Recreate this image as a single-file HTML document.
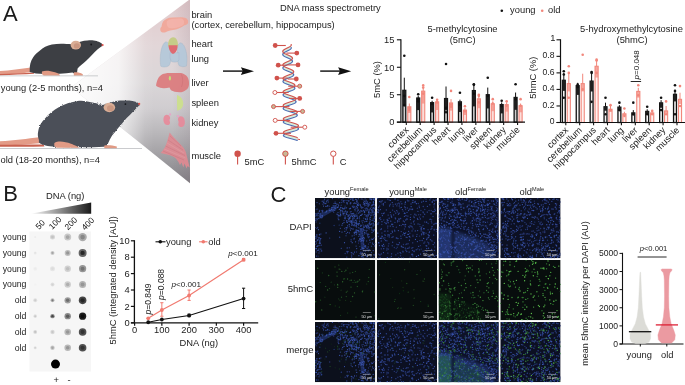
<!DOCTYPE html>
<html><head><meta charset="utf-8"><title>Figure</title>
<style>
html,body{margin:0;padding:0;background:#fff;}
body{width:685px;height:385px;overflow:hidden;}
svg.main{display:block;}
</style></head><body>
<svg class="main" width="685" height="385" viewBox="0 0 685 385" font-family="'Liberation Sans', Arial, sans-serif">
<rect width="685" height="385" fill="#fff"/>
<defs>
<linearGradient id="tri" x1="0" y1="0" x2="0" y2="183" gradientUnits="userSpaceOnUse">
<stop offset="0" stop-color="#e2cacc"/>
<stop offset="0.25" stop-color="#e2d6d8"/>
<stop offset="0.45" stop-color="#dad6d8"/>
<stop offset="0.59" stop-color="#d0cdd0"/>
<stop offset="0.72" stop-color="#bab8bb"/>
<stop offset="0.89" stop-color="#9a989c"/>
<stop offset="1" stop-color="#858287"/>
</linearGradient>
<linearGradient id="trih" x1="71" y1="0" x2="190" y2="0" gradientUnits="userSpaceOnUse">
<stop offset="0" stop-color="#fff" stop-opacity="0.95"/>
<stop offset="0.4" stop-color="#fff" stop-opacity="0.72"/>
<stop offset="0.62" stop-color="#fff" stop-opacity="0.08"/>
<stop offset="0.7" stop-color="#fff" stop-opacity="0"/>
<stop offset="0.85" stop-color="#604858" stop-opacity="0"/>
<stop offset="1" stop-color="#604858" stop-opacity="0.12"/>
</linearGradient>
<linearGradient id="wedge" x1="30" y1="0" x2="91" y2="0" gradientUnits="userSpaceOnUse">
<stop offset="0" stop-color="#fff"/>
<stop offset="1" stop-color="#1a1a1a"/>
</linearGradient>
<filter id="blur3" x="-20%" y="-20%" width="140%" height="140%"><feGaussianBlur stdDeviation="0.35"/></filter>
<filter id="blur6" x="-50%" y="-50%" width="200%" height="200%"><feGaussianBlur stdDeviation="0.6"/></filter>
<filter id="blur15" x="-50%" y="-50%" width="200%" height="200%"><feGaussianBlur stdDeviation="1.5"/></filter>
<filter id="fur" x="-5%" y="-8%" width="110%" height="116%"><feTurbulence type="fractalNoise" baseFrequency="0.9" numOctaves="2" seed="3" result="n"/><feDisplacementMap in="SourceGraphic" in2="n" scale="2.4" xChannelSelector="R" yChannelSelector="G"/><feGaussianBlur stdDeviation="0.3"/></filter>
<clipPath id="triclip"><polygon points="71.1,87.3 190,-0.8 190,183.3"/></clipPath>
</defs>
<text x="3.0" y="20.7" font-size="22" text-anchor="start" fill="#1a1a1a" >A</text>
<polygon points="71.1,87.3 190,-0.8 190,183.3" fill="url(#tri)"/>
<polygon points="71.1,87.3 190,-0.8 190,183.3" fill="url(#trih)"/>
<path d="M0,71.0 C10,70.4 21,68.8 31,67.4 L32,72 C22,73.4 10,74.2 0,74.8 Z" fill="#e39b87"/>
<path d="M0,73.9 C12,73.5 24,72.9 34,72.4 L34,73.8 C24,74.3 12,75 0,75.3 Z" fill="#c9614f"/>
<path d="M29.7,70 C29.5,66 30.5,61 33.2,57.2 C35,54.5 37.5,52.5 40,50.5 C43,47.8 47,45.6 51.9,44.6 C55,44 58,43.8 61,43.8 C65,43.8 68,44 71.7,44.3 L81.2,41.4 C83,40.8 85,40.5 87.4,40.4 C90,40.2 92,40.2 93.7,40.4 C96,40.7 97.5,41.2 98.7,41.7 C100.2,42.3 101.3,43 101.8,43.6 L103.1,45.1 C102.8,45.8 102.3,46.1 101.8,46.3 C100,47.5 98.5,48.5 97.4,49.5 C95.5,51.3 94,52.8 92.4,54.4 C90.3,56.5 88.2,58.6 86.2,60.7 C84.5,62.3 82.8,63.6 81.2,65 C79.8,66.2 78.5,67.2 77.6,68.5 L77,73.1 L73.5,73.3 L72.5,72.4 C65,73.6 55,73.9 45,73.9 C38,73.9 33,73.3 29.7,72 Z" fill="#3d3f44"/>
<ellipse cx="75.8" cy="45.1" rx="5.2" ry="4.4" fill="#d9ad95"/>
<ellipse cx="76.8" cy="45.9" rx="3.0" ry="2.6" fill="#c99680"/>
<circle cx="91.2" cy="44.5" r="0.9" fill="#15161a"/>
<circle cx="102.6" cy="45.1" r="1.1" fill="#e0564f"/>
<path d="M42,71.5 C45,70.2 50,70.6 55,72.3 C58,73.3 60,74.5 60,75.4 L44,75.6 C42,75 41.5,72.8 42,71.5 Z" fill="#e19a84"/>
<path d="M73.8,72.6 C76,72 80,72.6 82.8,74.2 L82.8,75.5 L73.8,75.5 Z" fill="#e19a84"/>
<rect x="0" y="75.4" width="98" height="0.9" fill="#8a8c92" opacity="0.45"/>
<path d="M0,141.3 C14,140.5 28,138.6 39,137.2 L40,143.2 C28,144.4 14,145 0,145.6 Z" fill="#e39b87"/>
<path d="M0,144.8 C14,144.6 30,144.4 44,144.4 L44,146.4 C30,146.6 14,146.8 0,146.8 Z" fill="#c9614f"/>
<path d="M38.9,140 C37.8,137 37.6,134 38.1,132 C38.6,129 39.3,126.5 40.4,124.6 C41.6,122.4 43,120.5 44.8,118.7 C46.6,116.6 48.6,114.6 50.7,112.8 C53.5,110.5 56.5,108.5 59.6,106.8 C62.5,105.3 65.5,104 68.5,103.1 C71.5,102.1 74.5,101.4 77.4,100.9 C80.5,100.5 83.5,100.6 86.2,101.2 C89.5,101.8 92.5,102.4 95.1,103.1 L102.8,105 L112.1,102.1 C114.8,101.2 117.3,100.8 119.9,100.6 C123,100.4 126.2,100.4 129.3,100.6 C131.5,100.9 133.6,101.2 135.5,101.7 C137.2,102.3 138.6,103 139.6,103.8 C139.4,104.8 139.1,105.5 138.6,106 C137.2,107.6 135.6,109.1 133.9,110.7 C131.4,113.3 128.8,115.9 126.2,118.5 C123.6,121.6 121,124.7 118.4,127.8 C116.3,130.4 114.2,133 112.1,135.6 C110.5,138.2 109,140.8 108,143.4 L107.6,146.6 L104,146.8 C90,147.6 70,147.4 55,146.8 C48,146.4 42,145 38.9,142.5 Z" fill="#4c5058" filter="url(#fur)"/>
<ellipse cx="109.4" cy="107.5" rx="5.8" ry="4.7" fill="#d9ad95"/>
<ellipse cx="110.4" cy="108.2" rx="3.4" ry="2.9" fill="#c99680"/>
<circle cx="125.4" cy="104.1" r="0.9" fill="#15161a"/>
<circle cx="139.2" cy="103.9" r="1.1" fill="#e0564f"/>
<path d="M54.4,143 C58,140.4 65,141.4 71,143.8 C75,145.5 78.8,146.8 78.8,147.8 L57,147.8 C54.5,147 53.8,144.5 54.4,143 Z" fill="#e19a84"/>
<path d="M104.3,145.6 C107,144.8 112,145 116.8,146.6 L116.8,148.2 L104.3,148.2 Z" fill="#e19a84"/>
<rect x="0" y="148" width="142" height="1" fill="#8a8c92" opacity="0.45"/>
<text x="0.8" y="90.8" font-size="9.35" text-anchor="start" fill="#222" >young (2-5 months), n=4</text>
<text x="0.5" y="163.3" font-size="9.35" text-anchor="start" fill="#222" >old (18-20 months), n=4</text>
<g clip-path="url(#triclip)" opacity="0.9">
<path d="M163.1,21.5 C165,19 168,17.6 172,17.4 L182,17.3 C184,17.4 185.5,17.8 186.5,18.6 C188,19.6 188.5,21.5 188,23 C187.5,24.5 186,25 184.5,25.3 C182,27 180,28.5 176,29.5 C172,30.3 168,30.8 165.5,32.2 C163.5,33 161.5,32.6 160.6,31 C159.8,29.3 160.4,27.5 161.5,26.8 C161.8,25 162.2,23 163.1,21.5 Z" fill="#f2a596"/>
<path d="M167,21 C170,18.5 176,18.2 181,18.6 C184,19.2 184.8,22 183.5,24.5 C181,27 176,28.2 171,28.3 C167.5,28.2 166,25 167,21 Z" fill="#f5b3aa" opacity="0.8"/>
<path d="M165.3,42 C162.5,44 160.8,50 160.4,56 C160.1,60 160.3,64 160.8,66.2 C162.5,67.3 166,67.2 168.5,66 C170.5,64 171,60 171,56 L171,47 C170,44 167.5,41.5 165.3,42 Z" fill="#b3c8da" stroke="#97b1c6" stroke-width="0.4"/>
<path d="M181,42.9 C184,44 186,49 186.7,55 C187.1,59 187,63 186.4,66 C184.5,67 181,66.8 179,65.5 C177.6,63 177.3,58 177.4,54 L177.5,47 C178,44.5 179.5,42.6 181,42.9 Z" fill="#b3c8da" stroke="#97b1c6" stroke-width="0.4"/>
<path d="M170,52.7 L179,52.7 L179,60 C177.5,62.5 174,62.5 171.5,61.5 L170,58 Z" fill="#b3c8da" stroke="#97b1c6" stroke-width="0.4"/>
<path d="M168.1,45.8 C167.8,41 170,37.4 173,37.3 C176,37.2 178.2,40.5 178,45.5 L178,46.6 L168.1,46.6 Z" fill="#c3cb80"/>
<path d="M168.6,45.3 L177.5,45.3 C177.8,48.5 176.8,51.5 174.5,53.2 C173.6,54 172.6,54.1 171.9,53.4 C169.7,51.5 168.4,48.5 168.6,45.3 Z" fill="#de5f66"/>
<path d="M156,85.5 C156.5,82 157.5,79 159,77 C160.2,75.5 161.5,74.5 162.8,74 L167.5,73 L181,73 C183.5,73.5 186,75 187.5,77 C188.8,79 189.2,82 189,84.5 C188.8,87 188,89 186,90 C184,91.5 182,92.3 179.7,92.3 C176,92.3 173,91.5 171,90.3 C170.2,89.2 169.8,88.2 169.5,87.6 C167.5,88 165.5,88.3 163.5,88.2 C161,88 159,87.5 158,87 C157,86.6 156.3,86.2 156,85.5 Z" fill="#dc787b"/>
<path d="M181.5,74.5 C183,78 183.2,83 181.5,87" stroke="#c96468" stroke-width="0.5" fill="none"/>
<ellipse cx="169.9" cy="78.3" rx="1.1" ry="2.3" fill="#bfe070"/>
<path d="M177,95 C180.5,96 183,99.5 183.2,103 C183.4,106.5 181.5,109.5 177.2,110.8 C177,105.5 176.9,100 177,95 Z" fill="#cde08a"/>
<path d="M166.5,114.7 C169,114.7 170.5,116.5 170.1,118.6 C169.4,119.6 169.3,120.8 170,122 C170.4,124 169,125.3 167,125.1 C164.8,124.9 163.5,122.5 163.4,120 C163.3,117 164.5,114.8 166.5,114.7 Z" fill="#e8899a"/>
<path d="M181,116.2 C178.6,116.2 177.6,118.3 178.1,120.5 C178.9,121.7 178.9,122.8 178.2,124 C178,126 179.8,127.3 181.9,127.1 C184,126.8 185,124.5 184.9,122 C184.8,118.8 183.5,116.3 181,116.2 Z" fill="#e8899a"/>
<circle cx="170.1" cy="114.4" r="1.1" fill="#eaa0c8"/><circle cx="178" cy="116.1" r="1.1" fill="#eaa0c8"/>
<path d="M169.7,132.6 C173,137 178,142 183.4,147.4 C185.5,150.5 186.5,153.5 186.9,156.6 C187.8,160 188.8,164 189.7,167.4 L187.5,166 L186.6,168.6 L184.5,163.5 L183.3,167.5 L181.5,162.5 L180,165 C178,160.5 176,158 173,156.5 C169,155 165,154 160.6,153.1 C162.5,151 164.5,148.5 166,145 C167.5,141 168.5,136.5 169.7,132.6 Z" fill="#e08a92"/>
<g stroke="#c66a75" stroke-width="0.45" fill="none" opacity="0.85"><path d="M168,140 L183,150"/><path d="M165.5,146 L185,155.5"/><path d="M163,151 L184,160"/><path d="M170,136 L181,146"/></g>
<g stroke="#f0b0b5" stroke-width="0.4" fill="none" opacity="0.8"><path d="M167,143 L184,153"/><path d="M164,149 L185.5,158"/></g>
</g>
<text x="191.4" y="17.7" font-size="9.35" text-anchor="start" fill="#222" >brain</text>
<text x="191.4" y="28.4" font-size="9.35" text-anchor="start" fill="#222" >(cortex, cerebellum, hippocampus)</text>
<text x="191.4" y="47.4" font-size="9.35" text-anchor="start" fill="#222" >heart</text>
<text x="191.4" y="61.9" font-size="9.35" text-anchor="start" fill="#222" >lung</text>
<text x="191.4" y="85.6" font-size="9.35" text-anchor="start" fill="#222" >liver</text>
<text x="191.4" y="105.8" font-size="9.35" text-anchor="start" fill="#222" >spleen</text>
<text x="191.4" y="125.6" font-size="9.35" text-anchor="start" fill="#222" >kidney</text>
<text x="191.4" y="158.8" font-size="9.35" text-anchor="start" fill="#222" >muscle</text>
<text x="280.0" y="11.4" font-size="9.35" text-anchor="start" fill="#222" >DNA mass spectrometry</text>
<line x1="223" y1="71.1" x2="244" y2="71.1" stroke="#1a1a1a" stroke-width="1.5"/>
<polygon points="240.9,67.19999999999999 254,71.3 240.9,75.0 242.7,71.1" fill="#111"/>
<line x1="320.2" y1="71.1" x2="341.2" y2="71.1" stroke="#1a1a1a" stroke-width="1.5"/>
<polygon points="338.09999999999997,67.19999999999999 351.2,71.3 338.09999999999997,75.0 339.9,71.1" fill="#111"/>
<polygon points="291.24,44.50 291.28,44.75 291.25,45.00 291.17,45.25 291.03,45.50 290.84,45.75 290.59,46.00 290.29,46.25 289.95,46.50 289.57,46.75 289.15,47.00 288.71,47.25 288.24,47.50 287.75,47.75 287.25,48.00 286.75,48.25 286.25,48.50 285.76,48.75 285.29,49.00 284.84,49.25 284.42,49.50 284.04,49.75 283.70,50.00 283.40,50.25 283.16,50.50 282.97,50.75 282.84,51.00 282.77,51.25 282.76,51.50 282.81,51.75 282.92,52.00 283.10,52.25 283.33,52.50 283.62,52.75 283.95,53.00 284.34,53.25 284.77,53.50 285.24,53.75 285.74,54.00 286.27,54.25 286.81,54.50 287.37,54.75 287.92,55.00 288.48,55.25 289.02,55.50 289.55,55.75 290.05,56.00 290.52,56.25 290.95,56.50 291.33,56.75 291.67,57.00 291.95,57.25 292.18,57.50 292.34,57.75 292.44,58.00 292.47,58.25 292.44,58.50 292.35,58.75 292.19,59.00 291.97,59.25 291.69,59.50 291.35,59.75 290.97,60.00 290.54,60.25 290.07,60.50 289.56,60.75 289.03,61.00 288.48,61.25 287.92,61.50 287.35,61.75 286.79,62.00 286.24,62.25 285.71,62.50 285.21,62.75 284.74,63.00 284.31,63.25 283.93,63.50 283.60,63.75 283.32,64.00 283.11,64.25 282.96,64.50 282.88,64.75 282.87,65.00 282.93,65.25 283.06,65.50 283.25,65.75 283.51,66.00 283.83,66.25 284.21,66.50 284.64,66.75 285.12,67.00 285.64,67.25 286.20,67.50 286.79,67.75 287.39,68.00 288.01,68.25 288.63,68.50 289.25,68.75 289.85,69.00 290.44,69.25 290.99,69.50 291.51,69.75 291.99,70.00 292.42,70.25 292.79,70.50 293.10,70.75 293.35,71.00 293.53,71.25 293.64,71.50 293.67,71.75 293.64,72.00 293.53,72.25 293.35,72.50 293.10,72.75 292.79,73.00 292.41,73.25 291.98,73.50 291.50,73.75 290.98,74.00 290.42,74.25 289.83,74.50 289.21,74.75 288.59,75.00 287.96,75.25 287.34,75.50 286.72,75.75 286.14,76.00 285.58,76.25 285.06,76.50 284.58,76.75 284.16,77.00 283.79,77.25 283.49,77.50 283.25,77.75 283.09,78.00 283.00,78.25 282.99,78.50 283.05,78.75 283.19,79.00 283.40,79.25 283.69,79.50 284.04,79.75 284.46,80.00 284.94,80.25 285.47,80.50 286.05,80.75 286.66,81.00 287.31,81.25 287.97,81.50 288.65,81.75 289.34,82.00 290.02,82.25 290.68,82.50 291.33,82.75 291.94,83.00 292.51,83.25 293.03,83.50 293.50,83.75 293.91,84.00 294.25,84.25 294.52,84.50 294.72,84.75 294.84,85.00 294.87,85.25 294.83,85.50 294.71,85.75 294.51,86.00 294.24,86.25 293.89,86.50 293.48,86.75 293.00,87.00 292.47,87.25 291.89,87.50 291.27,87.75 290.62,88.00 289.95,88.25 289.26,88.50 288.57,88.75 287.88,89.00 287.21,89.25 286.56,89.50 285.95,89.75 285.37,90.00 284.85,90.25 284.38,90.50 283.98,90.75 283.65,91.00 283.39,91.25 283.21,91.50 283.12,91.75 283.10,92.00 283.17,92.25 283.32,92.50 283.56,92.75 283.87,93.00 284.26,93.25 284.72,93.50 285.24,93.75 285.82,94.00 286.45,94.25 287.12,94.50 287.83,94.75 288.56,95.00 289.30,95.25 290.05,95.50 290.79,95.75 291.52,96.00 292.22,96.25 292.88,96.50 293.51,96.75 294.08,97.00 294.59,97.25 295.03,97.50 295.40,97.75 295.70,98.00 295.91,98.25 296.03,98.50 296.07,98.75 296.03,99.00 295.89,99.25 295.67,99.50 295.37,99.75 294.99,100.00 294.54,100.25 294.02,100.50 293.43,100.75 292.80,101.00 292.13,101.25 291.41,101.50 290.68,101.75 289.93,102.00 289.17,102.25 288.42,102.50 287.69,102.75 286.99,103.00 286.32,103.25 285.69,103.50 285.12,103.75 284.61,104.00 284.18,104.25 283.81,104.50 283.53,104.75 283.34,105.00 283.23,105.25 283.22,105.50 283.29,105.75 283.46,106.00 283.71,106.25 284.05,106.50 284.47,106.75 284.97,107.00 285.54,107.25 286.17,107.50 286.85,107.75 287.58,108.00 288.35,108.25 289.14,108.50 289.94,108.75 290.75,109.00 291.56,109.25 292.35,109.50 293.11,109.75 293.83,110.00 294.50,110.25 295.12,110.50 295.67,110.75 296.15,111.00 296.55,111.25 296.87,111.50 297.10,111.75 297.23,112.00 297.27,112.25 297.22,112.50 297.07,112.75 296.83,113.00 296.50,113.25 296.09,113.50 295.60,113.75 295.03,114.00 294.40,114.25 293.71,114.50 292.98,114.75 292.21,115.00 291.41,115.25 290.60,115.50 289.78,115.75 288.97,116.00 288.17,116.25 287.41,116.50 286.69,116.75 286.01,117.00 285.39,117.25 284.84,117.50 284.37,117.75 283.98,118.00 283.67,118.25 283.46,118.50 283.35,118.75 283.33,119.00 283.41,119.25 283.59,119.50 283.86,119.75 284.23,120.00 284.69,120.25 285.22,120.50 285.84,120.75 286.52,121.00 287.25,121.25 288.04,121.50 288.87,121.75 289.72,122.00 290.59,122.25 291.46,122.50 292.33,122.75 293.18,123.00 294.00,123.25 294.77,123.50 295.50,123.75 296.16,124.00 296.76,124.25 297.27,124.50 297.70,124.75 298.04,125.00 298.29,125.25 298.43,125.50 298.47,125.75 298.41,126.00 298.25,126.25 297.99,126.50 297.64,126.75 297.19,127.00 296.66,127.25 296.05,127.50 295.37,127.75 294.63,128.00 293.83,128.25 293.00,128.50 292.14,128.75 291.27,129.00 290.39,129.25 289.51,129.50 288.66,129.75 287.84,130.00 287.05,130.25 286.33,130.50 285.66,130.75 285.07,131.00 284.56,131.25 284.14,131.50 283.82,131.75 283.59,132.00 283.46,132.25 283.45,132.50 283.53,132.75 283.72,133.00 284.02,133.25 284.41,133.50 284.90,133.75 285.48,134.00 286.13,134.25 286.86,134.50 287.66,134.75 288.50,135.00 289.39,135.25 290.30,135.50 291.23,135.75 292.17,136.00 293.10,136.25 294.01,136.50 294.88,136.75 295.72,137.00 296.49,137.25 297.21,137.50 297.21,140.50 296.49,140.25 295.72,140.00 294.88,139.75 294.01,139.50 293.10,139.25 292.17,139.00 291.23,138.75 290.30,138.50 289.39,138.25 288.50,138.00 287.66,137.75 286.86,137.50 286.13,137.25 285.48,137.00 284.90,136.75 284.41,136.50 284.02,136.25 283.72,136.00 283.53,135.75 283.45,135.50 283.46,135.25 283.59,135.00 283.82,134.75 284.14,134.50 284.56,134.25 285.07,134.00 285.66,133.75 286.33,133.50 287.05,133.25 287.84,133.00 288.66,132.75 289.51,132.50 290.39,132.25 291.27,132.00 292.14,131.75 293.00,131.50 293.83,131.25 294.63,131.00 295.37,130.75 296.05,130.50 296.66,130.25 297.19,130.00 297.64,129.75 297.99,129.50 298.25,129.25 298.41,129.00 298.47,128.75 298.43,128.50 298.29,128.25 298.04,128.00 297.70,127.75 297.27,127.50 296.76,127.25 296.16,127.00 295.50,126.75 294.77,126.50 294.00,126.25 293.18,126.00 292.33,125.75 291.46,125.50 290.59,125.25 289.72,125.00 288.87,124.75 288.04,124.50 287.25,124.25 286.52,124.00 285.84,123.75 285.22,123.50 284.69,123.25 284.23,123.00 283.86,122.75 283.59,122.50 283.41,122.25 283.33,122.00 283.35,121.75 283.46,121.50 283.67,121.25 283.98,121.00 284.37,120.75 284.84,120.50 285.39,120.25 286.01,120.00 286.69,119.75 287.41,119.50 288.17,119.25 288.97,119.00 289.78,118.75 290.60,118.50 291.41,118.25 292.21,118.00 292.98,117.75 293.71,117.50 294.40,117.25 295.03,117.00 295.60,116.75 296.09,116.50 296.50,116.25 296.83,116.00 297.07,115.75 297.22,115.50 297.27,115.25 297.23,115.00 297.10,114.75 296.87,114.50 296.55,114.25 296.15,114.00 295.67,113.75 295.12,113.50 294.50,113.25 293.83,113.00 293.11,112.75 292.35,112.50 291.56,112.25 290.75,112.00 289.94,111.75 289.14,111.50 288.35,111.25 287.58,111.00 286.85,110.75 286.17,110.50 285.54,110.25 284.97,110.00 284.47,109.75 284.05,109.50 283.71,109.25 283.46,109.00 283.29,108.75 283.22,108.50 283.23,108.25 283.34,108.00 283.53,107.75 283.81,107.50 284.18,107.25 284.61,107.00 285.12,106.75 285.69,106.50 286.32,106.25 286.99,106.00 287.69,105.75 288.42,105.50 289.17,105.25 289.93,105.00 290.68,104.75 291.41,104.50 292.13,104.25 292.80,104.00 293.43,103.75 294.02,103.50 294.54,103.25 294.99,103.00 295.37,102.75 295.67,102.50 295.89,102.25 296.03,102.00 296.07,101.75 296.03,101.50 295.91,101.25 295.70,101.00 295.40,100.75 295.03,100.50 294.59,100.25 294.08,100.00 293.51,99.75 292.88,99.50 292.22,99.25 291.52,99.00 290.79,98.75 290.05,98.50 289.30,98.25 288.56,98.00 287.83,97.75 287.12,97.50 286.45,97.25 285.82,97.00 285.24,96.75 284.72,96.50 284.26,96.25 283.87,96.00 283.56,95.75 283.32,95.50 283.17,95.25 283.10,95.00 283.12,94.75 283.21,94.50 283.39,94.25 283.65,94.00 283.98,93.75 284.38,93.50 284.85,93.25 285.37,93.00 285.95,92.75 286.56,92.50 287.21,92.25 287.88,92.00 288.57,91.75 289.26,91.50 289.95,91.25 290.62,91.00 291.27,90.75 291.89,90.50 292.47,90.25 293.00,90.00 293.48,89.75 293.89,89.50 294.24,89.25 294.51,89.00 294.71,88.75 294.83,88.50 294.87,88.25 294.84,88.00 294.72,87.75 294.52,87.50 294.25,87.25 293.91,87.00 293.50,86.75 293.03,86.50 292.51,86.25 291.94,86.00 291.33,85.75 290.68,85.50 290.02,85.25 289.34,85.00 288.65,84.75 287.97,84.50 287.31,84.25 286.66,84.00 286.05,83.75 285.47,83.50 284.94,83.25 284.46,83.00 284.04,82.75 283.69,82.50 283.40,82.25 283.19,82.00 283.05,81.75 282.99,81.50 283.00,81.25 283.09,81.00 283.25,80.75 283.49,80.50 283.79,80.25 284.16,80.00 284.58,79.75 285.06,79.50 285.58,79.25 286.14,79.00 286.72,78.75 287.34,78.50 287.96,78.25 288.59,78.00 289.21,77.75 289.83,77.50 290.42,77.25 290.98,77.00 291.50,76.75 291.98,76.50 292.41,76.25 292.79,76.00 293.10,75.75 293.35,75.50 293.53,75.25 293.64,75.00 293.67,74.75 293.64,74.50 293.53,74.25 293.35,74.00 293.10,73.75 292.79,73.50 292.42,73.25 291.99,73.00 291.51,72.75 290.99,72.50 290.44,72.25 289.85,72.00 289.25,71.75 288.63,71.50 288.01,71.25 287.39,71.00 286.79,70.75 286.20,70.50 285.64,70.25 285.12,70.00 284.64,69.75 284.21,69.50 283.83,69.25 283.51,69.00 283.25,68.75 283.06,68.50 282.93,68.25 282.87,68.00 282.88,67.75 282.96,67.50 283.11,67.25 283.32,67.00 283.60,66.75 283.93,66.50 284.31,66.25 284.74,66.00 285.21,65.75 285.71,65.50 286.24,65.25 286.79,65.00 287.35,64.75 287.92,64.50 288.48,64.25 289.03,64.00 289.56,63.75 290.07,63.50 290.54,63.25 290.97,63.00 291.35,62.75 291.69,62.50 291.97,62.25 292.19,62.00 292.35,61.75 292.44,61.50 292.47,61.25 292.44,61.00 292.34,60.75 292.18,60.50 291.95,60.25 291.67,60.00 291.33,59.75 290.95,59.50 290.52,59.25 290.05,59.00 289.55,58.75 289.02,58.50 288.48,58.25 287.92,58.00 287.37,57.75 286.81,57.50 286.27,57.25 285.74,57.00 285.24,56.75 284.77,56.50 284.34,56.25 283.95,56.00 283.62,55.75 283.33,55.50 283.10,55.25 282.92,55.00 282.81,54.75 282.76,54.50 282.77,54.25 282.84,54.00 282.97,53.75 283.16,53.50 283.40,53.25 283.70,53.00 284.04,52.75 284.42,52.50 284.84,52.25 285.29,52.00 285.76,51.75 286.25,51.50 286.75,51.25 287.25,51.00 287.75,50.75 288.24,50.50 288.71,50.25 289.15,50.00 289.57,49.75 289.95,49.50 290.29,49.25 290.59,49.00 290.84,48.75 291.03,48.50 291.17,48.25 291.25,48.00 291.28,47.75 291.24,47.50" fill="#d4eadc"/>
<path d="M291.24,47.50 L291.28,47.75 L291.25,48.00 L291.17,48.25 L291.03,48.50 L290.84,48.75 L290.59,49.00 L290.29,49.25 L289.95,49.50 L289.57,49.75 L289.15,50.00 L288.71,50.25 L288.24,50.50 L287.75,50.75 L287.25,51.00 L286.75,51.25 L286.25,51.50 L285.76,51.75 L285.29,52.00 L284.84,52.25 L284.42,52.50 L284.04,52.75 L283.70,53.00 L283.40,53.25 L283.16,53.50 L282.97,53.75 L282.84,54.00 L282.77,54.25 L282.76,54.50 L282.81,54.75 L282.92,55.00 L283.10,55.25 L283.33,55.50 L283.62,55.75 L283.95,56.00 L284.34,56.25 L284.77,56.50 L285.24,56.75 L285.74,57.00 L286.27,57.25 L286.81,57.50 L287.37,57.75 L287.92,58.00 L288.48,58.25 L289.02,58.50 L289.55,58.75 L290.05,59.00 L290.52,59.25 L290.95,59.50 L291.33,59.75 L291.67,60.00 L291.95,60.25 L292.18,60.50 L292.34,60.75 L292.44,61.00 L292.47,61.25 L292.44,61.50 L292.35,61.75 L292.19,62.00 L291.97,62.25 L291.69,62.50 L291.35,62.75 L290.97,63.00 L290.54,63.25 L290.07,63.50 L289.56,63.75 L289.03,64.00 L288.48,64.25 L287.92,64.50 L287.35,64.75 L286.79,65.00 L286.24,65.25 L285.71,65.50 L285.21,65.75 L284.74,66.00 L284.31,66.25 L283.93,66.50 L283.60,66.75 L283.32,67.00 L283.11,67.25 L282.96,67.50 L282.88,67.75 L282.87,68.00 L282.93,68.25 L283.06,68.50 L283.25,68.75 L283.51,69.00 L283.83,69.25 L284.21,69.50 L284.64,69.75 L285.12,70.00 L285.64,70.25 L286.20,70.50 L286.79,70.75 L287.39,71.00 L288.01,71.25 L288.63,71.50 L289.25,71.75 L289.85,72.00 L290.44,72.25 L290.99,72.50 L291.51,72.75 L291.99,73.00 L292.42,73.25 L292.79,73.50 L293.10,73.75 L293.35,74.00 L293.53,74.25 L293.64,74.50 L293.67,74.75 L293.64,75.00 L293.53,75.25 L293.35,75.50 L293.10,75.75 L292.79,76.00 L292.41,76.25 L291.98,76.50 L291.50,76.75 L290.98,77.00 L290.42,77.25 L289.83,77.50 L289.21,77.75 L288.59,78.00 L287.96,78.25 L287.34,78.50 L286.72,78.75 L286.14,79.00 L285.58,79.25 L285.06,79.50 L284.58,79.75 L284.16,80.00 L283.79,80.25 L283.49,80.50 L283.25,80.75 L283.09,81.00 L283.00,81.25 L282.99,81.50 L283.05,81.75 L283.19,82.00 L283.40,82.25 L283.69,82.50 L284.04,82.75 L284.46,83.00 L284.94,83.25 L285.47,83.50 L286.05,83.75 L286.66,84.00 L287.31,84.25 L287.97,84.50 L288.65,84.75 L289.34,85.00 L290.02,85.25 L290.68,85.50 L291.33,85.75 L291.94,86.00 L292.51,86.25 L293.03,86.50 L293.50,86.75 L293.91,87.00 L294.25,87.25 L294.52,87.50 L294.72,87.75 L294.84,88.00 L294.87,88.25 L294.83,88.50 L294.71,88.75 L294.51,89.00 L294.24,89.25 L293.89,89.50 L293.48,89.75 L293.00,90.00 L292.47,90.25 L291.89,90.50 L291.27,90.75 L290.62,91.00 L289.95,91.25 L289.26,91.50 L288.57,91.75 L287.88,92.00 L287.21,92.25 L286.56,92.50 L285.95,92.75 L285.37,93.00 L284.85,93.25 L284.38,93.50 L283.98,93.75 L283.65,94.00 L283.39,94.25 L283.21,94.50 L283.12,94.75 L283.10,95.00 L283.17,95.25 L283.32,95.50 L283.56,95.75 L283.87,96.00 L284.26,96.25 L284.72,96.50 L285.24,96.75 L285.82,97.00 L286.45,97.25 L287.12,97.50 L287.83,97.75 L288.56,98.00 L289.30,98.25 L290.05,98.50 L290.79,98.75 L291.52,99.00 L292.22,99.25 L292.88,99.50 L293.51,99.75 L294.08,100.00 L294.59,100.25 L295.03,100.50 L295.40,100.75 L295.70,101.00 L295.91,101.25 L296.03,101.50 L296.07,101.75 L296.03,102.00 L295.89,102.25 L295.67,102.50 L295.37,102.75 L294.99,103.00 L294.54,103.25 L294.02,103.50 L293.43,103.75 L292.80,104.00 L292.13,104.25 L291.41,104.50 L290.68,104.75 L289.93,105.00 L289.17,105.25 L288.42,105.50 L287.69,105.75 L286.99,106.00 L286.32,106.25 L285.69,106.50 L285.12,106.75 L284.61,107.00 L284.18,107.25 L283.81,107.50 L283.53,107.75 L283.34,108.00 L283.23,108.25 L283.22,108.50 L283.29,108.75 L283.46,109.00 L283.71,109.25 L284.05,109.50 L284.47,109.75 L284.97,110.00 L285.54,110.25 L286.17,110.50 L286.85,110.75 L287.58,111.00 L288.35,111.25 L289.14,111.50 L289.94,111.75 L290.75,112.00 L291.56,112.25 L292.35,112.50 L293.11,112.75 L293.83,113.00 L294.50,113.25 L295.12,113.50 L295.67,113.75 L296.15,114.00 L296.55,114.25 L296.87,114.50 L297.10,114.75 L297.23,115.00 L297.27,115.25 L297.22,115.50 L297.07,115.75 L296.83,116.00 L296.50,116.25 L296.09,116.50 L295.60,116.75 L295.03,117.00 L294.40,117.25 L293.71,117.50 L292.98,117.75 L292.21,118.00 L291.41,118.25 L290.60,118.50 L289.78,118.75 L288.97,119.00 L288.17,119.25 L287.41,119.50 L286.69,119.75 L286.01,120.00 L285.39,120.25 L284.84,120.50 L284.37,120.75 L283.98,121.00 L283.67,121.25 L283.46,121.50 L283.35,121.75 L283.33,122.00 L283.41,122.25 L283.59,122.50 L283.86,122.75 L284.23,123.00 L284.69,123.25 L285.22,123.50 L285.84,123.75 L286.52,124.00 L287.25,124.25 L288.04,124.50 L288.87,124.75 L289.72,125.00 L290.59,125.25 L291.46,125.50 L292.33,125.75 L293.18,126.00 L294.00,126.25 L294.77,126.50 L295.50,126.75 L296.16,127.00 L296.76,127.25 L297.27,127.50 L297.70,127.75 L298.04,128.00 L298.29,128.25 L298.43,128.50 L298.47,128.75 L298.41,129.00 L298.25,129.25 L297.99,129.50 L297.64,129.75 L297.19,130.00 L296.66,130.25 L296.05,130.50 L295.37,130.75 L294.63,131.00 L293.83,131.25 L293.00,131.50 L292.14,131.75 L291.27,132.00 L290.39,132.25 L289.51,132.50 L288.66,132.75 L287.84,133.00 L287.05,133.25 L286.33,133.50 L285.66,133.75 L285.07,134.00 L284.56,134.25 L284.14,134.50 L283.82,134.75 L283.59,135.00 L283.46,135.25 L283.45,135.50 L283.53,135.75 L283.72,136.00 L284.02,136.25 L284.41,136.50 L284.90,136.75 L285.48,137.00 L286.13,137.25 L286.86,137.50 L287.66,137.75 L288.50,138.00 L289.39,138.25 L290.30,138.50 L291.23,138.75 L292.17,139.00 L293.10,139.25 L294.01,139.50 L294.88,139.75 L295.72,140.00 L296.49,140.25 L297.21,140.50" fill="none" stroke="#4a6cb4" stroke-width="1.2" stroke-linecap="round"/>
<path d="M291.24,44.50 L291.28,44.75 L291.25,45.00 L291.17,45.25 L291.03,45.50 L290.84,45.75 L290.59,46.00 L290.29,46.25 L289.95,46.50 L289.57,46.75 L289.15,47.00 L288.71,47.25 L288.24,47.50 L287.75,47.75 L287.25,48.00 L286.75,48.25 L286.25,48.50 L285.76,48.75 L285.29,49.00 L284.84,49.25 L284.42,49.50 L284.04,49.75 L283.70,50.00 L283.40,50.25 L283.16,50.50 L282.97,50.75 L282.84,51.00 L282.77,51.25 L282.76,51.50 L282.81,51.75 L282.92,52.00 L283.10,52.25 L283.33,52.50 L283.62,52.75 L283.95,53.00 L284.34,53.25 L284.77,53.50 L285.24,53.75 L285.74,54.00 L286.27,54.25 L286.81,54.50 L287.37,54.75 L287.92,55.00 L288.48,55.25 L289.02,55.50 L289.55,55.75 L290.05,56.00 L290.52,56.25 L290.95,56.50 L291.33,56.75 L291.67,57.00 L291.95,57.25 L292.18,57.50 L292.34,57.75 L292.44,58.00 L292.47,58.25 L292.44,58.50 L292.35,58.75 L292.19,59.00 L291.97,59.25 L291.69,59.50 L291.35,59.75 L290.97,60.00 L290.54,60.25 L290.07,60.50 L289.56,60.75 L289.03,61.00 L288.48,61.25 L287.92,61.50 L287.35,61.75 L286.79,62.00 L286.24,62.25 L285.71,62.50 L285.21,62.75 L284.74,63.00 L284.31,63.25 L283.93,63.50 L283.60,63.75 L283.32,64.00 L283.11,64.25 L282.96,64.50 L282.88,64.75 L282.87,65.00 L282.93,65.25 L283.06,65.50 L283.25,65.75 L283.51,66.00 L283.83,66.25 L284.21,66.50 L284.64,66.75 L285.12,67.00 L285.64,67.25 L286.20,67.50 L286.79,67.75 L287.39,68.00 L288.01,68.25 L288.63,68.50 L289.25,68.75 L289.85,69.00 L290.44,69.25 L290.99,69.50 L291.51,69.75 L291.99,70.00 L292.42,70.25 L292.79,70.50 L293.10,70.75 L293.35,71.00 L293.53,71.25 L293.64,71.50 L293.67,71.75 L293.64,72.00 L293.53,72.25 L293.35,72.50 L293.10,72.75 L292.79,73.00 L292.41,73.25 L291.98,73.50 L291.50,73.75 L290.98,74.00 L290.42,74.25 L289.83,74.50 L289.21,74.75 L288.59,75.00 L287.96,75.25 L287.34,75.50 L286.72,75.75 L286.14,76.00 L285.58,76.25 L285.06,76.50 L284.58,76.75 L284.16,77.00 L283.79,77.25 L283.49,77.50 L283.25,77.75 L283.09,78.00 L283.00,78.25 L282.99,78.50 L283.05,78.75 L283.19,79.00 L283.40,79.25 L283.69,79.50 L284.04,79.75 L284.46,80.00 L284.94,80.25 L285.47,80.50 L286.05,80.75 L286.66,81.00 L287.31,81.25 L287.97,81.50 L288.65,81.75 L289.34,82.00 L290.02,82.25 L290.68,82.50 L291.33,82.75 L291.94,83.00 L292.51,83.25 L293.03,83.50 L293.50,83.75 L293.91,84.00 L294.25,84.25 L294.52,84.50 L294.72,84.75 L294.84,85.00 L294.87,85.25 L294.83,85.50 L294.71,85.75 L294.51,86.00 L294.24,86.25 L293.89,86.50 L293.48,86.75 L293.00,87.00 L292.47,87.25 L291.89,87.50 L291.27,87.75 L290.62,88.00 L289.95,88.25 L289.26,88.50 L288.57,88.75 L287.88,89.00 L287.21,89.25 L286.56,89.50 L285.95,89.75 L285.37,90.00 L284.85,90.25 L284.38,90.50 L283.98,90.75 L283.65,91.00 L283.39,91.25 L283.21,91.50 L283.12,91.75 L283.10,92.00 L283.17,92.25 L283.32,92.50 L283.56,92.75 L283.87,93.00 L284.26,93.25 L284.72,93.50 L285.24,93.75 L285.82,94.00 L286.45,94.25 L287.12,94.50 L287.83,94.75 L288.56,95.00 L289.30,95.25 L290.05,95.50 L290.79,95.75 L291.52,96.00 L292.22,96.25 L292.88,96.50 L293.51,96.75 L294.08,97.00 L294.59,97.25 L295.03,97.50 L295.40,97.75 L295.70,98.00 L295.91,98.25 L296.03,98.50 L296.07,98.75 L296.03,99.00 L295.89,99.25 L295.67,99.50 L295.37,99.75 L294.99,100.00 L294.54,100.25 L294.02,100.50 L293.43,100.75 L292.80,101.00 L292.13,101.25 L291.41,101.50 L290.68,101.75 L289.93,102.00 L289.17,102.25 L288.42,102.50 L287.69,102.75 L286.99,103.00 L286.32,103.25 L285.69,103.50 L285.12,103.75 L284.61,104.00 L284.18,104.25 L283.81,104.50 L283.53,104.75 L283.34,105.00 L283.23,105.25 L283.22,105.50 L283.29,105.75 L283.46,106.00 L283.71,106.25 L284.05,106.50 L284.47,106.75 L284.97,107.00 L285.54,107.25 L286.17,107.50 L286.85,107.75 L287.58,108.00 L288.35,108.25 L289.14,108.50 L289.94,108.75 L290.75,109.00 L291.56,109.25 L292.35,109.50 L293.11,109.75 L293.83,110.00 L294.50,110.25 L295.12,110.50 L295.67,110.75 L296.15,111.00 L296.55,111.25 L296.87,111.50 L297.10,111.75 L297.23,112.00 L297.27,112.25 L297.22,112.50 L297.07,112.75 L296.83,113.00 L296.50,113.25 L296.09,113.50 L295.60,113.75 L295.03,114.00 L294.40,114.25 L293.71,114.50 L292.98,114.75 L292.21,115.00 L291.41,115.25 L290.60,115.50 L289.78,115.75 L288.97,116.00 L288.17,116.25 L287.41,116.50 L286.69,116.75 L286.01,117.00 L285.39,117.25 L284.84,117.50 L284.37,117.75 L283.98,118.00 L283.67,118.25 L283.46,118.50 L283.35,118.75 L283.33,119.00 L283.41,119.25 L283.59,119.50 L283.86,119.75 L284.23,120.00 L284.69,120.25 L285.22,120.50 L285.84,120.75 L286.52,121.00 L287.25,121.25 L288.04,121.50 L288.87,121.75 L289.72,122.00 L290.59,122.25 L291.46,122.50 L292.33,122.75 L293.18,123.00 L294.00,123.25 L294.77,123.50 L295.50,123.75 L296.16,124.00 L296.76,124.25 L297.27,124.50 L297.70,124.75 L298.04,125.00 L298.29,125.25 L298.43,125.50 L298.47,125.75 L298.41,126.00 L298.25,126.25 L297.99,126.50 L297.64,126.75 L297.19,127.00 L296.66,127.25 L296.05,127.50 L295.37,127.75 L294.63,128.00 L293.83,128.25 L293.00,128.50 L292.14,128.75 L291.27,129.00 L290.39,129.25 L289.51,129.50 L288.66,129.75 L287.84,130.00 L287.05,130.25 L286.33,130.50 L285.66,130.75 L285.07,131.00 L284.56,131.25 L284.14,131.50 L283.82,131.75 L283.59,132.00 L283.46,132.25 L283.45,132.50 L283.53,132.75 L283.72,133.00 L284.02,133.25 L284.41,133.50 L284.90,133.75 L285.48,134.00 L286.13,134.25 L286.86,134.50 L287.66,134.75 L288.50,135.00 L289.39,135.25 L290.30,135.50 L291.23,135.75 L292.17,136.00 L293.10,136.25 L294.01,136.50 L294.88,136.75 L295.72,137.00 L296.49,137.25 L297.21,137.50" fill="none" stroke="#d0524c" stroke-width="1.2" stroke-linecap="round"/>
<path d="M297.21,139.00 L300,139.6" stroke="#d0524c" stroke-width="1" fill="none"/>
<line x1="275.2" y1="45.5" x2="285.8" y2="45.5" stroke="#d0524c" stroke-width="1.1"/>
<circle cx="275.2" cy="45.5" r="2.4" fill="#d0524c" stroke="#d0524c" stroke-width="0"/>
<line x1="296.8" y1="53.1" x2="286.3" y2="53.1" stroke="#d0524c" stroke-width="1.1"/>
<circle cx="296.8" cy="53.1" r="2.4" fill="#d0524c" stroke="#d0524c" stroke-width="0"/>
<line x1="278.2" y1="65.2" x2="287.0" y2="65.2" stroke="#d0524c" stroke-width="1.1"/>
<circle cx="278.2" cy="65.2" r="2.4" fill="#d0524c" stroke="#d0524c" stroke-width="0"/>
<line x1="298.0" y1="64.9" x2="287.0" y2="64.9" stroke="#d0524c" stroke-width="1.1"/>
<circle cx="298.0" cy="64.9" r="2.4" fill="#d0524c" stroke="#d0524c" stroke-width="0"/>
<line x1="276.9" y1="78.1" x2="287.8" y2="78.1" stroke="#d0524c" stroke-width="1.1"/>
<circle cx="276.9" cy="78.1" r="2.4" fill="#d0524c" stroke="#d0524c" stroke-width="0"/>
<line x1="296.3" y1="79.0" x2="287.8" y2="79.0" stroke="#d0524c" stroke-width="1.1"/>
<circle cx="296.3" cy="79.0" r="2.4" fill="#d0524c" stroke="#d0524c" stroke-width="0"/>
<line x1="299.7" y1="86.2" x2="288.2" y2="86.2" stroke="#d0524c" stroke-width="1.1"/>
<circle cx="299.7" cy="86.2" r="2.0" fill="#c8b896" stroke="#d0524c" stroke-width="0.9"/>
<line x1="274.9" y1="92.5" x2="288.6" y2="92.5" stroke="#d0524c" stroke-width="1.1"/>
<circle cx="274.9" cy="92.5" r="2.0" fill="#fff" stroke="#d0524c" stroke-width="0.9"/>
<line x1="299.7" y1="98.4" x2="289.0" y2="98.4" stroke="#d0524c" stroke-width="1.1"/>
<circle cx="299.7" cy="98.4" r="2.4" fill="#d0524c" stroke="#d0524c" stroke-width="0"/>
<line x1="273.5" y1="106.6" x2="289.5" y2="106.6" stroke="#d0524c" stroke-width="1.1"/>
<circle cx="273.5" cy="106.6" r="2.0" fill="#c8b896" stroke="#d0524c" stroke-width="0.9"/>
<line x1="302.6" y1="111.4" x2="289.7" y2="111.4" stroke="#d0524c" stroke-width="1.1"/>
<circle cx="302.6" cy="111.4" r="2.0" fill="#c8b896" stroke="#d0524c" stroke-width="0.9"/>
<line x1="275.2" y1="120.4" x2="290.3" y2="120.4" stroke="#d0524c" stroke-width="1.1"/>
<circle cx="275.2" cy="120.4" r="2.0" fill="#fff" stroke="#d0524c" stroke-width="0.9"/>
<line x1="304.8" y1="127.2" x2="290.7" y2="127.2" stroke="#d0524c" stroke-width="1.1"/>
<circle cx="304.8" cy="127.2" r="2.0" fill="#fff" stroke="#d0524c" stroke-width="0.9"/>
<line x1="276.0" y1="133.3" x2="291.0" y2="133.3" stroke="#d0524c" stroke-width="1.1"/>
<circle cx="276.0" cy="133.3" r="2.4" fill="#d0524c" stroke="#d0524c" stroke-width="0"/>
<line x1="237.6" y1="155" x2="237.6" y2="164.6" stroke="#d0524c" stroke-width="1.1"/>
<circle cx="237.6" cy="153.7" r="3.2" fill="#d0524c" stroke="#d0524c" stroke-width="0"/>
<text x="244.6" y="164.5" font-size="9.35" text-anchor="start" fill="#222" >5mC</text>
<line x1="285.4" y1="155" x2="285.4" y2="164.6" stroke="#d0524c" stroke-width="1.1"/>
<circle cx="285.4" cy="153.7" r="2.7" fill="#c8b896" stroke="#d0524c" stroke-width="1.0"/>
<text x="291.6" y="164.5" font-size="9.35" text-anchor="start" fill="#222" >5hmC</text>
<line x1="333.3" y1="155" x2="333.3" y2="164.6" stroke="#d0524c" stroke-width="1.1"/>
<circle cx="333.3" cy="153.7" r="2.7" fill="#fff" stroke="#d0524c" stroke-width="1.0"/>
<text x="339.8" y="164.5" font-size="9.35" text-anchor="start" fill="#222" >C</text>
<line x1="404.30" y1="90.34" x2="404.30" y2="77.70" stroke="#111" stroke-width="1"/>
<line x1="409.30" y1="106.82" x2="409.30" y2="103.52" stroke="#f2877c" stroke-width="1"/>
<rect x="402.85" y="90.34" width="2.9" height="31.86" fill="#cfcfcf" stroke="#111" stroke-width="1.3"/>
<rect x="402.85" y="90.34" width="2.9" height="15.93" fill="#1e1e1e"/>
<rect x="407.75" y="106.82" width="3.1" height="15.38" fill="#fcdeda" stroke="#f2877c" stroke-width="1.1"/>
<rect x="407.75" y="106.82" width="3.1" height="6.15" fill="#f2877c" opacity="0.7"/>
<circle cx="404.30" cy="55.73" r="1.3" fill="#111"/>
<circle cx="404.30" cy="95.83" r="1.3" fill="#111"/>
<circle cx="404.30" cy="105.17" r="1.3" fill="#111"/>
<circle cx="409.30" cy="96.93" r="1.3" fill="#f2877c"/>
<circle cx="409.30" cy="107.92" r="1.3" fill="#f2877c"/>
<circle cx="409.30" cy="110.11" r="1.3" fill="#f2877c"/>
<line x1="418.21" y1="98.03" x2="418.21" y2="95.83" stroke="#111" stroke-width="1"/>
<line x1="423.21" y1="91.16" x2="423.21" y2="87.04" stroke="#f2877c" stroke-width="1"/>
<rect x="416.76" y="98.03" width="2.9" height="24.17" fill="#cfcfcf" stroke="#111" stroke-width="1.3"/>
<rect x="416.76" y="98.03" width="2.9" height="12.09" fill="#1e1e1e"/>
<rect x="421.66" y="91.16" width="3.1" height="31.04" fill="#fcdeda" stroke="#f2877c" stroke-width="1.1"/>
<rect x="421.66" y="91.16" width="3.1" height="12.41" fill="#f2877c" opacity="0.7"/>
<circle cx="418.21" cy="94.18" r="1.3" fill="#111"/>
<circle cx="418.21" cy="99.13" r="1.3" fill="#111"/>
<circle cx="418.21" cy="101.33" r="1.3" fill="#111"/>
<circle cx="423.21" cy="85.39" r="1.3" fill="#f2877c"/>
<circle cx="423.21" cy="87.59" r="1.3" fill="#f2877c"/>
<circle cx="423.21" cy="93.63" r="1.3" fill="#f2877c"/>
<line x1="432.12" y1="102.70" x2="432.12" y2="100.78" stroke="#111" stroke-width="1"/>
<line x1="437.12" y1="101.87" x2="437.12" y2="100.23" stroke="#f2877c" stroke-width="1"/>
<rect x="430.67" y="102.70" width="2.9" height="19.50" fill="#cfcfcf" stroke="#111" stroke-width="1.3"/>
<rect x="430.67" y="102.70" width="2.9" height="9.75" fill="#1e1e1e"/>
<rect x="435.57" y="101.87" width="3.1" height="20.33" fill="#fcdeda" stroke="#f2877c" stroke-width="1.1"/>
<rect x="435.57" y="101.87" width="3.1" height="8.13" fill="#f2877c" opacity="0.7"/>
<circle cx="432.12" cy="97.75" r="1.3" fill="#111"/>
<circle cx="432.12" cy="104.07" r="1.3" fill="#111"/>
<circle cx="437.12" cy="99.68" r="1.3" fill="#f2877c"/>
<circle cx="437.12" cy="102.42" r="1.3" fill="#f2877c"/>
<line x1="446.03" y1="98.58" x2="446.03" y2="86.49" stroke="#111" stroke-width="1"/>
<line x1="451.03" y1="102.97" x2="451.03" y2="99.13" stroke="#f2877c" stroke-width="1"/>
<rect x="444.58" y="98.58" width="2.9" height="23.62" fill="#cfcfcf" stroke="#111" stroke-width="1.3"/>
<rect x="444.58" y="98.58" width="2.9" height="11.81" fill="#1e1e1e"/>
<rect x="449.48" y="102.97" width="3.1" height="19.23" fill="#fcdeda" stroke="#f2877c" stroke-width="1.1"/>
<rect x="449.48" y="102.97" width="3.1" height="7.69" fill="#f2877c" opacity="0.7"/>
<circle cx="446.03" cy="63.97" r="1.3" fill="#111"/>
<circle cx="446.03" cy="107.92" r="1.3" fill="#111"/>
<circle cx="446.03" cy="112.31" r="1.3" fill="#111"/>
<circle cx="451.03" cy="90.89" r="1.3" fill="#f2877c"/>
<circle cx="451.03" cy="104.62" r="1.3" fill="#f2877c"/>
<circle cx="451.03" cy="106.82" r="1.3" fill="#f2877c"/>
<line x1="459.94" y1="101.87" x2="459.94" y2="99.68" stroke="#111" stroke-width="1"/>
<line x1="464.94" y1="110.11" x2="464.94" y2="107.92" stroke="#f2877c" stroke-width="1"/>
<rect x="458.49" y="101.87" width="2.9" height="20.33" fill="#cfcfcf" stroke="#111" stroke-width="1.3"/>
<rect x="458.49" y="101.87" width="2.9" height="10.16" fill="#1e1e1e"/>
<rect x="463.39" y="110.11" width="3.1" height="12.09" fill="#fcdeda" stroke="#f2877c" stroke-width="1.1"/>
<rect x="463.39" y="110.11" width="3.1" height="4.83" fill="#f2877c" opacity="0.7"/>
<circle cx="459.94" cy="92.81" r="1.3" fill="#111"/>
<circle cx="459.94" cy="104.62" r="1.3" fill="#111"/>
<circle cx="464.94" cy="106.27" r="1.3" fill="#f2877c"/>
<circle cx="464.94" cy="111.21" r="1.3" fill="#f2877c"/>
<line x1="473.85" y1="90.61" x2="473.85" y2="84.30" stroke="#111" stroke-width="1"/>
<line x1="478.85" y1="98.85" x2="478.85" y2="95.28" stroke="#f2877c" stroke-width="1"/>
<rect x="472.40" y="90.61" width="2.9" height="31.59" fill="#cfcfcf" stroke="#111" stroke-width="1.3"/>
<rect x="472.40" y="90.61" width="2.9" height="15.79" fill="#1e1e1e"/>
<rect x="477.30" y="98.85" width="3.1" height="23.35" fill="#fcdeda" stroke="#f2877c" stroke-width="1.1"/>
<rect x="477.30" y="98.85" width="3.1" height="9.34" fill="#f2877c" opacity="0.7"/>
<circle cx="473.85" cy="84.30" r="1.3" fill="#111"/>
<circle cx="473.85" cy="84.85" r="1.3" fill="#111"/>
<circle cx="473.85" cy="93.63" r="1.3" fill="#111"/>
<circle cx="478.85" cy="94.73" r="1.3" fill="#f2877c"/>
<circle cx="478.85" cy="95.83" r="1.3" fill="#f2877c"/>
<circle cx="478.85" cy="102.42" r="1.3" fill="#f2877c"/>
<line x1="487.76" y1="94.73" x2="487.76" y2="87.59" stroke="#111" stroke-width="1"/>
<line x1="492.76" y1="103.80" x2="492.76" y2="101.33" stroke="#f2877c" stroke-width="1"/>
<rect x="486.31" y="94.73" width="2.9" height="27.47" fill="#cfcfcf" stroke="#111" stroke-width="1.3"/>
<rect x="486.31" y="94.73" width="2.9" height="13.73" fill="#1e1e1e"/>
<rect x="491.21" y="103.80" width="3.1" height="18.40" fill="#fcdeda" stroke="#f2877c" stroke-width="1.1"/>
<rect x="491.21" y="103.80" width="3.1" height="7.36" fill="#f2877c" opacity="0.7"/>
<circle cx="487.76" cy="77.70" r="1.3" fill="#111"/>
<circle cx="487.76" cy="95.83" r="1.3" fill="#111"/>
<circle cx="492.76" cy="99.13" r="1.3" fill="#f2877c"/>
<circle cx="492.76" cy="103.52" r="1.3" fill="#f2877c"/>
<line x1="501.67" y1="104.62" x2="501.67" y2="102.42" stroke="#111" stroke-width="1"/>
<line x1="506.67" y1="104.62" x2="506.67" y2="102.42" stroke="#f2877c" stroke-width="1"/>
<rect x="500.22" y="104.62" width="2.9" height="17.58" fill="#cfcfcf" stroke="#111" stroke-width="1.3"/>
<rect x="500.22" y="104.62" width="2.9" height="8.79" fill="#1e1e1e"/>
<rect x="505.12" y="104.62" width="3.1" height="17.58" fill="#fcdeda" stroke="#f2877c" stroke-width="1.1"/>
<rect x="505.12" y="104.62" width="3.1" height="7.03" fill="#f2877c" opacity="0.7"/>
<circle cx="501.67" cy="100.78" r="1.3" fill="#111"/>
<circle cx="501.67" cy="106.27" r="1.3" fill="#111"/>
<circle cx="506.67" cy="101.33" r="1.3" fill="#f2877c"/>
<circle cx="506.67" cy="105.72" r="1.3" fill="#f2877c"/>
<line x1="515.58" y1="97.48" x2="515.58" y2="92.54" stroke="#111" stroke-width="1"/>
<line x1="520.58" y1="105.72" x2="520.58" y2="103.52" stroke="#f2877c" stroke-width="1"/>
<rect x="514.13" y="97.48" width="2.9" height="24.72" fill="#cfcfcf" stroke="#111" stroke-width="1.3"/>
<rect x="514.13" y="97.48" width="2.9" height="12.36" fill="#1e1e1e"/>
<rect x="519.03" y="105.72" width="3.1" height="16.48" fill="#fcdeda" stroke="#f2877c" stroke-width="1.1"/>
<rect x="519.03" y="105.72" width="3.1" height="6.59" fill="#f2877c" opacity="0.7"/>
<circle cx="515.58" cy="84.30" r="1.3" fill="#111"/>
<circle cx="515.58" cy="99.13" r="1.3" fill="#111"/>
<circle cx="520.58" cy="99.13" r="1.3" fill="#f2877c"/>
<circle cx="520.58" cy="105.72" r="1.3" fill="#f2877c"/>
<line x1="400.9" y1="39.3" x2="400.9" y2="122.2" stroke="#111" stroke-width="1.2"/>
<line x1="396.9" y1="122.2" x2="525" y2="122.2" stroke="#111" stroke-width="1.2"/>
<line x1="396.9" y1="122.20" x2="400.9" y2="122.20" stroke="#111" stroke-width="1.1"/>
<text x="394.4" y="125.4" font-size="9.35" text-anchor="end" fill="#222" >0</text>
<line x1="396.9" y1="94.73" x2="400.9" y2="94.73" stroke="#111" stroke-width="1.1"/>
<text x="394.4" y="97.9" font-size="9.35" text-anchor="end" fill="#222" >5</text>
<line x1="396.9" y1="67.27" x2="400.9" y2="67.27" stroke="#111" stroke-width="1.1"/>
<text x="394.4" y="70.5" font-size="9.35" text-anchor="end" fill="#222" >10</text>
<line x1="396.9" y1="39.80" x2="400.9" y2="39.80" stroke="#111" stroke-width="1.1"/>
<text x="394.4" y="43.0" font-size="9.35" text-anchor="end" fill="#222" >15</text>
<line x1="406.30" y1="122.2" x2="406.30" y2="125.0" stroke="#111" stroke-width="1.1"/>
<text transform="translate(409.2,130.4) rotate(-45)" font-size="9.35" text-anchor="end" fill="#222" >cortex</text>
<line x1="420.21" y1="122.2" x2="420.21" y2="125.0" stroke="#111" stroke-width="1.1"/>
<text transform="translate(423.1,130.4) rotate(-45)" font-size="9.35" text-anchor="end" fill="#222" >cerebellum</text>
<line x1="434.12" y1="122.2" x2="434.12" y2="125.0" stroke="#111" stroke-width="1.1"/>
<text transform="translate(437.0,130.4) rotate(-45)" font-size="9.35" text-anchor="end" fill="#222" >hippocampus</text>
<line x1="448.03" y1="122.2" x2="448.03" y2="125.0" stroke="#111" stroke-width="1.1"/>
<text transform="translate(450.9,130.4) rotate(-45)" font-size="9.35" text-anchor="end" fill="#222" >heart</text>
<line x1="461.94" y1="122.2" x2="461.94" y2="125.0" stroke="#111" stroke-width="1.1"/>
<text transform="translate(464.8,130.4) rotate(-45)" font-size="9.35" text-anchor="end" fill="#222" >lung</text>
<line x1="475.85" y1="122.2" x2="475.85" y2="125.0" stroke="#111" stroke-width="1.1"/>
<text transform="translate(478.8,130.4) rotate(-45)" font-size="9.35" text-anchor="end" fill="#222" >liver</text>
<line x1="489.76" y1="122.2" x2="489.76" y2="125.0" stroke="#111" stroke-width="1.1"/>
<text transform="translate(492.7,130.4) rotate(-45)" font-size="9.35" text-anchor="end" fill="#222" >spleen</text>
<line x1="503.67" y1="122.2" x2="503.67" y2="125.0" stroke="#111" stroke-width="1.1"/>
<text transform="translate(506.6,130.4) rotate(-45)" font-size="9.35" text-anchor="end" fill="#222" >kidney</text>
<line x1="517.58" y1="122.2" x2="517.58" y2="125.0" stroke="#111" stroke-width="1.1"/>
<text transform="translate(520.5,130.4) rotate(-45)" font-size="9.35" text-anchor="end" fill="#222" >muscle</text>
<line x1="563.80" y1="80.32" x2="563.80" y2="72.88" stroke="#111" stroke-width="1"/>
<line x1="568.80" y1="83.63" x2="568.80" y2="72.88" stroke="#f2877c" stroke-width="1"/>
<rect x="562.35" y="80.32" width="2.9" height="42.18" fill="#f4f4f4" stroke="#111" stroke-width="1.3"/>
<rect x="562.35" y="80.32" width="2.9" height="10.54" fill="#1e1e1e"/>
<rect x="567.25" y="83.63" width="3.1" height="38.87" fill="#fff2f0" stroke="#f2877c" stroke-width="1.1"/>
<rect x="567.25" y="83.63" width="3.1" height="7.77" fill="#f2877c" opacity="0.7"/>
<circle cx="563.80" cy="71.23" r="1.3" fill="#111"/>
<circle cx="563.80" cy="74.53" r="1.3" fill="#111"/>
<circle cx="563.80" cy="97.69" r="1.3" fill="#111"/>
<circle cx="568.80" cy="66.26" r="1.3" fill="#f2877c"/>
<circle cx="568.80" cy="72.88" r="1.3" fill="#f2877c"/>
<circle cx="568.80" cy="97.69" r="1.3" fill="#f2877c"/>
<line x1="577.70" y1="85.70" x2="577.70" y2="82.80" stroke="#111" stroke-width="1"/>
<line x1="582.70" y1="83.63" x2="582.70" y2="73.71" stroke="#f2877c" stroke-width="1"/>
<rect x="576.25" y="85.70" width="2.9" height="36.80" fill="#f4f4f4" stroke="#111" stroke-width="1.3"/>
<rect x="576.25" y="85.70" width="2.9" height="9.20" fill="#1e1e1e"/>
<rect x="581.15" y="83.63" width="3.1" height="38.87" fill="#fff2f0" stroke="#f2877c" stroke-width="1.1"/>
<rect x="581.15" y="83.63" width="3.1" height="7.77" fill="#f2877c" opacity="0.7"/>
<circle cx="577.70" cy="84.46" r="1.3" fill="#111"/>
<circle cx="577.70" cy="86.94" r="1.3" fill="#111"/>
<circle cx="582.70" cy="54.69" r="1.3" fill="#f2877c"/>
<circle cx="582.70" cy="89.42" r="1.3" fill="#f2877c"/>
<line x1="591.60" y1="81.15" x2="591.60" y2="72.88" stroke="#111" stroke-width="1"/>
<line x1="596.60" y1="66.26" x2="596.60" y2="60.47" stroke="#f2877c" stroke-width="1"/>
<rect x="590.15" y="81.15" width="2.9" height="41.35" fill="#f4f4f4" stroke="#111" stroke-width="1.3"/>
<rect x="590.15" y="81.15" width="2.9" height="10.34" fill="#1e1e1e"/>
<rect x="595.05" y="66.26" width="3.1" height="56.24" fill="#fff2f0" stroke="#f2877c" stroke-width="1.1"/>
<rect x="595.05" y="66.26" width="3.1" height="11.25" fill="#f2877c" opacity="0.7"/>
<circle cx="591.60" cy="72.05" r="1.3" fill="#111"/>
<circle cx="591.60" cy="72.88" r="1.3" fill="#111"/>
<circle cx="591.60" cy="101.83" r="1.3" fill="#111"/>
<circle cx="596.60" cy="59.65" r="1.3" fill="#f2877c"/>
<circle cx="596.60" cy="60.47" r="1.3" fill="#f2877c"/>
<circle cx="596.60" cy="72.88" r="1.3" fill="#f2877c"/>
<line x1="605.50" y1="106.79" x2="605.50" y2="102.65" stroke="#111" stroke-width="1"/>
<line x1="610.50" y1="109.27" x2="610.50" y2="105.13" stroke="#f2877c" stroke-width="1"/>
<rect x="604.05" y="106.79" width="2.9" height="15.71" fill="#f4f4f4" stroke="#111" stroke-width="1.3"/>
<rect x="604.05" y="106.79" width="2.9" height="3.93" fill="#1e1e1e"/>
<rect x="608.95" y="109.27" width="3.1" height="13.23" fill="#fff2f0" stroke="#f2877c" stroke-width="1.1"/>
<rect x="608.95" y="109.27" width="3.1" height="2.65" fill="#f2877c" opacity="0.7"/>
<circle cx="605.50" cy="97.69" r="1.3" fill="#111"/>
<circle cx="605.50" cy="114.23" r="1.3" fill="#111"/>
<circle cx="610.50" cy="105.13" r="1.3" fill="#f2877c"/>
<circle cx="610.50" cy="110.09" r="1.3" fill="#f2877c"/>
<line x1="619.40" y1="107.20" x2="619.40" y2="105.13" stroke="#111" stroke-width="1"/>
<line x1="624.40" y1="113.82" x2="624.40" y2="111.75" stroke="#f2877c" stroke-width="1"/>
<rect x="617.95" y="107.20" width="2.9" height="15.30" fill="#f4f4f4" stroke="#111" stroke-width="1.3"/>
<rect x="617.95" y="107.20" width="2.9" height="3.82" fill="#1e1e1e"/>
<rect x="622.85" y="113.82" width="3.1" height="8.68" fill="#fff2f0" stroke="#f2877c" stroke-width="1.1"/>
<rect x="622.85" y="113.82" width="3.1" height="1.74" fill="#f2877c" opacity="0.7"/>
<circle cx="619.40" cy="102.65" r="1.3" fill="#111"/>
<circle cx="619.40" cy="110.09" r="1.3" fill="#111"/>
<circle cx="624.40" cy="108.44" r="1.3" fill="#f2877c"/>
<circle cx="624.40" cy="115.88" r="1.3" fill="#f2877c"/>
<line x1="633.30" y1="112.91" x2="633.30" y2="110.09" stroke="#111" stroke-width="1"/>
<line x1="638.30" y1="91.40" x2="638.30" y2="87.77" stroke="#f2877c" stroke-width="1"/>
<rect x="631.85" y="112.91" width="2.9" height="9.59" fill="#f4f4f4" stroke="#111" stroke-width="1.3"/>
<rect x="631.85" y="112.91" width="2.9" height="2.40" fill="#1e1e1e"/>
<rect x="636.75" y="91.40" width="3.1" height="31.10" fill="#fff2f0" stroke="#f2877c" stroke-width="1.1"/>
<rect x="636.75" y="91.40" width="3.1" height="6.22" fill="#f2877c" opacity="0.7"/>
<circle cx="633.30" cy="102.65" r="1.3" fill="#111"/>
<circle cx="633.30" cy="114.23" r="1.3" fill="#111"/>
<circle cx="638.30" cy="85.28" r="1.3" fill="#f2877c"/>
<circle cx="638.30" cy="95.21" r="1.3" fill="#f2877c"/>
<line x1="647.20" y1="111.42" x2="647.20" y2="109.27" stroke="#111" stroke-width="1"/>
<line x1="652.20" y1="112.91" x2="652.20" y2="111.75" stroke="#f2877c" stroke-width="1"/>
<rect x="645.75" y="111.42" width="2.9" height="11.08" fill="#f4f4f4" stroke="#111" stroke-width="1.3"/>
<rect x="645.75" y="111.42" width="2.9" height="2.77" fill="#1e1e1e"/>
<rect x="650.65" y="112.91" width="3.1" height="9.59" fill="#fff2f0" stroke="#f2877c" stroke-width="1.1"/>
<rect x="650.65" y="112.91" width="3.1" height="1.92" fill="#f2877c" opacity="0.7"/>
<circle cx="647.20" cy="106.79" r="1.3" fill="#111"/>
<circle cx="647.20" cy="114.23" r="1.3" fill="#111"/>
<circle cx="652.20" cy="110.92" r="1.3" fill="#f2877c"/>
<circle cx="652.20" cy="114.23" r="1.3" fill="#f2877c"/>
<line x1="661.10" y1="102.90" x2="661.10" y2="100.17" stroke="#111" stroke-width="1"/>
<line x1="666.10" y1="110.92" x2="666.10" y2="105.96" stroke="#f2877c" stroke-width="1"/>
<rect x="659.65" y="102.90" width="2.9" height="19.60" fill="#f4f4f4" stroke="#111" stroke-width="1.3"/>
<rect x="659.65" y="102.90" width="2.9" height="4.90" fill="#1e1e1e"/>
<rect x="664.55" y="110.92" width="3.1" height="11.58" fill="#fff2f0" stroke="#f2877c" stroke-width="1.1"/>
<rect x="664.55" y="110.92" width="3.1" height="2.32" fill="#f2877c" opacity="0.7"/>
<circle cx="661.10" cy="97.69" r="1.3" fill="#111"/>
<circle cx="661.10" cy="110.09" r="1.3" fill="#111"/>
<circle cx="666.10" cy="101.41" r="1.3" fill="#f2877c"/>
<circle cx="666.10" cy="114.23" r="1.3" fill="#f2877c"/>
<line x1="675.00" y1="94.38" x2="675.00" y2="89.42" stroke="#111" stroke-width="1"/>
<line x1="680.00" y1="99.34" x2="680.00" y2="92.73" stroke="#f2877c" stroke-width="1"/>
<rect x="673.55" y="94.38" width="2.9" height="28.12" fill="#f4f4f4" stroke="#111" stroke-width="1.3"/>
<rect x="673.55" y="94.38" width="2.9" height="7.03" fill="#1e1e1e"/>
<rect x="678.45" y="99.34" width="3.1" height="23.16" fill="#fff2f0" stroke="#f2877c" stroke-width="1.1"/>
<rect x="678.45" y="99.34" width="3.1" height="4.63" fill="#f2877c" opacity="0.7"/>
<circle cx="675.00" cy="85.28" r="1.3" fill="#111"/>
<circle cx="675.00" cy="91.07" r="1.3" fill="#111"/>
<circle cx="675.00" cy="114.23" r="1.3" fill="#111"/>
<circle cx="680.00" cy="86.11" r="1.3" fill="#f2877c"/>
<circle cx="680.00" cy="105.96" r="1.3" fill="#f2877c"/>
<line x1="560.5" y1="39.3" x2="560.5" y2="122.5" stroke="#111" stroke-width="1.2"/>
<line x1="556.5" y1="122.5" x2="685" y2="122.5" stroke="#111" stroke-width="1.2"/>
<line x1="556.5" y1="122.50" x2="560.5" y2="122.50" stroke="#111" stroke-width="1.1"/>
<text x="554.5" y="124.4" font-size="8.6" text-anchor="end" fill="#222" >0</text>
<line x1="556.5" y1="105.96" x2="560.5" y2="105.96" stroke="#111" stroke-width="1.1"/>
<text x="554.5" y="107.9" font-size="8.6" text-anchor="end" fill="#222" >0.2</text>
<line x1="556.5" y1="89.42" x2="560.5" y2="89.42" stroke="#111" stroke-width="1.1"/>
<text x="554.5" y="91.3" font-size="8.6" text-anchor="end" fill="#222" >0.4</text>
<line x1="556.5" y1="72.88" x2="560.5" y2="72.88" stroke="#111" stroke-width="1.1"/>
<text x="554.5" y="74.8" font-size="8.6" text-anchor="end" fill="#222" >0.6</text>
<line x1="556.5" y1="56.34" x2="560.5" y2="56.34" stroke="#111" stroke-width="1.1"/>
<text x="554.5" y="58.2" font-size="8.6" text-anchor="end" fill="#222" >0.8</text>
<line x1="556.5" y1="39.80" x2="560.5" y2="39.80" stroke="#111" stroke-width="1.1"/>
<text x="555.5" y="40.6" font-size="9.35" text-anchor="end" fill="#222" >1</text>
<line x1="565.80" y1="122.5" x2="565.80" y2="125.3" stroke="#111" stroke-width="1.1"/>
<text transform="translate(568.7,130.7) rotate(-45)" font-size="9.35" text-anchor="end" fill="#222" >cortex</text>
<line x1="579.70" y1="122.5" x2="579.70" y2="125.3" stroke="#111" stroke-width="1.1"/>
<text transform="translate(582.6,130.7) rotate(-45)" font-size="9.35" text-anchor="end" fill="#222" >cerebellum</text>
<line x1="593.60" y1="122.5" x2="593.60" y2="125.3" stroke="#111" stroke-width="1.1"/>
<text transform="translate(596.5,130.7) rotate(-45)" font-size="9.35" text-anchor="end" fill="#222" >hippocampus</text>
<line x1="607.50" y1="122.5" x2="607.50" y2="125.3" stroke="#111" stroke-width="1.1"/>
<text transform="translate(610.4,130.7) rotate(-45)" font-size="9.35" text-anchor="end" fill="#222" >heart</text>
<line x1="621.40" y1="122.5" x2="621.40" y2="125.3" stroke="#111" stroke-width="1.1"/>
<text transform="translate(624.3,130.7) rotate(-45)" font-size="9.35" text-anchor="end" fill="#222" >lung</text>
<line x1="635.30" y1="122.5" x2="635.30" y2="125.3" stroke="#111" stroke-width="1.1"/>
<text transform="translate(638.2,130.7) rotate(-45)" font-size="9.35" text-anchor="end" fill="#222" >liver</text>
<line x1="649.20" y1="122.5" x2="649.20" y2="125.3" stroke="#111" stroke-width="1.1"/>
<text transform="translate(652.1,130.7) rotate(-45)" font-size="9.35" text-anchor="end" fill="#222" >spleen</text>
<line x1="663.10" y1="122.5" x2="663.10" y2="125.3" stroke="#111" stroke-width="1.1"/>
<text transform="translate(666.0,130.7) rotate(-45)" font-size="9.35" text-anchor="end" fill="#222" >kidney</text>
<line x1="677.00" y1="122.5" x2="677.00" y2="125.3" stroke="#111" stroke-width="1.1"/>
<text transform="translate(679.9,130.7) rotate(-45)" font-size="9.35" text-anchor="end" fill="#222" >muscle</text>
<text x="462.5" y="31.7" font-size="9.35" text-anchor="middle" fill="#222" >5-methylcytosine</text>
<text x="462.7" y="42.6" font-size="9.35" text-anchor="middle" fill="#222" >(5mC)</text>
<text x="631.5" y="31.7" font-size="9.35" text-anchor="middle" fill="#222" >5-hydroxymethylcytosine</text>
<text x="632.1" y="43.0" font-size="9.35" text-anchor="middle" fill="#222" >(5hmC)</text>
<text transform="translate(380.2,79.5) rotate(-90)" font-size="9.35" text-anchor="middle" fill="#222" >5mC (%)</text>
<text transform="translate(535.8,77.7) rotate(-90)" font-size="9.35" text-anchor="middle" fill="#222" >5hmC (%)</text>
<line x1="630.7" y1="81.5" x2="641.1" y2="81.5" stroke="#111" stroke-width="0.9"/>
<text transform="translate(639.2,64.8) rotate(-90)" font-size="8" text-anchor="middle" fill="#222" ><tspan font-style="italic">p</tspan>=0.048</text>
<circle cx="501.8" cy="10.7" r="1.3" fill="#111"/>
<text x="510.1" y="13.1" font-size="9.35" text-anchor="start" fill="#222" >young</text>
<circle cx="542.2" cy="10.7" r="1.3" fill="#f2877c"/>
<text x="548.0" y="13.1" font-size="9.35" text-anchor="start" fill="#222" >old</text>
<text x="3.2" y="201.0" font-size="22" text-anchor="start" fill="#1a1a1a" >B</text>
<text x="46.0" y="199.1" font-size="9.35" text-anchor="start" fill="#222" >DNA (ng)</text>
<polygon points="30.7,213.7 91.2,202.4 91.2,213.7" fill="url(#wedge)"/>
<text transform="translate(38.9,229.9) rotate(-45)" font-size="8.4" text-anchor="start" fill="#111" >50</text>
<text transform="translate(52.2,229.9) rotate(-45)" font-size="8.4" text-anchor="start" fill="#111" >100</text>
<text transform="translate(68.0,230.4) rotate(-45)" font-size="8.4" text-anchor="start" fill="#111" >200</text>
<text transform="translate(85.0,230.7) rotate(-45)" font-size="8.4" text-anchor="start" fill="#111" >400</text>
<rect x="29.5" y="231.5" width="61.5" height="140" fill="#f6f6f6"/>
<g filter="url(#blur6)">
<circle cx="35.2" cy="237.10" r="1.2" fill="rgb(240,240,240)"/>
<circle cx="35.2" cy="237.10" r="0.66" fill="rgb(235,235,235)"/>
<circle cx="52.5" cy="237.10" r="2.5" fill="rgb(215,215,215)"/>
<circle cx="52.5" cy="237.10" r="1.38" fill="rgb(195,195,195)"/>
<circle cx="67.7" cy="237.10" r="3.5" fill="rgb(200,200,200)"/>
<circle cx="67.7" cy="237.10" r="1.93" fill="rgb(165,165,165)"/>
<circle cx="82.6" cy="237.10" r="4.2" fill="rgb(172,172,172)"/>
<circle cx="82.6" cy="237.10" r="2.31" fill="rgb(135,135,135)"/>
<circle cx="35.2" cy="252.91" r="1.5" fill="rgb(235,235,235)"/>
<circle cx="35.2" cy="252.91" r="0.83" fill="rgb(225,225,225)"/>
<circle cx="52.5" cy="252.91" r="2.0" fill="rgb(205,205,205)"/>
<circle cx="52.5" cy="252.91" r="1.10" fill="rgb(165,165,165)"/>
<circle cx="67.7" cy="252.91" r="3.0" fill="rgb(190,190,190)"/>
<circle cx="67.7" cy="252.91" r="1.65" fill="rgb(150,150,150)"/>
<circle cx="82.6" cy="252.91" r="4.0" fill="rgb(100,100,100)"/>
<circle cx="82.6" cy="252.91" r="2.20" fill="rgb(40,40,40)"/>
<circle cx="35.2" cy="268.72" r="2.0" fill="rgb(240,240,240)"/>
<circle cx="35.2" cy="268.72" r="1.10" fill="rgb(235,235,235)"/>
<circle cx="52.5" cy="268.72" r="2.5" fill="rgb(230,230,230)"/>
<circle cx="52.5" cy="268.72" r="1.38" fill="rgb(220,220,220)"/>
<circle cx="67.7" cy="268.72" r="3.2" fill="rgb(210,210,210)"/>
<circle cx="67.7" cy="268.72" r="1.76" fill="rgb(190,190,190)"/>
<circle cx="82.6" cy="268.72" r="3.6" fill="rgb(150,150,150)"/>
<circle cx="82.6" cy="268.72" r="1.98" fill="rgb(115,115,115)"/>
<circle cx="35.2" cy="284.53" r="1.5" fill="rgb(244,244,244)"/>
<circle cx="35.2" cy="284.53" r="0.83" fill="rgb(242,242,242)"/>
<circle cx="52.5" cy="284.53" r="2.0" fill="rgb(225,225,225)"/>
<circle cx="52.5" cy="284.53" r="1.10" fill="rgb(210,210,210)"/>
<circle cx="67.7" cy="284.53" r="3.2" fill="rgb(205,205,205)"/>
<circle cx="67.7" cy="284.53" r="1.76" fill="rgb(175,175,175)"/>
<circle cx="82.6" cy="284.53" r="3.5" fill="rgb(180,180,180)"/>
<circle cx="82.6" cy="284.53" r="1.93" fill="rgb(150,150,150)"/>
<circle cx="35.2" cy="300.34" r="2.0" fill="rgb(225,225,225)"/>
<circle cx="35.2" cy="300.34" r="1.10" fill="rgb(205,205,205)"/>
<circle cx="52.5" cy="300.34" r="2.0" fill="rgb(190,190,190)"/>
<circle cx="52.5" cy="300.34" r="1.10" fill="rgb(120,120,120)"/>
<circle cx="67.7" cy="300.34" r="3.2" fill="rgb(160,160,160)"/>
<circle cx="67.7" cy="300.34" r="1.76" fill="rgb(110,110,110)"/>
<circle cx="82.6" cy="300.34" r="3.8" fill="rgb(70,70,70)"/>
<circle cx="82.6" cy="300.34" r="2.09" fill="rgb(40,40,40)"/>
<circle cx="35.2" cy="316.15" r="1.8" fill="rgb(225,225,225)"/>
<circle cx="35.2" cy="316.15" r="0.99" fill="rgb(200,200,200)"/>
<circle cx="52.5" cy="316.15" r="2.2" fill="rgb(140,140,140)"/>
<circle cx="52.5" cy="316.15" r="1.21" fill="rgb(70,70,70)"/>
<circle cx="67.7" cy="316.15" r="3.2" fill="rgb(140,140,140)"/>
<circle cx="67.7" cy="316.15" r="1.76" fill="rgb(90,90,90)"/>
<circle cx="82.6" cy="316.15" r="3.6" fill="rgb(30,30,30)"/>
<circle cx="82.6" cy="316.15" r="1.98" fill="rgb(15,15,15)"/>
<circle cx="35.2" cy="331.96" r="2.0" fill="rgb(220,220,220)"/>
<circle cx="35.2" cy="331.96" r="1.10" fill="rgb(195,195,195)"/>
<circle cx="52.5" cy="331.96" r="2.2" fill="rgb(220,220,220)"/>
<circle cx="52.5" cy="331.96" r="1.21" fill="rgb(200,200,200)"/>
<circle cx="67.7" cy="331.96" r="3.3" fill="rgb(185,185,185)"/>
<circle cx="67.7" cy="331.96" r="1.81" fill="rgb(150,150,150)"/>
<circle cx="82.6" cy="331.96" r="3.8" fill="rgb(80,80,80)"/>
<circle cx="82.6" cy="331.96" r="2.09" fill="rgb(50,50,50)"/>
<circle cx="35.2" cy="347.77" r="1.5" fill="rgb(225,225,225)"/>
<circle cx="35.2" cy="347.77" r="0.83" fill="rgb(205,205,205)"/>
<circle cx="52.5" cy="347.77" r="2.2" fill="rgb(200,200,200)"/>
<circle cx="52.5" cy="347.77" r="1.21" fill="rgb(165,165,165)"/>
<circle cx="67.7" cy="347.77" r="3.3" fill="rgb(185,185,185)"/>
<circle cx="67.7" cy="347.77" r="1.81" fill="rgb(150,150,150)"/>
<circle cx="82.6" cy="347.77" r="3.8" fill="rgb(80,80,80)"/>
<circle cx="82.6" cy="347.77" r="2.09" fill="rgb(50,50,50)"/>
<circle cx="55.5" cy="364.1" r="4.5" fill="#060606"/>
</g>
<text x="26.4" y="240.0" font-size="8.7" text-anchor="end" fill="#222" >young</text>
<text x="26.4" y="255.8" font-size="8.7" text-anchor="end" fill="#222" >young</text>
<text x="26.4" y="271.6" font-size="8.7" text-anchor="end" fill="#222" >young</text>
<text x="26.4" y="287.4" font-size="8.7" text-anchor="end" fill="#222" >young</text>
<text x="26.3" y="303.2" font-size="8.7" text-anchor="end" fill="#222" >old</text>
<text x="26.3" y="319.0" font-size="8.7" text-anchor="end" fill="#222" >old</text>
<text x="26.3" y="334.9" font-size="8.7" text-anchor="end" fill="#222" >old</text>
<text x="26.3" y="350.7" font-size="8.7" text-anchor="end" fill="#222" >old</text>
<text x="56.3" y="382.5" font-size="9.35" text-anchor="middle" fill="#222" >+</text>
<text x="69.0" y="382.5" font-size="9.35" text-anchor="middle" fill="#222" >-</text>
<line x1="134.4" y1="240.2" x2="134.4" y2="322.8" stroke="#111" stroke-width="1.3"/>
<line x1="130.9" y1="322.8" x2="258.2" y2="322.8" stroke="#111" stroke-width="1.3"/>
<line x1="130.9" y1="322.80" x2="134.4" y2="322.80" stroke="#111" stroke-width="1.2"/>
<text x="129.6" y="326.0" font-size="9.35" text-anchor="end" fill="#222" >0</text>
<line x1="130.9" y1="306.40" x2="134.4" y2="306.40" stroke="#111" stroke-width="1.2"/>
<text x="129.6" y="309.6" font-size="9.35" text-anchor="end" fill="#222" >2</text>
<line x1="130.9" y1="290.00" x2="134.4" y2="290.00" stroke="#111" stroke-width="1.2"/>
<text x="129.6" y="293.2" font-size="9.35" text-anchor="end" fill="#222" >4</text>
<line x1="130.9" y1="273.60" x2="134.4" y2="273.60" stroke="#111" stroke-width="1.2"/>
<text x="129.6" y="276.8" font-size="9.35" text-anchor="end" fill="#222" >6</text>
<line x1="130.9" y1="257.20" x2="134.4" y2="257.20" stroke="#111" stroke-width="1.2"/>
<text x="129.6" y="260.4" font-size="9.35" text-anchor="end" fill="#222" >8</text>
<line x1="130.9" y1="240.80" x2="134.4" y2="240.80" stroke="#111" stroke-width="1.2"/>
<text x="129.6" y="244.0" font-size="9.35" text-anchor="end" fill="#222" >10</text>
<line x1="134.60" y1="322.8" x2="134.60" y2="325.8" stroke="#111" stroke-width="1.2"/>
<text x="134.6" y="333.2" font-size="9.35" text-anchor="middle" fill="#222" >0</text>
<line x1="161.85" y1="322.8" x2="161.85" y2="325.8" stroke="#111" stroke-width="1.2"/>
<text x="161.8" y="333.2" font-size="9.35" text-anchor="middle" fill="#222" >100</text>
<line x1="189.10" y1="322.8" x2="189.10" y2="325.8" stroke="#111" stroke-width="1.2"/>
<text x="189.1" y="333.2" font-size="9.35" text-anchor="middle" fill="#222" >200</text>
<line x1="216.35" y1="322.8" x2="216.35" y2="325.8" stroke="#111" stroke-width="1.2"/>
<text x="216.3" y="333.2" font-size="9.35" text-anchor="middle" fill="#222" >300</text>
<line x1="243.60" y1="322.8" x2="243.60" y2="325.8" stroke="#111" stroke-width="1.2"/>
<text x="243.6" y="333.2" font-size="9.35" text-anchor="middle" fill="#222" >400</text>
<text x="198.8" y="346.4" font-size="9.35" text-anchor="middle" fill="#222" >DNA (ng)</text>
<text transform="translate(115.6,280.3) rotate(-90)" font-size="9.35" text-anchor="middle" fill="#222" >5hmC (integrated density [AU])</text>
<path d="M161.85,316.24 V302.71 M160.25,316.24 h3.2 M160.25,302.71 h3.2" stroke="#f17a70" stroke-width="1" fill="none"/>
<path d="M189.10,300.41 V290.00 M187.50,300.41 h3.2 M187.50,290.00 h3.2" stroke="#f17a70" stroke-width="1" fill="none"/>
<path d="M243.60,260.89 V258.43 M242.00,260.89 h3.2 M242.00,258.43 h3.2" stroke="#f17a70" stroke-width="1" fill="none"/>
<path d="M243.60,308.53 V288.20 M242.00,308.53 h3.2 M242.00,288.20 h3.2" stroke="#111" stroke-width="1" fill="none"/>
<path d="M189.10,316.65 V314.19 M187.50,316.65 h3.2 M187.50,314.19 h3.2" stroke="#111" stroke-width="1" fill="none"/>
<path d="M148.22,318.29 L161.85,310.01 L189.10,295.49 L243.60,259.66" fill="none" stroke="#f17a70" stroke-width="1.2"/>
<path d="M148.22,322.23 L161.85,319.52 L189.10,315.50 L243.60,298.53" fill="none" stroke="#111" stroke-width="1.2"/>
<circle cx="148.22" cy="318.29" r="1.9" fill="#f17a70"/>
<circle cx="161.85" cy="310.01" r="1.9" fill="#f17a70"/>
<circle cx="189.10" cy="295.49" r="1.9" fill="#f17a70"/>
<circle cx="243.60" cy="259.66" r="1.9" fill="#f17a70"/>
<circle cx="148.22" cy="322.23" r="1.9" fill="#111"/>
<circle cx="161.85" cy="319.52" r="1.9" fill="#111"/>
<circle cx="189.10" cy="315.50" r="1.9" fill="#111"/>
<circle cx="243.60" cy="298.53" r="1.9" fill="#111"/>
<line x1="155.5" y1="241.8" x2="165.5" y2="241.8" stroke="#111" stroke-width="1.1"/><circle cx="160.3" cy="241.8" r="1.8" fill="#111"/>
<text x="166.0" y="245.0" font-size="9.35" text-anchor="start" fill="#222" >young</text>
<line x1="199.1" y1="241.8" x2="207.5" y2="241.8" stroke="#f17a70" stroke-width="1.1"/><circle cx="203.3" cy="241.8" r="1.8" fill="#f17a70"/>
<text x="208.2" y="245.0" font-size="9.35" text-anchor="start" fill="#222" >old</text>
<text transform="translate(150.5,299.0) rotate(-90)" font-size="8.5" text-anchor="middle" fill="#222" ><tspan font-style="italic">p</tspan>=0.849</text>
<text transform="translate(163.7,284.4) rotate(-90)" font-size="8.5" text-anchor="middle" fill="#222" ><tspan font-style="italic">p</tspan>=0.088</text>
<text x="171.5" y="286.7" font-size="8.1" text-anchor="start" fill="#222" ><tspan font-style="italic">p</tspan>&lt;0.001</text>
<text x="228.2" y="255.5" font-size="8.1" text-anchor="start" fill="#222" ><tspan font-style="italic">p</tspan>&lt;0.001</text>
<text x="270.6" y="201.6" font-size="22" text-anchor="start" fill="#1a1a1a" >C</text>
<text x="324.6" y="194.5" font-size="9.35" fill="#222">young<tspan font-size="5.6" dy="-3.6">Female</tspan></text>
<text x="389.2" y="194.5" font-size="9.35" fill="#222">young<tspan font-size="5.6" dy="-3.6">Male</tspan></text>
<text x="455" y="194.5" font-size="9.35" fill="#222">old<tspan font-size="5.6" dy="-3.6">Female</tspan></text>
<text x="519.5" y="194.5" font-size="9.35" fill="#222">old<tspan font-size="5.6" dy="-3.6">Male</tspan></text>
<text x="311.8" y="229.8" font-size="9.6" text-anchor="end" fill="#222" >DAPI</text>
<text x="313.3" y="291.8" font-size="9.6" text-anchor="end" fill="#222" >5hmC</text>
<text x="313.5" y="353.1" font-size="9.6" text-anchor="end" fill="#222" >merge</text>
<svg x="315" y="198" width="60.3" height="60.3" viewBox="0 0 60.3 60.3" overflow="hidden">
<rect width="60.3" height="60.3" fill="#0c101c"/>
<path d="M3,17 L20,8 L22,11 L5,20.5 Z" fill="#2a4290" opacity="0.55" filter="url(#blur6)"/>
<path d="M44.5,30 L48,30 L49.5,51 L46,51 Z" fill="#2a4290" opacity="0.55" filter="url(#blur6)"/>
<path d="M37.5 22.3h0M48.4 52.3h0M13.1 2.0h0M51.0 35.4h0M1.6 48.5h0M47.1 55.9h0M60.2 8.7h0M38.4 19.6h0M48.6 41.2h0M47.3 38.4h0M48.4 29.9h0M30.1 8.1h0M58.5 4.8h0M55.2 27.0h0M56.5 48.2h0M47.4 1.1h0M23.2 19.1h0M41.5 26.4h0M22.9 6.3h0M48.8 52.9h0M46.6 34.3h0M44.8 48.6h0M50.1 0.7h0M55.5 14.6h0M47.4 54.4h0M53.1 17.4h0M26.7 4.5h0M10.1 5.7h0M41.4 34.3h0M47.0 56.3h0M44.0 42.6h0M36.5 23.5h0M34.1 20.1h0M4.8 25.3h0M59.8 14.0h0M36.0 4.9h0M36.1 41.5h0M5.9 36.0h0M48.2 22.5h0M39.1 24.5h0M58.4 40.4h0M20.7 10.8h0M30.7 13.8h0M56.9 1.2h0M41.3 32.8h0M7.3 19.5h0M51.0 7.4h0M59.7 18.3h0M51.4 33.8h0M23.2 20.7h0M50.6 47.9h0M56.6 1.7h0M23.8 0.0h0M25.3 14.3h0M46.3 1.0h0M8.5 4.4h0M39.4 8.5h0M51.6 42.9h0M58.9 16.8h0M40.5 27.9h0M57.1 32.4h0M29.0 22.4h0M54.8 20.7h0M54.7 24.6h0M50.2 27.4h0M55.1 44.4h0M60.0 19.4h0M1.8 16.0h0M46.3 54.1h0M54.6 51.6h0M48.1 26.9h0M35.6 22.7h0M49.6 23.8h0M54.8 26.1h0M39.8 24.4h0M49.6 7.8h0M19.1 27.5h0M53.5 46.1h0M11.9 12.6h0M56.4 7.6h0M50.1 10.5h0M33.3 17.3h0M47.5 24.8h0M34.4 49.8h0M17.9 13.2h0M58.5 4.9h0M9.2 5.2h0M44.7 14.0h0M45.8 12.4h0M0.6 46.6h0M1.3 11.3h0M41.5 34.4h0M20.1 4.0h0M59.2 20.6h0M52.4 36.0h0M1.3 50.7h0M31.0 37.8h0M35.3 13.9h0M55.7 17.7h0M44.8 40.7h0M48.6 45.6h0M20.3 7.4h0M57.4 7.2h0M52.6 50.8h0M42.4 3.0h0M48.5 31.8h0M51.1 12.7h0M42.4 4.6h0M4.3 47.4h0M37.6 22.2h0M7.6 18.1h0M29.7 10.7h0M39.4 40.3h0M40.1 12.8h0M48.1 41.0h0M7.0 19.3h0M53.9 51.4h0M35.6 10.2h0M52.4 18.2h0M6.7 12.7h0M53.3 36.1h0M36.3 0.0h0M18.7 14.2h0M50.6 56.4h0M48.4 6.2h0M32.6 29.7h0M37.8 18.2h0M34.9 23.8h0M56.7 29.5h0M51.1 3.3h0M46.4 32.7h0M39.9 9.6h0M4.0 54.9h0M24.2 27.1h0M39.5 17.6h0M39.5 27.7h0M43.8 6.7h0M25.4 13.6h0M47.1 50.9h0M46.9 23.0h0M50.3 52.1h0M38.4 8.1h0M3.1 58.1h0M52.3 27.3h0M7.9 6.3h0M47.7 30.9h0M20.2 9.0h0M38.2 22.1h0M7.2 14.4h0M29.6 30.4h0M41.0 22.0h0M58.4 6.3h0M52.0 50.4h0M41.5 54.0h0M46.4 38.7h0M48.8 20.2h0M43.0 12.0h0M23.3 17.0h0M4.4 5.8h0M54.2 31.0h0M37.7 30.9h0M36.7 56.9h0M50.6 49.5h0M54.4 13.9h0M2.5 42.4h0M32.1 23.0h0M4.1 39.8h0M56.6 41.6h0M40.0 18.6h0M44.3 25.3h0M27.4 14.0h0M45.6 54.2h0M54.4 38.7h0M46.0 38.5h0M35.2 29.9h0M56.8 11.4h0M51.9 50.5h0M39.7 27.5h0M41.9 15.1h0M42.2 18.8h0M4.8 53.1h0M48.3 59.2h0M17.2 9.6h0M40.8 1.3h0M26.2 7.3h0M52.6 37.0h0M43.5 45.1h0M56.4 40.9h0M14.7 40.1h0M51.3 28.7h0M35.6 18.3h0M48.9 2.1h0M7.6 17.7h0M0.8 38.6h0M31.4 16.2h0M40.3 17.6h0M1.6 37.0h0M58.2 21.0h0M38.3 31.0h0M51.2 18.4h0M47.0 45.5h0M42.6 10.1h0M6.7 52.9h0M51.9 52.1h0M44.5 20.8h0M14.2 8.3h0M45.8 56.6h0M57.9 12.0h0M39.2 20.5h0M54.7 4.6h0M57.2 12.8h0M1.1 23.9h0M30.1 9.7h0M43.5 5.2h0M55.4 4.8h0M2.1 39.0h0M37.9 20.3h0M60.1 10.1h0M1.2 54.0h0M2.7 17.7h0M5.3 42.1h0M27.0 12.3h0M29.0 4.4h0M48.9 49.8h0M33.9 2.8h0M37.3 8.1h0M28.1 0.2h0M46.6 13.1h0M23.0 8.9h0M49.5 47.5h0M44.8 36.6h0M36.6 58.3h0M30.2 55.4h0M41.0 18.2h0M42.3 13.2h0M30.0 2.6h0M52.4 20.9h0M0.1 43.7h0M2.6 11.1h0M58.5 22.8h0" stroke="#24336c" stroke-width="1.45" stroke-linecap="round" filter="url(#blur3)"/>
<path d="M40.0 16.6h0M28.2 16.7h0M42.1 20.5h0M19.1 5.4h0M43.8 29.7h0M37.8 8.7h0M38.4 9.6h0M21.2 7.9h0M31.3 15.5h0M44.9 33.7h0M6.5 52.8h0M52.0 10.3h0M44.6 36.8h0M29.5 20.0h0M31.6 24.0h0M36.1 13.6h0M39.6 26.7h0M41.2 24.4h0M53.2 17.8h0M37.2 37.9h0M43.6 27.0h0M32.3 5.9h0M3.4 52.2h0M41.1 48.1h0M59.1 27.0h0M14.3 10.9h0M57.1 6.9h0M43.2 12.3h0M54.4 6.8h0M42.3 7.6h0M52.2 19.8h0M36.9 26.2h0M23.6 7.2h0M34.4 34.9h0M33.2 20.3h0M27.0 27.2h0M5.5 15.3h0M5.5 40.9h0M31.8 59.1h0M38.0 26.8h0M7.7 12.5h0M24.7 39.2h0M53.2 49.0h0M25.3 15.9h0M48.5 43.5h0M19.9 12.3h0M26.3 50.3h0M36.6 60.0h0M58.0 10.4h0M51.3 17.5h0M47.1 49.5h0M52.5 4.0h0M39.2 37.1h0M16.8 9.8h0M56.9 15.1h0M54.7 25.2h0M47.7 37.5h0M53.3 39.6h0M39.1 34.7h0M18.2 7.7h0M59.2 10.1h0M58.3 0.7h0M45.7 28.4h0M38.5 27.6h0M59.6 23.4h0M45.0 14.0h0M4.6 12.3h0M32.4 54.8h0M52.2 29.9h0M40.3 22.5h0M50.6 47.9h0M36.8 27.3h0M49.3 3.5h0M41.0 10.6h0M59.7 48.0h0M4.0 50.9h0M59.8 20.7h0M50.5 53.1h0M1.0 43.6h0M33.1 53.6h0M48.6 50.5h0M4.1 20.1h0M42.9 6.9h0M37.1 55.1h0M48.7 46.3h0M5.4 45.3h0M34.5 10.7h0M13.2 4.0h0M32.0 2.6h0M43.2 12.0h0M47.2 58.8h0M59.6 0.3h0M46.0 32.1h0M47.2 40.7h0M36.2 16.9h0M42.5 20.1h0M47.8 33.3h0M58.1 17.0h0M6.2 47.1h0M53.1 8.5h0M0.1 29.6h0M46.5 30.9h0M33.6 17.9h0M56.3 17.1h0M50.0 32.3h0M6.1 47.3h0M4.4 13.5h0M2.7 29.3h0M52.7 5.3h0M20.6 5.4h0M34.1 23.1h0M30.6 13.0h0M25.7 17.6h0M53.8 36.5h0M1.1 20.4h0M23.2 8.8h0M41.6 32.1h0M38.6 15.4h0M29.7 10.1h0M0.9 40.6h0M53.1 7.0h0M47.5 50.7h0M47.7 58.4h0M53.5 7.2h0M43.4 0.7h0M31.6 22.6h0M52.4 21.2h0M41.1 31.8h0M36.4 30.6h0M55.4 0.9h0M1.2 17.4h0M1.5 58.1h0M53.5 13.8h0M51.2 17.4h0M1.3 45.1h0M2.1 16.0h0M19.9 7.9h0M49.4 14.5h0M49.4 48.5h0M33.1 17.9h0M1.0 39.0h0M23.0 14.6h0M48.9 28.4h0M38.9 24.0h0M46.2 27.6h0M3.0 20.5h0M19.7 12.4h0M59.7 20.0h0M0.4 15.8h0M59.5 10.9h0M0.8 18.1h0M25.2 10.9h0M30.1 18.0h0M51.9 23.2h0M43.4 33.7h0M43.8 38.3h0M58.2 25.9h0M45.2 6.6h0M19.4 9.7h0M49.5 35.9h0M56.3 12.0h0M33.7 3.0h0M53.0 38.3h0M18.2 9.1h0M49.1 50.6h0M33.1 18.5h0M43.5 32.5h0M21.9 16.1h0M55.0 23.2h0M53.8 5.8h0M33.6 21.4h0M31.9 4.7h0M7.2 3.2h0M37.8 21.0h0M51.2 10.1h0M57.2 7.5h0M58.4 3.4h0M22.3 16.4h0M58.0 14.2h0M43.9 42.9h0M38.6 56.0h0M9.0 2.8h0M43.7 25.9h0M37.4 0.9h0M52.5 6.8h0M25.4 30.3h0M48.7 32.0h0M50.9 27.5h0M39.9 11.4h0M39.6 4.8h0M46.7 10.0h0M56.1 9.1h0M58.1 12.9h0M50.5 20.7h0M36.1 43.2h0M9.5 1.2h0M50.9 11.8h0M32.4 13.8h0M6.7 19.8h0M41.7 2.0h0M16.4 11.6h0M0.0 8.2h0M40.2 5.3h0M30.1 20.8h0M42.4 9.5h0M48.6 4.7h0M47.9 9.5h0M32.0 53.5h0M53.3 52.7h0M34.3 16.9h0M1.9 36.9h0M4.3 45.5h0M60.1 39.7h0M33.4 17.6h0M26.9 2.0h0M6.6 17.6h0M3.9 15.4h0M60.3 45.5h0M45.1 41.0h0M59.5 16.2h0M45.4 30.8h0M58.3 33.2h0M44.5 23.2h0M55.4 10.7h0M11.5 3.7h0M47.1 35.3h0M56.5 54.6h0M10.3 14.3h0M52.5 36.8h0M45.4 7.4h0M45.9 43.4h0M23.2 17.8h0M42.8 7.2h0M4.4 36.5h0M20.4 10.4h0M31.3 35.6h0M38.8 5.5h0M35.3 5.8h0M1.9 30.3h0M52.1 10.5h0" stroke="#2d428c" stroke-width="1.35" stroke-linecap="round" filter="url(#blur3)"/>
<path d="M47.5 40.4h0M54.0 25.9h0M41.7 3.3h0M1.5 50.6h0M59.0 56.7h0M2.1 21.7h0M4.7 36.8h0M54.7 42.2h0M5.8 19.6h0M27.0 34.1h0M37.2 24.9h0M43.1 32.7h0M22.0 9.3h0M35.8 24.1h0M2.5 48.2h0M11.1 34.9h0M49.5 55.3h0M49.9 16.6h0M51.1 23.4h0M53.7 27.8h0M58.2 9.6h0M34.7 20.1h0M43.9 57.7h0M28.8 2.7h0M57.6 41.4h0M35.4 4.9h0M11.6 13.3h0M41.2 5.1h0M45.4 17.4h0M29.0 24.6h0M51.1 2.0h0M40.6 43.8h0M49.6 5.7h0M53.1 16.7h0M7.5 17.9h0M57.1 13.9h0M36.6 25.0h0M37.0 23.7h0M44.0 25.5h0M45.6 41.0h0M44.7 41.1h0M21.8 6.1h0M5.0 44.0h0M50.8 21.4h0M46.4 17.2h0M39.0 40.9h0M49.7 14.1h0M41.7 25.0h0M54.8 16.0h0M16.6 11.3h0M38.1 0.1h0M56.6 1.1h0M39.5 35.2h0M45.9 51.4h0M10.9 8.4h0M48.4 39.3h0M41.6 25.6h0M51.6 5.6h0M39.1 17.6h0M29.8 33.3h0M29.1 15.5h0M37.4 15.5h0M7.7 13.5h0M59.1 57.1h0M56.4 25.8h0M4.5 44.8h0M39.0 17.8h0M27.9 10.5h0M43.2 7.5h0M58.4 4.7h0M33.9 0.1h0M7.3 18.1h0M34.9 20.5h0M27.1 9.8h0M49.3 13.4h0M30.6 19.9h0M47.0 13.0h0M2.3 52.3h0M27.3 13.0h0M24.9 17.9h0M51.8 29.6h0M34.4 20.8h0M58.1 27.9h0M58.4 32.1h0M54.9 56.5h0M41.7 50.5h0M55.2 19.4h0M31.9 16.4h0M31.1 29.6h0M54.2 11.9h0M46.4 58.6h0M34.2 26.4h0M31.6 9.8h0M48.7 12.3h0M55.9 58.7h0M33.9 23.0h0M45.9 27.2h0M12.1 2.3h0M7.5 17.7h0M56.8 31.0h0M4.6 42.9h0M24.3 11.4h0M8.8 4.2h0M12.3 8.0h0M51.1 28.4h0M53.7 14.9h0M36.3 54.5h0M54.9 29.4h0M40.8 34.5h0M36.1 15.5h0M2.2 41.9h0M3.9 41.1h0M46.0 8.7h0M3.5 31.7h0M41.9 17.2h0M34.3 28.0h0M28.3 3.2h0M35.5 10.6h0M53.6 14.0h0M25.7 9.4h0M42.7 32.4h0M45.9 27.1h0M58.2 25.1h0M2.0 4.5h0M56.1 1.5h0M28.8 10.8h0M46.2 42.8h0M47.4 50.0h0M18.7 11.9h0M45.2 55.3h0M32.4 24.5h0M4.0 39.7h0M36.3 22.9h0M51.9 32.3h0M39.9 34.2h0M57.1 22.3h0M12.7 7.5h0M32.6 34.3h0M8.5 8.0h0M55.2 21.5h0M22.6 9.6h0M57.5 45.0h0M24.7 4.7h0M59.5 1.9h0M50.0 5.5h0M24.6 33.4h0M43.7 15.1h0M58.6 1.6h0M54.9 0.9h0M5.2 16.9h0M17.2 12.1h0M47.2 16.2h0M59.1 6.8h0M42.7 20.0h0M14.3 12.6h0M32.1 5.1h0M25.6 16.4h0M39.5 54.0h0M58.2 52.6h0M55.9 57.8h0M48.3 50.4h0M47.8 42.4h0M41.2 36.6h0M17.4 0.6h0M40.3 25.2h0M36.8 17.8h0M35.7 1.2h0M58.1 6.5h0M35.3 18.8h0M5.9 51.0h0M23.8 17.6h0M59.3 18.9h0M57.2 13.8h0M20.2 10.2h0M32.2 49.9h0M41.7 28.9h0M52.3 27.1h0M37.5 2.1h0M32.0 14.2h0M44.1 36.2h0M55.9 26.3h0M15.6 12.5h0M37.4 18.6h0M0.9 50.6h0M49.8 6.3h0M31.2 31.8h0M58.2 46.4h0M29.5 44.7h0M14.4 12.5h0M42.6 26.0h0M3.1 47.8h0M50.5 48.0h0M35.5 32.1h0M49.1 29.4h0M51.0 57.4h0M52.1 58.7h0M49.4 40.1h0M46.9 40.1h0M41.0 33.2h0M31.6 29.9h0M48.9 42.1h0M34.6 19.6h0M37.2 44.7h0M58.7 59.9h0M44.4 18.9h0M29.1 13.9h0M11.6 13.8h0M7.3 18.2h0M41.8 34.9h0M25.7 12.4h0M41.3 27.6h0M53.1 28.4h0M2.8 42.1h0M59.2 14.9h0M41.6 23.1h0M5.8 40.5h0M38.7 2.2h0M40.8 1.3h0M51.9 58.7h0M52.8 11.9h0M39.5 18.7h0M23.8 21.7h0M17.0 9.4h0M57.0 34.6h0M49.7 34.4h0M0.7 22.2h0M59.6 31.8h0M28.1 15.4h0M32.5 27.8h0M50.9 4.0h0M27.7 25.6h0M46.5 42.0h0M10.8 5.4h0M38.1 16.8h0M53.7 29.9h0M46.0 9.1h0M3.1 15.1h0M42.4 6.4h0M5.2 18.3h0M41.3 8.7h0" stroke="#3852aa" stroke-width="1.25" stroke-linecap="round" filter="url(#blur3)"/>
<line x1="47.8" y1="52.5" x2="55.8" y2="52.5" stroke="#ccc" stroke-width="0.5"/>
<text x="51.8" y="57.5" font-size="3.8" text-anchor="middle" fill="#e0e0e0">50 µm</text>
</svg>
<svg x="315" y="260" width="60.3" height="60.3" viewBox="0 0 60.3 60.3" overflow="hidden">
<rect width="60.3" height="60.3" fill="#080d0d"/>
<path d="M29.7 18.6h0M19.5 24.8h0M22.4 25.3h0M7.4 12.9h0M16.2 22.2h0M39.4 20.4h0M23.6 38.9h0M20.2 45.9h0M22.9 25.3h0M25.1 9.3h0M25.6 55.4h0M59.4 55.7h0M32.8 8.1h0M38.0 22.5h0M9.9 37.1h0M25.0 40.2h0M32.7 53.0h0M34.9 20.6h0M51.8 24.1h0M35.7 41.4h0M41.9 22.2h0M30.6 40.3h0M32.6 31.2h0M26.1 30.1h0" stroke="#16341a" stroke-width="1.35" stroke-linecap="round" opacity="1.0" filter="url(#blur3)"/>
<path d="M59.7 32.0h0M53.3 21.5h0M41.0 57.1h0M42.2 21.8h0M43.0 21.2h0M54.3 9.3h0M26.5 37.2h0M10.6 26.4h0M24.3 47.1h0M47.7 30.9h0M40.3 22.2h0M5.2 22.6h0M37.6 12.4h0M35.0 13.1h0M5.5 40.1h0M40.4 11.3h0M23.8 5.1h0M14.5 28.6h0M29.8 11.6h0M20.0 6.9h0M42.4 26.5h0M31.3 36.6h0M53.7 17.5h0" stroke="#1f4822" stroke-width="1.35" stroke-linecap="round" opacity="1.0" filter="url(#blur3)"/>
<path d="M15.1 44.6h0M0.7 41.7h0M2.7 8.2h0M26.8 11.4h0M47.4 31.7h0M37.6 36.5h0M27.6 21.7h0M24.2 9.1h0M30.9 10.2h0M22.6 24.4h0M22.1 16.1h0M12.6 30.0h0M13.7 15.5h0M6.7 49.9h0M36.0 27.1h0M28.9 19.0h0M44.6 19.8h0M31.3 32.1h0M36.2 20.2h0M22.0 12.1h0M22.7 27.3h0M32.6 19.0h0M39.5 32.9h0" stroke="#2a5e2a" stroke-width="1.35" stroke-linecap="round" opacity="1.0" filter="url(#blur3)"/>
<line x1="47.8" y1="52.5" x2="55.8" y2="52.5" stroke="#ccc" stroke-width="0.5"/>
<text x="51.8" y="57.5" font-size="3.8" text-anchor="middle" fill="#e0e0e0">50 µm</text>
</svg>
<svg x="315" y="321.9" width="60.3" height="60.3" viewBox="0 0 60.3 60.3" overflow="hidden">
<rect width="60.3" height="60.3" fill="#0c101c"/>
<path d="M3,17 L20,8 L22,11 L5,20.5 Z" fill="#2a4290" opacity="0.55" filter="url(#blur6)"/>
<path d="M44.5,30 L48,30 L49.5,51 L46,51 Z" fill="#2a4290" opacity="0.55" filter="url(#blur6)"/>
<path d="M37.5 22.3h0M48.4 52.3h0M13.1 2.0h0M51.0 35.4h0M1.6 48.5h0M47.1 55.9h0M60.2 8.7h0M38.4 19.6h0M48.6 41.2h0M47.3 38.4h0M48.4 29.9h0M30.1 8.1h0M58.5 4.8h0M55.2 27.0h0M56.5 48.2h0M47.4 1.1h0M23.2 19.1h0M41.5 26.4h0M22.9 6.3h0M48.8 52.9h0M46.6 34.3h0M44.8 48.6h0M50.1 0.7h0M55.5 14.6h0M47.4 54.4h0M53.1 17.4h0M26.7 4.5h0M10.1 5.7h0M41.4 34.3h0M47.0 56.3h0M44.0 42.6h0M36.5 23.5h0M34.1 20.1h0M4.8 25.3h0M59.8 14.0h0M36.0 4.9h0M36.1 41.5h0M5.9 36.0h0M48.2 22.5h0M39.1 24.5h0M58.4 40.4h0M20.7 10.8h0M30.7 13.8h0M56.9 1.2h0M41.3 32.8h0M7.3 19.5h0M51.0 7.4h0M59.7 18.3h0M51.4 33.8h0M23.2 20.7h0M50.6 47.9h0M56.6 1.7h0M23.8 0.0h0M25.3 14.3h0M46.3 1.0h0M8.5 4.4h0M39.4 8.5h0M51.6 42.9h0M58.9 16.8h0M40.5 27.9h0M57.1 32.4h0M29.0 22.4h0M54.8 20.7h0M54.7 24.6h0M50.2 27.4h0M55.1 44.4h0M60.0 19.4h0M1.8 16.0h0M46.3 54.1h0M54.6 51.6h0M48.1 26.9h0M35.6 22.7h0M49.6 23.8h0M54.8 26.1h0M39.8 24.4h0M49.6 7.8h0M19.1 27.5h0M53.5 46.1h0M11.9 12.6h0M56.4 7.6h0M50.1 10.5h0M33.3 17.3h0M47.5 24.8h0M34.4 49.8h0M17.9 13.2h0M58.5 4.9h0M9.2 5.2h0M44.7 14.0h0M45.8 12.4h0M0.6 46.6h0M1.3 11.3h0M41.5 34.4h0M20.1 4.0h0M59.2 20.6h0M52.4 36.0h0M1.3 50.7h0M31.0 37.8h0M35.3 13.9h0M55.7 17.7h0M44.8 40.7h0M48.6 45.6h0M20.3 7.4h0M57.4 7.2h0M52.6 50.8h0M42.4 3.0h0M48.5 31.8h0M51.1 12.7h0M42.4 4.6h0M4.3 47.4h0M37.6 22.2h0M7.6 18.1h0M29.7 10.7h0M39.4 40.3h0M40.1 12.8h0M48.1 41.0h0M7.0 19.3h0M53.9 51.4h0M35.6 10.2h0M52.4 18.2h0M6.7 12.7h0M53.3 36.1h0M36.3 0.0h0M18.7 14.2h0M50.6 56.4h0M48.4 6.2h0M32.6 29.7h0M37.8 18.2h0M34.9 23.8h0M56.7 29.5h0M51.1 3.3h0M46.4 32.7h0M39.9 9.6h0M4.0 54.9h0M24.2 27.1h0M39.5 17.6h0M39.5 27.7h0M43.8 6.7h0M25.4 13.6h0M47.1 50.9h0M46.9 23.0h0M50.3 52.1h0M38.4 8.1h0M3.1 58.1h0M52.3 27.3h0M7.9 6.3h0M47.7 30.9h0M20.2 9.0h0M38.2 22.1h0M7.2 14.4h0M29.6 30.4h0M41.0 22.0h0M58.4 6.3h0M52.0 50.4h0M41.5 54.0h0M46.4 38.7h0M48.8 20.2h0M43.0 12.0h0M23.3 17.0h0M4.4 5.8h0M54.2 31.0h0M37.7 30.9h0M36.7 56.9h0M50.6 49.5h0M54.4 13.9h0M2.5 42.4h0M32.1 23.0h0M4.1 39.8h0M56.6 41.6h0M40.0 18.6h0M44.3 25.3h0M27.4 14.0h0M45.6 54.2h0M54.4 38.7h0M46.0 38.5h0M35.2 29.9h0M56.8 11.4h0M51.9 50.5h0M39.7 27.5h0M41.9 15.1h0M42.2 18.8h0M4.8 53.1h0M48.3 59.2h0M17.2 9.6h0M40.8 1.3h0M26.2 7.3h0M52.6 37.0h0M43.5 45.1h0M56.4 40.9h0M14.7 40.1h0M51.3 28.7h0M35.6 18.3h0M48.9 2.1h0M7.6 17.7h0M0.8 38.6h0M31.4 16.2h0M40.3 17.6h0M1.6 37.0h0M58.2 21.0h0M38.3 31.0h0M51.2 18.4h0M47.0 45.5h0M42.6 10.1h0M6.7 52.9h0M51.9 52.1h0M44.5 20.8h0M14.2 8.3h0M45.8 56.6h0M57.9 12.0h0M39.2 20.5h0M54.7 4.6h0M57.2 12.8h0M1.1 23.9h0M30.1 9.7h0M43.5 5.2h0M55.4 4.8h0M2.1 39.0h0M37.9 20.3h0M60.1 10.1h0M1.2 54.0h0M2.7 17.7h0M5.3 42.1h0M27.0 12.3h0M29.0 4.4h0M48.9 49.8h0M33.9 2.8h0M37.3 8.1h0M28.1 0.2h0M46.6 13.1h0M23.0 8.9h0M49.5 47.5h0M44.8 36.6h0M36.6 58.3h0M30.2 55.4h0M41.0 18.2h0M42.3 13.2h0M30.0 2.6h0M52.4 20.9h0M0.1 43.7h0M2.6 11.1h0M58.5 22.8h0" stroke="#24336c" stroke-width="1.45" stroke-linecap="round" filter="url(#blur3)"/>
<path d="M40.0 16.6h0M28.2 16.7h0M42.1 20.5h0M19.1 5.4h0M43.8 29.7h0M37.8 8.7h0M38.4 9.6h0M21.2 7.9h0M31.3 15.5h0M44.9 33.7h0M6.5 52.8h0M52.0 10.3h0M44.6 36.8h0M29.5 20.0h0M31.6 24.0h0M36.1 13.6h0M39.6 26.7h0M41.2 24.4h0M53.2 17.8h0M37.2 37.9h0M43.6 27.0h0M32.3 5.9h0M3.4 52.2h0M41.1 48.1h0M59.1 27.0h0M14.3 10.9h0M57.1 6.9h0M43.2 12.3h0M54.4 6.8h0M42.3 7.6h0M52.2 19.8h0M36.9 26.2h0M23.6 7.2h0M34.4 34.9h0M33.2 20.3h0M27.0 27.2h0M5.5 15.3h0M5.5 40.9h0M31.8 59.1h0M38.0 26.8h0M7.7 12.5h0M24.7 39.2h0M53.2 49.0h0M25.3 15.9h0M48.5 43.5h0M19.9 12.3h0M26.3 50.3h0M36.6 60.0h0M58.0 10.4h0M51.3 17.5h0M47.1 49.5h0M52.5 4.0h0M39.2 37.1h0M16.8 9.8h0M56.9 15.1h0M54.7 25.2h0M47.7 37.5h0M53.3 39.6h0M39.1 34.7h0M18.2 7.7h0M59.2 10.1h0M58.3 0.7h0M45.7 28.4h0M38.5 27.6h0M59.6 23.4h0M45.0 14.0h0M4.6 12.3h0M32.4 54.8h0M52.2 29.9h0M40.3 22.5h0M50.6 47.9h0M36.8 27.3h0M49.3 3.5h0M41.0 10.6h0M59.7 48.0h0M4.0 50.9h0M59.8 20.7h0M50.5 53.1h0M1.0 43.6h0M33.1 53.6h0M48.6 50.5h0M4.1 20.1h0M42.9 6.9h0M37.1 55.1h0M48.7 46.3h0M5.4 45.3h0M34.5 10.7h0M13.2 4.0h0M32.0 2.6h0M43.2 12.0h0M47.2 58.8h0M59.6 0.3h0M46.0 32.1h0M47.2 40.7h0M36.2 16.9h0M42.5 20.1h0M47.8 33.3h0M58.1 17.0h0M6.2 47.1h0M53.1 8.5h0M0.1 29.6h0M46.5 30.9h0M33.6 17.9h0M56.3 17.1h0M50.0 32.3h0M6.1 47.3h0M4.4 13.5h0M2.7 29.3h0M52.7 5.3h0M20.6 5.4h0M34.1 23.1h0M30.6 13.0h0M25.7 17.6h0M53.8 36.5h0M1.1 20.4h0M23.2 8.8h0M41.6 32.1h0M38.6 15.4h0M29.7 10.1h0M0.9 40.6h0M53.1 7.0h0M47.5 50.7h0M47.7 58.4h0M53.5 7.2h0M43.4 0.7h0M31.6 22.6h0M52.4 21.2h0M41.1 31.8h0M36.4 30.6h0M55.4 0.9h0M1.2 17.4h0M1.5 58.1h0M53.5 13.8h0M51.2 17.4h0M1.3 45.1h0M2.1 16.0h0M19.9 7.9h0M49.4 14.5h0M49.4 48.5h0M33.1 17.9h0M1.0 39.0h0M23.0 14.6h0M48.9 28.4h0M38.9 24.0h0M46.2 27.6h0M3.0 20.5h0M19.7 12.4h0M59.7 20.0h0M0.4 15.8h0M59.5 10.9h0M0.8 18.1h0M25.2 10.9h0M30.1 18.0h0M51.9 23.2h0M43.4 33.7h0M43.8 38.3h0M58.2 25.9h0M45.2 6.6h0M19.4 9.7h0M49.5 35.9h0M56.3 12.0h0M33.7 3.0h0M53.0 38.3h0M18.2 9.1h0M49.1 50.6h0M33.1 18.5h0M43.5 32.5h0M21.9 16.1h0M55.0 23.2h0M53.8 5.8h0M33.6 21.4h0M31.9 4.7h0M7.2 3.2h0M37.8 21.0h0M51.2 10.1h0M57.2 7.5h0M58.4 3.4h0M22.3 16.4h0M58.0 14.2h0M43.9 42.9h0M38.6 56.0h0M9.0 2.8h0M43.7 25.9h0M37.4 0.9h0M52.5 6.8h0M25.4 30.3h0M48.7 32.0h0M50.9 27.5h0M39.9 11.4h0M39.6 4.8h0M46.7 10.0h0M56.1 9.1h0M58.1 12.9h0M50.5 20.7h0M36.1 43.2h0M9.5 1.2h0M50.9 11.8h0M32.4 13.8h0M6.7 19.8h0M41.7 2.0h0M16.4 11.6h0M0.0 8.2h0M40.2 5.3h0M30.1 20.8h0M42.4 9.5h0M48.6 4.7h0M47.9 9.5h0M32.0 53.5h0M53.3 52.7h0M34.3 16.9h0M1.9 36.9h0M4.3 45.5h0M60.1 39.7h0M33.4 17.6h0M26.9 2.0h0M6.6 17.6h0M3.9 15.4h0M60.3 45.5h0M45.1 41.0h0M59.5 16.2h0M45.4 30.8h0M58.3 33.2h0M44.5 23.2h0M55.4 10.7h0M11.5 3.7h0M47.1 35.3h0M56.5 54.6h0M10.3 14.3h0M52.5 36.8h0M45.4 7.4h0M45.9 43.4h0M23.2 17.8h0M42.8 7.2h0M4.4 36.5h0M20.4 10.4h0M31.3 35.6h0M38.8 5.5h0M35.3 5.8h0M1.9 30.3h0M52.1 10.5h0" stroke="#2d428c" stroke-width="1.35" stroke-linecap="round" filter="url(#blur3)"/>
<path d="M47.5 40.4h0M54.0 25.9h0M41.7 3.3h0M1.5 50.6h0M59.0 56.7h0M2.1 21.7h0M4.7 36.8h0M54.7 42.2h0M5.8 19.6h0M27.0 34.1h0M37.2 24.9h0M43.1 32.7h0M22.0 9.3h0M35.8 24.1h0M2.5 48.2h0M11.1 34.9h0M49.5 55.3h0M49.9 16.6h0M51.1 23.4h0M53.7 27.8h0M58.2 9.6h0M34.7 20.1h0M43.9 57.7h0M28.8 2.7h0M57.6 41.4h0M35.4 4.9h0M11.6 13.3h0M41.2 5.1h0M45.4 17.4h0M29.0 24.6h0M51.1 2.0h0M40.6 43.8h0M49.6 5.7h0M53.1 16.7h0M7.5 17.9h0M57.1 13.9h0M36.6 25.0h0M37.0 23.7h0M44.0 25.5h0M45.6 41.0h0M44.7 41.1h0M21.8 6.1h0M5.0 44.0h0M50.8 21.4h0M46.4 17.2h0M39.0 40.9h0M49.7 14.1h0M41.7 25.0h0M54.8 16.0h0M16.6 11.3h0M38.1 0.1h0M56.6 1.1h0M39.5 35.2h0M45.9 51.4h0M10.9 8.4h0M48.4 39.3h0M41.6 25.6h0M51.6 5.6h0M39.1 17.6h0M29.8 33.3h0M29.1 15.5h0M37.4 15.5h0M7.7 13.5h0M59.1 57.1h0M56.4 25.8h0M4.5 44.8h0M39.0 17.8h0M27.9 10.5h0M43.2 7.5h0M58.4 4.7h0M33.9 0.1h0M7.3 18.1h0M34.9 20.5h0M27.1 9.8h0M49.3 13.4h0M30.6 19.9h0M47.0 13.0h0M2.3 52.3h0M27.3 13.0h0M24.9 17.9h0M51.8 29.6h0M34.4 20.8h0M58.1 27.9h0M58.4 32.1h0M54.9 56.5h0M41.7 50.5h0M55.2 19.4h0M31.9 16.4h0M31.1 29.6h0M54.2 11.9h0M46.4 58.6h0M34.2 26.4h0M31.6 9.8h0M48.7 12.3h0M55.9 58.7h0M33.9 23.0h0M45.9 27.2h0M12.1 2.3h0M7.5 17.7h0M56.8 31.0h0M4.6 42.9h0M24.3 11.4h0M8.8 4.2h0M12.3 8.0h0M51.1 28.4h0M53.7 14.9h0M36.3 54.5h0M54.9 29.4h0M40.8 34.5h0M36.1 15.5h0M2.2 41.9h0M3.9 41.1h0M46.0 8.7h0M3.5 31.7h0M41.9 17.2h0M34.3 28.0h0M28.3 3.2h0M35.5 10.6h0M53.6 14.0h0M25.7 9.4h0M42.7 32.4h0M45.9 27.1h0M58.2 25.1h0M2.0 4.5h0M56.1 1.5h0M28.8 10.8h0M46.2 42.8h0M47.4 50.0h0M18.7 11.9h0M45.2 55.3h0M32.4 24.5h0M4.0 39.7h0M36.3 22.9h0M51.9 32.3h0M39.9 34.2h0M57.1 22.3h0M12.7 7.5h0M32.6 34.3h0M8.5 8.0h0M55.2 21.5h0M22.6 9.6h0M57.5 45.0h0M24.7 4.7h0M59.5 1.9h0M50.0 5.5h0M24.6 33.4h0M43.7 15.1h0M58.6 1.6h0M54.9 0.9h0M5.2 16.9h0M17.2 12.1h0M47.2 16.2h0M59.1 6.8h0M42.7 20.0h0M14.3 12.6h0M32.1 5.1h0M25.6 16.4h0M39.5 54.0h0M58.2 52.6h0M55.9 57.8h0M48.3 50.4h0M47.8 42.4h0M41.2 36.6h0M17.4 0.6h0M40.3 25.2h0M36.8 17.8h0M35.7 1.2h0M58.1 6.5h0M35.3 18.8h0M5.9 51.0h0M23.8 17.6h0M59.3 18.9h0M57.2 13.8h0M20.2 10.2h0M32.2 49.9h0M41.7 28.9h0M52.3 27.1h0M37.5 2.1h0M32.0 14.2h0M44.1 36.2h0M55.9 26.3h0M15.6 12.5h0M37.4 18.6h0M0.9 50.6h0M49.8 6.3h0M31.2 31.8h0M58.2 46.4h0M29.5 44.7h0M14.4 12.5h0M42.6 26.0h0M3.1 47.8h0M50.5 48.0h0M35.5 32.1h0M49.1 29.4h0M51.0 57.4h0M52.1 58.7h0M49.4 40.1h0M46.9 40.1h0M41.0 33.2h0M31.6 29.9h0M48.9 42.1h0M34.6 19.6h0M37.2 44.7h0M58.7 59.9h0M44.4 18.9h0M29.1 13.9h0M11.6 13.8h0M7.3 18.2h0M41.8 34.9h0M25.7 12.4h0M41.3 27.6h0M53.1 28.4h0M2.8 42.1h0M59.2 14.9h0M41.6 23.1h0M5.8 40.5h0M38.7 2.2h0M40.8 1.3h0M51.9 58.7h0M52.8 11.9h0M39.5 18.7h0M23.8 21.7h0M17.0 9.4h0M57.0 34.6h0M49.7 34.4h0M0.7 22.2h0M59.6 31.8h0M28.1 15.4h0M32.5 27.8h0M50.9 4.0h0M27.7 25.6h0M46.5 42.0h0M10.8 5.4h0M38.1 16.8h0M53.7 29.9h0M46.0 9.1h0M3.1 15.1h0M42.4 6.4h0M5.2 18.3h0M41.3 8.7h0" stroke="#3852aa" stroke-width="1.25" stroke-linecap="round" filter="url(#blur3)"/>
<path d="M29.7 18.6h0M19.5 24.8h0M22.4 25.3h0M7.4 12.9h0M16.2 22.2h0M39.4 20.4h0M23.6 38.9h0M20.2 45.9h0M22.9 25.3h0M25.1 9.3h0M25.6 55.4h0M59.4 55.7h0M32.8 8.1h0M38.0 22.5h0M9.9 37.1h0M25.0 40.2h0M32.7 53.0h0M34.9 20.6h0M51.8 24.1h0M35.7 41.4h0M41.9 22.2h0M30.6 40.3h0M32.6 31.2h0M26.1 30.1h0" stroke="#16341a" stroke-width="1.35" stroke-linecap="round" opacity="0.55" filter="url(#blur3)"/>
<path d="M59.7 32.0h0M53.3 21.5h0M41.0 57.1h0M42.2 21.8h0M43.0 21.2h0M54.3 9.3h0M26.5 37.2h0M10.6 26.4h0M24.3 47.1h0M47.7 30.9h0M40.3 22.2h0M5.2 22.6h0M37.6 12.4h0M35.0 13.1h0M5.5 40.1h0M40.4 11.3h0M23.8 5.1h0M14.5 28.6h0M29.8 11.6h0M20.0 6.9h0M42.4 26.5h0M31.3 36.6h0M53.7 17.5h0" stroke="#1f4822" stroke-width="1.35" stroke-linecap="round" opacity="0.55" filter="url(#blur3)"/>
<path d="M15.1 44.6h0M0.7 41.7h0M2.7 8.2h0M26.8 11.4h0M47.4 31.7h0M37.6 36.5h0M27.6 21.7h0M24.2 9.1h0M30.9 10.2h0M22.6 24.4h0M22.1 16.1h0M12.6 30.0h0M13.7 15.5h0M6.7 49.9h0M36.0 27.1h0M28.9 19.0h0M44.6 19.8h0M31.3 32.1h0M36.2 20.2h0M22.0 12.1h0M22.7 27.3h0M32.6 19.0h0M39.5 32.9h0" stroke="#2a5e2a" stroke-width="1.35" stroke-linecap="round" opacity="0.55" filter="url(#blur3)"/>
<line x1="47.8" y1="52.5" x2="55.8" y2="52.5" stroke="#ccc" stroke-width="0.5"/>
<text x="51.8" y="57.5" font-size="3.8" text-anchor="middle" fill="#e0e0e0">50 µm</text>
</svg>
<svg x="376.75" y="198" width="60.3" height="60.3" viewBox="0 0 60.3 60.3" overflow="hidden">
<rect width="60.3" height="60.3" fill="#0c1022"/>
<path d="M33.3 27.8h0M30.7 2.2h0M22.4 20.6h0M21.1 55.3h0M41.9 16.7h0M48.0 11.5h0M44.2 12.4h0M59.8 33.4h0M5.6 38.5h0M53.5 21.1h0M1.7 38.5h0M14.8 18.3h0M26.4 13.1h0M7.7 33.2h0M24.1 55.5h0M17.8 13.4h0M50.8 44.1h0M36.0 57.9h0M43.7 47.6h0M5.2 35.0h0M26.7 46.5h0M19.5 50.6h0M43.1 26.4h0M53.5 58.8h0M3.7 19.6h0M29.8 21.0h0M41.0 50.9h0M40.3 36.4h0M36.3 31.0h0M45.9 34.0h0M56.9 26.6h0M45.2 28.9h0M36.2 38.2h0M9.3 25.3h0M32.8 49.1h0M41.6 5.4h0M54.0 0.6h0M42.8 19.1h0M27.7 30.9h0M11.6 22.5h0M40.6 10.3h0M28.8 11.4h0M19.9 46.3h0M31.4 45.8h0M17.6 49.5h0M48.4 57.7h0M47.4 55.2h0M58.0 49.0h0M11.1 36.8h0M51.4 25.5h0M31.1 3.0h0M42.8 38.1h0M20.2 39.9h0M1.9 56.1h0M8.0 36.8h0M11.0 1.6h0M52.0 46.1h0M24.1 3.7h0M50.6 39.9h0M11.0 38.1h0M19.6 29.3h0M10.2 50.3h0M54.1 15.7h0M43.8 16.7h0M11.6 47.9h0M21.8 59.8h0M50.2 40.7h0M32.8 29.4h0M10.9 29.9h0M34.4 25.3h0M29.0 34.6h0M29.2 46.5h0M54.5 59.7h0M49.3 35.2h0M10.0 52.0h0M36.2 37.1h0M3.8 31.4h0M44.1 0.2h0M57.4 31.3h0M37.1 4.5h0M47.9 24.0h0M16.0 26.3h0M50.0 24.3h0M33.1 35.2h0M22.3 23.3h0M50.4 56.9h0M55.1 25.0h0M5.0 26.5h0M44.5 51.1h0M12.4 2.0h0M2.2 44.9h0M56.6 13.4h0M55.2 43.3h0M46.6 14.8h0M20.8 13.9h0M12.0 36.8h0M22.7 21.4h0M38.2 3.9h0M48.1 43.9h0M47.6 34.7h0M35.9 56.4h0M33.3 11.1h0M55.1 42.4h0M33.5 28.0h0M37.3 52.8h0M37.1 18.3h0M46.1 53.3h0M23.2 9.9h0M54.6 23.6h0M2.9 8.0h0M59.7 1.8h0M7.9 41.4h0M57.2 8.9h0M1.4 35.1h0M13.1 6.9h0M14.1 16.8h0M52.3 12.5h0M21.9 46.6h0M30.6 18.1h0M43.3 28.6h0M44.8 31.5h0M22.9 5.9h0M6.2 48.6h0M15.5 47.7h0M7.0 22.0h0M5.3 6.1h0M24.6 27.6h0M26.0 36.7h0M20.5 49.2h0M11.1 0.1h0M5.0 15.4h0M54.5 12.5h0M12.1 45.7h0M27.9 8.5h0M59.3 15.7h0M34.1 16.6h0M33.4 59.3h0M48.0 0.1h0M8.6 33.1h0M23.8 57.8h0M26.1 53.2h0M16.5 8.5h0M29.2 39.1h0M31.3 18.1h0M51.3 31.7h0M38.6 4.8h0M18.3 1.5h0" stroke="#24336c" stroke-width="1.45" stroke-linecap="round" filter="url(#blur3)"/>
<path d="M2.0 12.7h0M37.4 22.8h0M35.7 4.5h0M4.5 43.0h0M26.3 53.9h0M19.6 40.0h0M36.2 2.5h0M24.3 40.5h0M49.3 47.7h0M18.3 0.6h0M44.8 36.7h0M8.1 24.3h0M20.5 5.9h0M16.3 6.8h0M46.3 27.3h0M30.1 45.9h0M7.4 48.1h0M52.6 37.7h0M58.6 12.6h0M16.3 38.7h0M53.1 1.9h0M46.4 18.7h0M1.9 24.8h0M20.9 22.6h0M28.5 28.7h0M34.3 11.1h0M22.4 15.2h0M4.5 50.8h0M54.5 15.8h0M39.9 38.4h0M34.3 6.0h0M47.5 30.7h0M47.9 16.2h0M12.5 38.9h0M15.2 39.3h0M7.4 15.0h0M18.2 24.3h0M30.3 14.4h0M22.5 8.0h0M11.5 24.7h0M51.9 44.9h0M23.9 20.5h0M57.6 58.2h0M27.7 18.4h0M29.0 22.0h0M36.1 49.6h0M39.5 51.7h0M54.9 21.8h0M15.0 26.2h0M10.2 42.8h0M4.6 55.9h0M20.1 7.8h0M17.8 32.1h0M2.7 47.6h0M5.6 2.8h0M14.6 58.5h0M57.5 25.9h0M6.7 5.7h0M28.7 26.4h0M43.2 42.6h0M30.8 36.3h0M1.2 26.2h0M14.9 19.3h0M47.1 53.1h0M46.4 34.5h0M42.8 51.8h0M40.7 20.3h0M35.0 50.1h0M30.5 10.0h0M57.5 31.9h0M27.9 37.3h0M1.6 14.5h0M54.2 31.2h0M0.5 14.0h0M51.4 36.5h0M15.9 44.2h0M41.3 26.0h0M11.4 17.1h0M32.5 11.1h0M16.9 16.9h0M25.1 5.7h0M59.3 25.2h0M13.7 6.1h0M36.0 44.8h0M41.9 48.4h0M38.5 3.4h0M13.6 14.4h0M18.5 20.0h0M3.4 59.5h0M28.6 4.2h0M33.7 19.4h0M9.6 11.9h0M21.7 16.2h0M24.5 33.6h0M57.3 6.7h0M4.0 21.5h0M42.7 9.6h0M5.7 17.5h0M2.8 20.2h0M54.8 51.4h0M8.2 39.8h0M8.3 4.2h0M4.3 3.2h0M24.9 59.8h0M55.5 3.7h0M27.5 15.3h0M10.4 23.8h0M57.7 13.6h0M30.6 50.3h0M49.7 24.2h0M32.1 2.8h0M8.5 37.3h0M26.6 23.0h0M38.1 16.2h0M5.3 47.5h0M30.0 53.5h0M26.7 49.3h0M52.9 33.6h0M28.9 26.6h0M28.3 15.5h0M15.9 12.1h0M42.4 8.1h0M46.5 8.5h0M53.1 6.7h0M31.8 33.4h0M1.8 9.2h0M51.8 37.7h0M45.4 42.5h0M1.7 60.2h0M26.8 34.9h0M6.7 7.0h0M44.4 32.9h0M32.1 28.7h0M34.4 28.1h0M51.2 58.6h0M12.8 8.0h0M35.4 29.0h0M21.8 21.1h0M49.3 1.1h0M19.1 56.8h0M46.3 14.0h0M35.7 52.3h0M11.1 55.1h0M56.3 18.5h0M22.7 44.7h0M46.6 3.2h0M35.3 32.9h0" stroke="#2d428c" stroke-width="1.35" stroke-linecap="round" filter="url(#blur3)"/>
<path d="M58.1 11.2h0M14.5 18.1h0M10.6 22.3h0M15.5 4.5h0M20.8 23.8h0M0.6 35.1h0M11.4 51.1h0M39.8 5.7h0M3.5 40.3h0M53.3 21.3h0M36.7 23.8h0M35.3 11.5h0M10.4 21.3h0M14.0 23.2h0M5.2 23.7h0M25.6 11.6h0M47.1 36.5h0M59.3 2.0h0M29.2 17.7h0M50.0 50.6h0M59.3 25.7h0M26.7 60.1h0M50.1 53.3h0M55.1 30.1h0M5.2 38.2h0M3.8 40.3h0M26.4 26.5h0M57.7 2.8h0M59.6 31.3h0M25.4 49.0h0M45.1 35.8h0M23.4 54.5h0M9.4 25.7h0M56.1 13.7h0M13.3 60.1h0M6.8 46.3h0M30.4 21.0h0M32.5 38.4h0M46.9 35.2h0M32.1 50.1h0M43.8 56.0h0M24.5 9.4h0M15.7 34.0h0M51.8 50.2h0M52.6 58.7h0M32.4 54.0h0M15.4 33.0h0M28.3 6.1h0M28.4 35.3h0M4.8 40.0h0M55.5 4.2h0M21.6 32.5h0M40.9 32.5h0M38.7 41.4h0M7.0 50.7h0M12.5 37.0h0M19.0 15.1h0M27.9 15.0h0M21.2 2.2h0M10.2 60.0h0M1.9 44.7h0M28.4 9.7h0M0.9 0.6h0M59.5 57.4h0M16.3 28.6h0M37.3 53.6h0M3.2 56.9h0M24.6 48.2h0M27.6 35.7h0M21.2 46.7h0M27.7 23.8h0M15.4 26.7h0M53.6 41.7h0M9.0 42.6h0M14.2 35.5h0M2.7 3.6h0M39.7 58.4h0M29.1 52.0h0M38.5 32.9h0M52.5 34.5h0M31.9 12.6h0M57.7 44.8h0M13.5 2.4h0M26.1 26.4h0M44.3 30.9h0M50.6 8.3h0M4.7 30.9h0M57.6 52.3h0M13.5 28.1h0M28.5 50.0h0M39.3 17.1h0M22.9 27.3h0M37.4 19.5h0M20.0 12.5h0M57.6 5.6h0M57.0 37.1h0M46.8 30.7h0M18.9 20.8h0M37.5 26.1h0M44.9 4.1h0M21.2 40.5h0M49.9 41.5h0M6.6 15.5h0M0.1 25.2h0M6.7 54.5h0M55.3 28.4h0M41.2 13.3h0M22.1 5.1h0M41.1 21.4h0M43.6 20.9h0M24.1 38.1h0M32.7 42.2h0M6.5 40.0h0M41.7 57.4h0M18.6 6.0h0M30.2 39.4h0M49.3 3.4h0M33.6 21.6h0M11.1 28.0h0M44.5 29.9h0M4.2 4.0h0M35.1 56.7h0M51.9 39.6h0M11.1 33.1h0M34.4 8.7h0M10.8 59.7h0M5.7 47.9h0M35.3 56.1h0M35.9 11.0h0M1.3 11.3h0M28.7 4.1h0M56.4 2.1h0M28.2 26.8h0M31.8 36.3h0M50.0 47.9h0M40.6 43.6h0M50.5 14.1h0M33.2 39.1h0M18.1 33.0h0M47.2 45.1h0M46.9 40.4h0M14.9 55.8h0M55.9 55.6h0M56.4 46.6h0M12.4 20.2h0M3.7 11.6h0" stroke="#3852aa" stroke-width="1.25" stroke-linecap="round" filter="url(#blur3)"/>
<line x1="47.8" y1="52.5" x2="55.8" y2="52.5" stroke="#ccc" stroke-width="0.5"/>
<text x="51.8" y="57.5" font-size="3.8" text-anchor="middle" fill="#e0e0e0">50 µm</text>
</svg>
<svg x="376.75" y="260" width="60.3" height="60.3" viewBox="0 0 60.3 60.3" overflow="hidden">
<rect width="60.3" height="60.3" fill="#080d0d"/>
<path d="M25.0 20.9h0M26.7 30.7h0M32.8 2.0h0M47.2 21.5h0M26.4 27.5h0M8.6 2.4h0M51.3 45.0h0M22.9 33.5h0M14.0 18.3h0M15.8 27.4h0" stroke="#122a14" stroke-width="1.35" stroke-linecap="round" opacity="1.0" filter="url(#blur3)"/>
<path d="M2.0 58.9h0M37.2 29.7h0M43.7 10.6h0M21.7 47.8h0M18.4 39.4h0M43.9 41.6h0M2.8 14.7h0M37.4 38.2h0M57.4 34.5h0M20.8 48.4h0" stroke="#1a3a1c" stroke-width="1.35" stroke-linecap="round" opacity="1.0" filter="url(#blur3)"/>
<path d="M51.5 46.2h0M47.6 19.0h0M17.8 41.3h0M27.9 9.7h0M36.6 45.3h0M24.2 48.1h0M30.0 23.5h0M46.3 21.1h0M31.4 32.1h0M40.2 14.4h0" stroke="#214a22" stroke-width="1.35" stroke-linecap="round" opacity="1.0" filter="url(#blur3)"/>
<line x1="47.8" y1="52.5" x2="55.8" y2="52.5" stroke="#ccc" stroke-width="0.5"/>
<text x="51.8" y="57.5" font-size="3.8" text-anchor="middle" fill="#e0e0e0">50 µm</text>
</svg>
<svg x="376.75" y="321.9" width="60.3" height="60.3" viewBox="0 0 60.3 60.3" overflow="hidden">
<rect width="60.3" height="60.3" fill="#0c1022"/>
<path d="M33.3 27.8h0M30.7 2.2h0M22.4 20.6h0M21.1 55.3h0M41.9 16.7h0M48.0 11.5h0M44.2 12.4h0M59.8 33.4h0M5.6 38.5h0M53.5 21.1h0M1.7 38.5h0M14.8 18.3h0M26.4 13.1h0M7.7 33.2h0M24.1 55.5h0M17.8 13.4h0M50.8 44.1h0M36.0 57.9h0M43.7 47.6h0M5.2 35.0h0M26.7 46.5h0M19.5 50.6h0M43.1 26.4h0M53.5 58.8h0M3.7 19.6h0M29.8 21.0h0M41.0 50.9h0M40.3 36.4h0M36.3 31.0h0M45.9 34.0h0M56.9 26.6h0M45.2 28.9h0M36.2 38.2h0M9.3 25.3h0M32.8 49.1h0M41.6 5.4h0M54.0 0.6h0M42.8 19.1h0M27.7 30.9h0M11.6 22.5h0M40.6 10.3h0M28.8 11.4h0M19.9 46.3h0M31.4 45.8h0M17.6 49.5h0M48.4 57.7h0M47.4 55.2h0M58.0 49.0h0M11.1 36.8h0M51.4 25.5h0M31.1 3.0h0M42.8 38.1h0M20.2 39.9h0M1.9 56.1h0M8.0 36.8h0M11.0 1.6h0M52.0 46.1h0M24.1 3.7h0M50.6 39.9h0M11.0 38.1h0M19.6 29.3h0M10.2 50.3h0M54.1 15.7h0M43.8 16.7h0M11.6 47.9h0M21.8 59.8h0M50.2 40.7h0M32.8 29.4h0M10.9 29.9h0M34.4 25.3h0M29.0 34.6h0M29.2 46.5h0M54.5 59.7h0M49.3 35.2h0M10.0 52.0h0M36.2 37.1h0M3.8 31.4h0M44.1 0.2h0M57.4 31.3h0M37.1 4.5h0M47.9 24.0h0M16.0 26.3h0M50.0 24.3h0M33.1 35.2h0M22.3 23.3h0M50.4 56.9h0M55.1 25.0h0M5.0 26.5h0M44.5 51.1h0M12.4 2.0h0M2.2 44.9h0M56.6 13.4h0M55.2 43.3h0M46.6 14.8h0M20.8 13.9h0M12.0 36.8h0M22.7 21.4h0M38.2 3.9h0M48.1 43.9h0M47.6 34.7h0M35.9 56.4h0M33.3 11.1h0M55.1 42.4h0M33.5 28.0h0M37.3 52.8h0M37.1 18.3h0M46.1 53.3h0M23.2 9.9h0M54.6 23.6h0M2.9 8.0h0M59.7 1.8h0M7.9 41.4h0M57.2 8.9h0M1.4 35.1h0M13.1 6.9h0M14.1 16.8h0M52.3 12.5h0M21.9 46.6h0M30.6 18.1h0M43.3 28.6h0M44.8 31.5h0M22.9 5.9h0M6.2 48.6h0M15.5 47.7h0M7.0 22.0h0M5.3 6.1h0M24.6 27.6h0M26.0 36.7h0M20.5 49.2h0M11.1 0.1h0M5.0 15.4h0M54.5 12.5h0M12.1 45.7h0M27.9 8.5h0M59.3 15.7h0M34.1 16.6h0M33.4 59.3h0M48.0 0.1h0M8.6 33.1h0M23.8 57.8h0M26.1 53.2h0M16.5 8.5h0M29.2 39.1h0M31.3 18.1h0M51.3 31.7h0M38.6 4.8h0M18.3 1.5h0" stroke="#24336c" stroke-width="1.45" stroke-linecap="round" filter="url(#blur3)"/>
<path d="M2.0 12.7h0M37.4 22.8h0M35.7 4.5h0M4.5 43.0h0M26.3 53.9h0M19.6 40.0h0M36.2 2.5h0M24.3 40.5h0M49.3 47.7h0M18.3 0.6h0M44.8 36.7h0M8.1 24.3h0M20.5 5.9h0M16.3 6.8h0M46.3 27.3h0M30.1 45.9h0M7.4 48.1h0M52.6 37.7h0M58.6 12.6h0M16.3 38.7h0M53.1 1.9h0M46.4 18.7h0M1.9 24.8h0M20.9 22.6h0M28.5 28.7h0M34.3 11.1h0M22.4 15.2h0M4.5 50.8h0M54.5 15.8h0M39.9 38.4h0M34.3 6.0h0M47.5 30.7h0M47.9 16.2h0M12.5 38.9h0M15.2 39.3h0M7.4 15.0h0M18.2 24.3h0M30.3 14.4h0M22.5 8.0h0M11.5 24.7h0M51.9 44.9h0M23.9 20.5h0M57.6 58.2h0M27.7 18.4h0M29.0 22.0h0M36.1 49.6h0M39.5 51.7h0M54.9 21.8h0M15.0 26.2h0M10.2 42.8h0M4.6 55.9h0M20.1 7.8h0M17.8 32.1h0M2.7 47.6h0M5.6 2.8h0M14.6 58.5h0M57.5 25.9h0M6.7 5.7h0M28.7 26.4h0M43.2 42.6h0M30.8 36.3h0M1.2 26.2h0M14.9 19.3h0M47.1 53.1h0M46.4 34.5h0M42.8 51.8h0M40.7 20.3h0M35.0 50.1h0M30.5 10.0h0M57.5 31.9h0M27.9 37.3h0M1.6 14.5h0M54.2 31.2h0M0.5 14.0h0M51.4 36.5h0M15.9 44.2h0M41.3 26.0h0M11.4 17.1h0M32.5 11.1h0M16.9 16.9h0M25.1 5.7h0M59.3 25.2h0M13.7 6.1h0M36.0 44.8h0M41.9 48.4h0M38.5 3.4h0M13.6 14.4h0M18.5 20.0h0M3.4 59.5h0M28.6 4.2h0M33.7 19.4h0M9.6 11.9h0M21.7 16.2h0M24.5 33.6h0M57.3 6.7h0M4.0 21.5h0M42.7 9.6h0M5.7 17.5h0M2.8 20.2h0M54.8 51.4h0M8.2 39.8h0M8.3 4.2h0M4.3 3.2h0M24.9 59.8h0M55.5 3.7h0M27.5 15.3h0M10.4 23.8h0M57.7 13.6h0M30.6 50.3h0M49.7 24.2h0M32.1 2.8h0M8.5 37.3h0M26.6 23.0h0M38.1 16.2h0M5.3 47.5h0M30.0 53.5h0M26.7 49.3h0M52.9 33.6h0M28.9 26.6h0M28.3 15.5h0M15.9 12.1h0M42.4 8.1h0M46.5 8.5h0M53.1 6.7h0M31.8 33.4h0M1.8 9.2h0M51.8 37.7h0M45.4 42.5h0M1.7 60.2h0M26.8 34.9h0M6.7 7.0h0M44.4 32.9h0M32.1 28.7h0M34.4 28.1h0M51.2 58.6h0M12.8 8.0h0M35.4 29.0h0M21.8 21.1h0M49.3 1.1h0M19.1 56.8h0M46.3 14.0h0M35.7 52.3h0M11.1 55.1h0M56.3 18.5h0M22.7 44.7h0M46.6 3.2h0M35.3 32.9h0" stroke="#2d428c" stroke-width="1.35" stroke-linecap="round" filter="url(#blur3)"/>
<path d="M58.1 11.2h0M14.5 18.1h0M10.6 22.3h0M15.5 4.5h0M20.8 23.8h0M0.6 35.1h0M11.4 51.1h0M39.8 5.7h0M3.5 40.3h0M53.3 21.3h0M36.7 23.8h0M35.3 11.5h0M10.4 21.3h0M14.0 23.2h0M5.2 23.7h0M25.6 11.6h0M47.1 36.5h0M59.3 2.0h0M29.2 17.7h0M50.0 50.6h0M59.3 25.7h0M26.7 60.1h0M50.1 53.3h0M55.1 30.1h0M5.2 38.2h0M3.8 40.3h0M26.4 26.5h0M57.7 2.8h0M59.6 31.3h0M25.4 49.0h0M45.1 35.8h0M23.4 54.5h0M9.4 25.7h0M56.1 13.7h0M13.3 60.1h0M6.8 46.3h0M30.4 21.0h0M32.5 38.4h0M46.9 35.2h0M32.1 50.1h0M43.8 56.0h0M24.5 9.4h0M15.7 34.0h0M51.8 50.2h0M52.6 58.7h0M32.4 54.0h0M15.4 33.0h0M28.3 6.1h0M28.4 35.3h0M4.8 40.0h0M55.5 4.2h0M21.6 32.5h0M40.9 32.5h0M38.7 41.4h0M7.0 50.7h0M12.5 37.0h0M19.0 15.1h0M27.9 15.0h0M21.2 2.2h0M10.2 60.0h0M1.9 44.7h0M28.4 9.7h0M0.9 0.6h0M59.5 57.4h0M16.3 28.6h0M37.3 53.6h0M3.2 56.9h0M24.6 48.2h0M27.6 35.7h0M21.2 46.7h0M27.7 23.8h0M15.4 26.7h0M53.6 41.7h0M9.0 42.6h0M14.2 35.5h0M2.7 3.6h0M39.7 58.4h0M29.1 52.0h0M38.5 32.9h0M52.5 34.5h0M31.9 12.6h0M57.7 44.8h0M13.5 2.4h0M26.1 26.4h0M44.3 30.9h0M50.6 8.3h0M4.7 30.9h0M57.6 52.3h0M13.5 28.1h0M28.5 50.0h0M39.3 17.1h0M22.9 27.3h0M37.4 19.5h0M20.0 12.5h0M57.6 5.6h0M57.0 37.1h0M46.8 30.7h0M18.9 20.8h0M37.5 26.1h0M44.9 4.1h0M21.2 40.5h0M49.9 41.5h0M6.6 15.5h0M0.1 25.2h0M6.7 54.5h0M55.3 28.4h0M41.2 13.3h0M22.1 5.1h0M41.1 21.4h0M43.6 20.9h0M24.1 38.1h0M32.7 42.2h0M6.5 40.0h0M41.7 57.4h0M18.6 6.0h0M30.2 39.4h0M49.3 3.4h0M33.6 21.6h0M11.1 28.0h0M44.5 29.9h0M4.2 4.0h0M35.1 56.7h0M51.9 39.6h0M11.1 33.1h0M34.4 8.7h0M10.8 59.7h0M5.7 47.9h0M35.3 56.1h0M35.9 11.0h0M1.3 11.3h0M28.7 4.1h0M56.4 2.1h0M28.2 26.8h0M31.8 36.3h0M50.0 47.9h0M40.6 43.6h0M50.5 14.1h0M33.2 39.1h0M18.1 33.0h0M47.2 45.1h0M46.9 40.4h0M14.9 55.8h0M55.9 55.6h0M56.4 46.6h0M12.4 20.2h0M3.7 11.6h0" stroke="#3852aa" stroke-width="1.25" stroke-linecap="round" filter="url(#blur3)"/>
<path d="M25.0 20.9h0M26.7 30.7h0M32.8 2.0h0M47.2 21.5h0M26.4 27.5h0M8.6 2.4h0M51.3 45.0h0M22.9 33.5h0M14.0 18.3h0M15.8 27.4h0" stroke="#122a14" stroke-width="1.35" stroke-linecap="round" opacity="0.55" filter="url(#blur3)"/>
<path d="M2.0 58.9h0M37.2 29.7h0M43.7 10.6h0M21.7 47.8h0M18.4 39.4h0M43.9 41.6h0M2.8 14.7h0M37.4 38.2h0M57.4 34.5h0M20.8 48.4h0" stroke="#1a3a1c" stroke-width="1.35" stroke-linecap="round" opacity="0.55" filter="url(#blur3)"/>
<path d="M51.5 46.2h0M47.6 19.0h0M17.8 41.3h0M27.9 9.7h0M36.6 45.3h0M24.2 48.1h0M30.0 23.5h0M46.3 21.1h0M31.4 32.1h0M40.2 14.4h0" stroke="#214a22" stroke-width="1.35" stroke-linecap="round" opacity="0.55" filter="url(#blur3)"/>
<line x1="47.8" y1="52.5" x2="55.8" y2="52.5" stroke="#ccc" stroke-width="0.5"/>
<text x="51.8" y="57.5" font-size="3.8" text-anchor="middle" fill="#e0e0e0">50 µm</text>
</svg>
<svg x="438.55" y="198" width="60.3" height="60.3" viewBox="0 0 60.3 60.3" overflow="hidden">
<rect width="60.3" height="60.3" fill="#0d1228"/>
<path d="M-2,29 L13,31 L13.5,63 L-2,63 Z" fill="#2d4690" opacity="0.7" filter="url(#blur15)"/>
<path d="M15.5,33 C25,35 38,40 50,46 L58,63 L15.5,63 Z" fill="#2a4288" opacity="0.55" filter="url(#blur15)"/>
<path d="M38.3 11.7h0M36.7 51.1h0M22.6 44.6h0M60.2 25.7h0M25.7 45.2h0M59.8 23.7h0M37.8 34.9h0M56.0 28.0h0M3.3 4.3h0M42.3 13.2h0M59.2 14.1h0M31.3 45.5h0M16.5 14.7h0M1.0 19.4h0M28.0 51.5h0M22.4 49.4h0M9.4 34.0h0M55.4 5.9h0M6.1 23.2h0M42.7 58.4h0M8.8 36.4h0M44.5 19.7h0M45.2 14.7h0M44.6 6.7h0M13.5 11.1h0M49.0 24.1h0M56.3 33.6h0M35.1 21.1h0M6.1 41.2h0M2.1 47.1h0M10.5 53.5h0M23.7 37.3h0M48.9 45.1h0M53.2 56.3h0M22.5 9.3h0M18.5 51.4h0M2.0 55.4h0M49.3 20.5h0M40.3 54.5h0M59.2 1.8h0M9.3 3.5h0M32.5 52.3h0M53.8 31.9h0M59.4 39.9h0M31.4 15.2h0M15.4 12.1h0M58.6 58.3h0M25.3 51.4h0M20.2 28.9h0M13.4 25.4h0M56.8 33.0h0M57.9 2.5h0M53.4 51.3h0M56.1 43.8h0M49.9 38.1h0M39.6 10.9h0M4.3 50.7h0M44.4 24.0h0M4.8 23.0h0M14.8 26.9h0M30.1 54.3h0M16.6 43.5h0M23.7 1.5h0M23.0 6.8h0M23.0 9.0h0M28.7 49.3h0M55.4 12.9h0M29.6 49.6h0M34.3 34.0h0M56.9 33.6h0M55.4 51.8h0M42.3 8.3h0M17.1 9.8h0M27.3 15.3h0M43.2 42.6h0M54.3 39.7h0M55.9 16.2h0M43.8 11.5h0M33.9 36.6h0M9.6 29.2h0M7.7 8.3h0M54.2 48.0h0M5.9 43.5h0M45.9 7.6h0M48.1 49.0h0M40.4 23.5h0M41.1 33.3h0M7.3 46.0h0M6.8 29.0h0M26.2 59.1h0M34.8 53.4h0M29.4 7.3h0M46.9 7.8h0M31.0 44.5h0M35.0 35.2h0M24.5 5.8h0M51.3 32.3h0M24.3 43.2h0M37.9 51.0h0M48.6 20.5h0M48.9 11.8h0M58.3 22.7h0M54.9 49.4h0M3.3 14.6h0M11.5 55.5h0M16.4 10.0h0M14.1 27.3h0M36.9 4.8h0M9.6 32.1h0M49.7 54.1h0M26.3 40.9h0M55.1 15.3h0M3.5 3.3h0M51.8 19.1h0M41.0 46.9h0M21.1 44.3h0M54.2 33.1h0M1.6 40.8h0M10.1 1.3h0M2.2 45.9h0M57.2 47.6h0M2.6 41.1h0M51.0 26.7h0M27.6 25.7h0M49.8 39.7h0M24.5 22.7h0M3.8 29.2h0M30.6 3.7h0M29.8 53.9h0M36.9 37.7h0M22.6 15.6h0M2.6 50.4h0M50.3 11.9h0M4.3 43.8h0M25.1 9.9h0M57.8 9.6h0M0.5 17.0h0M3.3 4.0h0M14.8 26.3h0M37.6 21.5h0M42.7 27.7h0M26.2 58.6h0M2.2 27.6h0M49.6 9.4h0M58.2 19.4h0M52.1 36.1h0M28.9 1.0h0M15.7 9.1h0M59.8 39.8h0M29.8 42.3h0M32.7 13.3h0M14.1 0.8h0M55.8 48.2h0M0.3 6.0h0M56.2 46.9h0M15.2 27.3h0M27.7 54.0h0M43.5 16.4h0M55.3 5.6h0M28.3 9.0h0M43.5 16.3h0M19.7 26.6h0M51.6 44.6h0M24.7 49.6h0M57.9 41.7h0M48.3 29.3h0M48.8 5.8h0M3.6 56.8h0M25.9 1.9h0M37.1 26.3h0M6.8 47.9h0M37.8 27.0h0M11.8 0.5h0M15.4 29.3h0M6.6 1.2h0M39.4 49.6h0M47.1 50.1h0M39.4 9.5h0M30.4 56.8h0M6.4 11.6h0M0.3 41.9h0M36.3 6.9h0M25.0 30.9h0M7.3 40.0h0M12.7 18.4h0M37.9 15.5h0M12.0 34.9h0M50.0 38.2h0M5.1 33.9h0M30.0 44.7h0M7.9 50.4h0M37.9 8.4h0M21.3 58.7h0M38.5 8.9h0M12.1 12.1h0M25.7 52.5h0M28.4 55.9h0M27.6 18.7h0M20.0 6.1h0M23.4 50.1h0M36.3 56.3h0M20.1 59.5h0M3.4 45.5h0M30.7 7.0h0M40.4 0.3h0M32.2 25.0h0M20.4 28.6h0M1.0 11.5h0M21.5 7.1h0M41.4 1.7h0M4.8 13.6h0M28.3 40.5h0M52.5 24.8h0M26.0 56.7h0M17.6 44.6h0M60.3 27.5h0M50.3 51.7h0M54.2 58.9h0M44.7 42.2h0M4.6 42.1h0M51.2 42.4h0M28.0 32.0h0M48.9 5.8h0M23.0 59.2h0M57.0 1.1h0M44.7 53.7h0M8.5 37.2h0M8.5 38.7h0M52.9 22.4h0M60.0 54.6h0M30.6 3.2h0M16.1 45.9h0M26.2 58.8h0M1.0 48.9h0M20.0 59.8h0M40.9 16.3h0M6.0 16.4h0M45.9 49.8h0M17.2 20.1h0M8.8 10.6h0M26.8 14.2h0M48.5 51.7h0M57.1 41.3h0M13.5 3.3h0M17.2 41.8h0M10.1 52.1h0M25.9 55.6h0M30.6 40.6h0M26.0 45.8h0M15.2 56.3h0M15.7 17.8h0M17.5 48.2h0M59.8 43.4h0M46.0 55.8h0M21.8 37.8h0M31.0 47.8h0M10.5 19.1h0M54.8 3.0h0M17.9 19.5h0M52.6 56.8h0M33.7 59.8h0M34.3 56.6h0M24.8 17.8h0M1.5 19.5h0M9.5 49.3h0M38.1 1.6h0M36.1 22.2h0M8.8 52.7h0M1.5 35.2h0M31.1 16.1h0M38.1 17.1h0M54.3 59.0h0M55.7 47.0h0M44.7 2.7h0M6.6 35.1h0M13.6 5.3h0M24.3 49.2h0M22.0 42.8h0M60.0 42.5h0M52.8 58.5h0M5.9 27.7h0M40.0 16.5h0M20.9 5.3h0M40.6 15.6h0M57.3 13.7h0M58.1 5.1h0M29.8 54.8h0M53.6 41.1h0M9.2 6.7h0M17.9 16.7h0M35.5 45.8h0M59.8 40.5h0M19.8 7.1h0M18.9 1.4h0M16.9 59.1h0M31.3 2.6h0M7.4 34.9h0M56.9 49.8h0M5.0 6.1h0M23.1 28.2h0" stroke="#24336c" stroke-width="1.45" stroke-linecap="round" filter="url(#blur3)"/>
<path d="M23.8 1.0h0M41.3 46.0h0M39.6 52.8h0M21.6 2.1h0M59.8 55.5h0M38.4 44.3h0M17.9 48.6h0M4.2 17.3h0M33.3 3.4h0M39.5 48.3h0M54.1 39.7h0M28.2 0.6h0M56.3 54.7h0M14.1 11.5h0M58.6 3.3h0M44.2 12.3h0M16.0 14.4h0M58.8 32.8h0M57.2 29.5h0M30.1 59.0h0M52.4 44.5h0M18.6 52.6h0M22.7 11.6h0M18.5 41.0h0M44.2 46.0h0M24.2 47.7h0M46.8 27.9h0M5.3 54.8h0M4.3 33.4h0M36.7 50.5h0M60.1 46.7h0M46.8 7.4h0M2.2 4.4h0M52.8 38.3h0M59.8 37.2h0M44.8 59.9h0M26.8 55.2h0M29.3 31.2h0M37.5 16.2h0M40.4 31.8h0M51.1 45.6h0M1.7 9.4h0M19.7 34.2h0M10.3 52.5h0M33.4 23.1h0M57.4 28.3h0M43.9 1.4h0M43.5 37.7h0M14.9 24.1h0M3.5 19.9h0M9.7 1.0h0M5.0 0.5h0M2.6 56.4h0M41.5 22.2h0M3.2 46.7h0M13.2 33.1h0M26.9 56.6h0M15.9 52.3h0M52.1 49.2h0M30.0 29.6h0M35.2 52.0h0M4.0 7.6h0M49.4 57.5h0M46.9 19.4h0M15.6 44.9h0M53.0 49.4h0M47.9 55.1h0M0.6 19.4h0M50.5 50.7h0M17.2 28.8h0M35.0 42.2h0M24.9 46.4h0M31.7 11.1h0M37.6 58.4h0M37.7 48.9h0M29.8 16.0h0M4.9 54.1h0M1.1 16.8h0M45.7 4.3h0M49.7 59.4h0M3.0 13.1h0M59.7 20.8h0M39.1 48.8h0M58.5 44.6h0M58.4 12.4h0M19.5 44.6h0M52.6 49.3h0M1.5 57.3h0M60.1 4.2h0M38.4 12.3h0M34.1 8.6h0M22.7 58.2h0M56.4 18.0h0M24.9 51.7h0M51.5 39.8h0M58.6 25.2h0M22.1 9.1h0M32.6 8.2h0M28.2 41.8h0M28.1 40.7h0M51.3 41.5h0M51.0 39.1h0M55.3 18.9h0M46.6 43.4h0M0.6 33.7h0M4.9 37.2h0M26.3 56.8h0M58.1 50.4h0M48.7 13.3h0M4.3 53.0h0M42.8 4.4h0M7.0 41.7h0M19.4 53.1h0M43.1 50.9h0M38.4 58.5h0M3.4 56.3h0M33.7 56.6h0M15.8 21.6h0M8.8 54.2h0M29.0 39.5h0M26.7 36.5h0M22.2 46.6h0M40.1 10.0h0M20.9 46.4h0M19.2 27.4h0M52.9 52.2h0M5.1 39.7h0M43.8 52.6h0M15.5 18.3h0M16.6 19.4h0M17.2 45.0h0M52.6 11.7h0M59.8 7.0h0M18.2 41.8h0M32.0 17.4h0M0.6 40.7h0M31.5 32.9h0M22.9 17.4h0M25.3 29.2h0M26.9 49.5h0M42.8 54.2h0M43.1 49.7h0M6.5 6.2h0M47.8 57.6h0M59.8 42.4h0M16.0 34.9h0M30.5 15.1h0M44.4 45.6h0M11.4 25.9h0M12.1 33.0h0M57.8 4.8h0M22.2 21.6h0M18.8 15.8h0M44.2 46.2h0M1.7 10.2h0M47.2 57.8h0M3.9 20.0h0M56.0 6.4h0M53.2 20.1h0M50.7 32.5h0M52.8 16.0h0M27.9 54.6h0M22.7 57.7h0M37.7 13.2h0M26.5 20.7h0M33.6 30.0h0M33.0 33.2h0M37.7 20.3h0M31.2 10.7h0M41.5 26.5h0M45.5 2.4h0M0.9 6.3h0M58.2 52.9h0M41.5 24.5h0M48.1 43.6h0M33.0 57.1h0M40.1 5.4h0M25.6 23.0h0M6.1 1.2h0M11.4 13.6h0M15.5 51.6h0M57.6 7.3h0M12.0 30.7h0M37.6 47.3h0M4.1 16.4h0M20.2 4.7h0M51.2 5.5h0M13.1 30.3h0M18.2 11.3h0M26.0 42.5h0M23.1 22.5h0M50.7 5.3h0M3.3 38.9h0M47.7 42.1h0M52.7 60.0h0M8.2 48.0h0M57.4 28.7h0M41.6 50.5h0M48.9 39.7h0M8.1 10.1h0M31.5 55.8h0M47.5 27.9h0M56.7 0.6h0M51.5 35.9h0M50.2 15.5h0M8.3 33.6h0M7.3 37.2h0M59.2 26.9h0M4.5 32.7h0M25.4 51.6h0M12.9 48.3h0M0.2 18.3h0M57.3 21.5h0M39.0 58.9h0M56.6 17.1h0M36.4 2.5h0M45.7 38.7h0M6.4 19.9h0M57.9 27.3h0M7.0 18.8h0M15.6 10.8h0M49.3 7.6h0M38.2 17.4h0M10.6 43.5h0M43.1 38.0h0M11.2 36.5h0M38.8 20.3h0M27.7 60.0h0M6.0 40.6h0M1.9 15.1h0M33.5 39.3h0M6.7 32.9h0M53.2 3.0h0M33.9 46.1h0M1.4 59.1h0M13.9 49.8h0M6.6 50.4h0M48.4 36.9h0M4.3 15.0h0M39.8 59.9h0M22.8 26.1h0M41.1 48.4h0M53.1 47.8h0M37.6 50.3h0M13.0 14.3h0M11.8 29.7h0M43.6 0.1h0M20.7 28.9h0M37.4 38.0h0M17.6 35.6h0M15.6 49.2h0M11.5 35.5h0M49.5 2.4h0M3.0 25.5h0M58.3 48.3h0M3.2 33.9h0M13.0 50.5h0M13.8 49.4h0M40.5 21.1h0M26.0 31.1h0M20.6 44.7h0M45.9 12.1h0M45.0 47.9h0M17.0 44.9h0M44.4 27.2h0M36.7 48.5h0M18.5 44.3h0M7.3 16.6h0M19.2 19.5h0M58.2 49.0h0M0.9 29.4h0M4.4 5.9h0M2.5 32.8h0M5.2 5.5h0M38.2 23.0h0M21.8 16.0h0M45.9 47.8h0M54.8 53.7h0M14.0 24.4h0M36.6 42.9h0M48.8 7.2h0M23.3 55.3h0M60.1 49.1h0M7.9 15.1h0M32.0 51.2h0M31.3 59.2h0M54.3 31.0h0M25.3 10.0h0M33.5 43.9h0M54.8 44.0h0M38.1 44.2h0M46.4 0.2h0M16.2 49.7h0M11.2 43.4h0M42.3 43.6h0M54.2 34.4h0M11.6 48.6h0M24.9 51.4h0M34.7 14.2h0M53.5 47.9h0" stroke="#2d428c" stroke-width="1.35" stroke-linecap="round" filter="url(#blur3)"/>
<path d="M49.9 6.5h0M12.5 56.2h0M45.4 55.4h0M7.9 52.0h0M0.3 55.7h0M1.8 10.5h0M9.9 42.0h0M36.6 36.4h0M22.0 21.9h0M13.6 0.3h0M44.1 9.8h0M54.8 17.4h0M56.1 51.4h0M56.2 41.2h0M39.1 20.3h0M34.7 11.5h0M2.5 33.8h0M3.3 28.4h0M57.6 0.9h0M7.2 12.3h0M10.0 12.4h0M17.0 49.7h0M45.3 36.2h0M59.7 16.9h0M18.7 18.2h0M42.1 39.7h0M39.1 26.5h0M25.4 22.9h0M52.4 8.8h0M50.9 36.7h0M3.8 29.1h0M43.5 58.4h0M35.1 55.8h0M1.2 49.7h0M12.3 18.2h0M15.6 22.6h0M24.2 41.0h0M27.8 2.1h0M1.9 56.5h0M10.0 25.8h0M38.9 52.5h0M2.5 58.3h0M47.5 39.6h0M10.2 0.8h0M43.5 42.9h0M23.5 17.5h0M37.2 50.7h0M30.1 33.9h0M18.7 24.1h0M35.4 5.8h0M2.6 21.9h0M45.0 11.5h0M40.1 28.3h0M26.2 41.6h0M42.0 10.9h0M16.4 53.6h0M47.0 24.3h0M22.8 40.3h0M24.1 60.1h0M14.0 12.3h0M28.2 25.1h0M29.9 46.6h0M1.9 41.2h0M34.9 43.6h0M35.3 44.4h0M53.1 10.4h0M12.2 4.7h0M10.3 12.2h0M34.6 19.9h0M6.5 53.5h0M43.8 8.1h0M10.0 42.3h0M48.6 6.6h0M55.0 51.5h0M6.0 33.3h0M41.6 53.3h0M20.1 39.2h0M38.7 12.7h0M50.2 46.2h0M26.1 41.3h0M27.0 41.4h0M53.8 55.1h0M0.6 4.3h0M10.2 58.4h0M46.8 11.0h0M22.7 55.5h0M35.4 8.1h0M0.7 35.1h0M26.6 28.5h0M32.7 15.3h0M36.7 4.6h0M58.7 10.9h0M11.8 58.3h0M25.6 44.5h0M32.1 13.3h0M33.1 4.3h0M42.5 42.3h0M43.7 19.3h0M39.9 9.8h0M39.4 52.0h0M50.3 20.0h0M1.7 55.6h0M11.2 16.7h0M3.4 3.6h0M0.1 21.5h0M37.9 17.5h0M58.1 12.7h0M21.9 6.0h0M48.9 30.5h0M50.8 52.3h0M32.1 37.3h0M23.0 47.8h0M42.2 12.8h0M40.5 7.0h0M17.5 40.2h0M43.6 16.2h0M0.4 25.6h0M8.2 24.0h0M54.2 47.0h0M35.1 56.3h0M54.3 55.9h0M46.7 36.2h0M39.0 20.1h0M55.2 56.2h0M46.3 17.6h0M60.1 34.4h0M46.1 13.8h0M9.2 7.9h0M19.9 15.9h0M12.2 49.0h0M53.6 18.9h0M45.1 30.8h0M37.2 37.5h0M53.9 47.2h0M9.1 0.9h0M36.4 41.5h0M26.9 17.0h0M49.6 37.5h0M22.2 30.6h0M33.2 45.8h0M58.6 35.9h0M33.5 56.4h0M5.3 9.4h0M37.5 4.3h0M12.0 29.2h0M26.9 22.3h0M10.9 34.3h0M19.7 13.9h0M45.4 1.4h0M48.9 16.8h0M5.3 53.9h0M12.3 22.6h0M45.4 3.7h0M34.4 27.6h0M19.0 12.0h0M18.1 52.0h0M30.3 31.8h0M24.3 38.9h0M10.9 20.4h0M40.1 31.2h0M35.9 15.0h0M14.6 6.0h0M8.6 37.9h0M22.2 42.1h0M31.8 51.6h0M48.9 7.0h0M44.1 54.9h0M54.9 41.3h0M58.3 37.4h0M2.8 39.9h0M44.0 12.5h0M18.5 29.7h0M5.6 27.8h0M19.8 55.2h0M38.3 28.5h0M42.0 35.9h0M28.9 8.5h0M36.1 44.6h0M30.9 58.5h0M27.5 2.4h0M40.8 26.0h0M3.1 47.8h0M16.9 49.4h0M25.1 25.2h0M39.7 38.1h0M50.9 42.2h0M11.3 35.7h0M43.0 50.3h0M44.7 52.7h0M7.2 31.8h0M53.5 25.5h0M20.6 54.0h0M13.1 53.9h0M3.2 31.8h0M14.0 13.2h0M58.8 40.0h0M54.3 50.2h0M7.6 27.0h0M21.7 19.2h0M36.5 8.8h0M26.1 39.9h0M33.9 22.7h0M1.6 40.5h0M29.9 13.1h0M7.1 8.5h0M13.6 21.7h0M14.3 7.5h0M53.0 33.5h0M26.8 15.7h0M8.5 24.4h0M51.9 26.1h0M39.0 47.0h0M17.0 6.9h0M9.5 54.9h0M59.1 3.0h0M23.4 54.6h0M3.8 43.0h0M15.0 24.2h0M9.1 53.3h0M20.7 6.1h0M12.8 12.2h0M20.3 59.5h0M16.7 11.9h0M40.4 20.2h0M41.5 35.6h0M0.3 10.9h0M53.6 8.9h0M55.0 3.1h0M57.0 33.9h0M12.7 54.1h0M8.9 53.9h0M15.4 6.0h0M5.9 54.6h0M34.0 25.6h0M10.6 58.9h0M30.0 11.0h0M52.7 46.5h0M40.0 52.8h0M44.5 31.5h0M4.9 54.2h0M17.4 54.4h0M56.7 53.9h0M35.3 38.9h0M39.6 3.4h0M45.8 49.4h0M26.9 59.0h0M5.6 26.9h0M30.7 35.3h0M11.2 25.6h0M31.3 58.9h0M54.2 14.8h0M46.3 15.3h0M10.5 32.8h0M28.2 15.9h0M15.2 7.3h0M17.3 22.4h0M25.7 56.3h0M16.6 50.2h0M20.9 19.5h0M20.1 2.1h0M33.1 46.9h0M42.8 7.3h0M33.2 7.6h0M38.1 49.1h0M45.3 23.8h0M42.3 21.1h0M14.8 12.5h0M32.2 45.7h0M33.8 43.7h0M43.1 6.7h0M7.2 49.0h0M16.0 25.5h0M6.5 46.5h0M54.3 21.3h0M10.1 55.2h0M20.7 0.7h0M59.0 38.3h0M17.5 43.3h0M11.8 46.6h0M26.8 41.4h0M29.9 47.7h0M32.1 57.1h0M52.2 15.9h0M53.6 12.0h0M33.2 34.7h0M20.3 15.2h0M9.1 12.8h0M5.9 29.3h0M31.4 41.8h0M11.1 37.8h0M18.5 33.4h0M35.8 51.4h0M39.8 18.0h0M53.5 60.0h0M58.1 28.9h0M50.5 34.8h0M50.1 46.3h0M2.7 46.3h0M51.4 39.1h0M41.6 3.6h0" stroke="#3852aa" stroke-width="1.25" stroke-linecap="round" filter="url(#blur3)"/>
<line x1="47.8" y1="52.5" x2="55.8" y2="52.5" stroke="#ccc" stroke-width="0.5"/>
<text x="51.8" y="57.5" font-size="3.8" text-anchor="middle" fill="#e0e0e0">50 µm</text>
</svg>
<svg x="438.55" y="260" width="60.3" height="60.3" viewBox="0 0 60.3 60.3" overflow="hidden">
<rect width="60.3" height="60.3" fill="#080d0d"/>
<path d="M-2,33 L12,34 L12.5,63 L-2,63 Z" fill="#2a8a34" opacity="0.18" filter="url(#blur15)"/>
<path d="M15,38 C25,40 36,46 44,52 L48,63 L15,63 Z" fill="#1e6a28" opacity="0.08" filter="url(#blur15)"/>
<path d="M20.9 56.6h0M16.5 40.9h0M29.4 53.3h0M3.2 53.8h0M16.1 44.6h0M5.2 42.5h0M26.7 44.0h0M5.6 49.5h0M7.4 50.5h0M3.6 34.2h0M3.0 46.0h0M2.5 40.3h0M3.3 37.3h0M18.3 40.4h0M40.5 53.1h0M39.2 54.6h0M18.6 55.0h0M3.8 59.5h0M16.4 57.2h0M0.5 43.1h0M5.3 36.2h0M31.6 54.1h0M3.8 41.0h0M5.2 39.2h0M1.9 40.2h0M7.2 51.0h0M6.7 56.5h0M36.4 50.1h0M11.2 53.0h0M31.1 54.0h0M23.2 44.4h0M10.3 55.5h0M36.6 51.9h0M9.9 58.9h0M21.4 51.9h0M1.7 39.5h0M10.7 44.1h0M1.8 48.6h0M27.7 49.9h0M16.8 39.4h0M36.9 59.9h0M6.0 59.2h0M30.9 53.7h0M25.9 45.3h0M3.2 55.3h0M12.0 50.3h0M33.0 60.3h0M1.5 59.7h0M38.5 50.9h0M36.1 54.4h0M9.3 41.5h0M7.0 48.4h0M8.4 49.0h0M18.9 54.0h0M35.4 60.0h0M7.9 57.9h0M15.6 49.7h0M8.7 55.1h0M10.5 40.4h0M20.2 53.4h0M20.0 40.6h0M11.4 55.6h0M18.9 59.8h0M33.9 51.1h0M17.8 45.8h0M8.2 39.8h0M28.6 52.5h0M1.1 54.3h0M8.6 42.5h0M10.9 54.5h0M5.3 57.9h0M31.2 55.5h0M6.8 42.0h0M38.6 57.8h0M6.5 38.1h0M3.2 45.3h0M1.8 45.2h0M32.6 47.9h0M9.9 53.8h0M16.8 39.5h0M45.2 60.1h0M9.1 54.6h0M38.5 53.4h0M12.3 37.5h0M24.8 53.3h0M19.0 48.1h0M10.8 47.9h0M20.4 53.6h0M10.5 45.2h0M0.2 51.3h0M1.6 51.3h0M0.3 44.7h0M6.2 42.8h0M27.1 55.2h0M8.1 57.6h0M22.5 58.9h0M38.4 55.2h0M0.7 39.7h0M4.7 51.6h0M11.5 48.2h0M4.5 44.8h0M31.4 51.9h0M8.6 46.0h0M2.1 58.3h0M11.2 43.5h0M24.9 52.1h0M31.1 58.4h0M23.2 50.4h0M4.8 46.4h0M7.2 42.0h0M12.2 49.4h0M2.1 37.1h0M3.6 35.9h0M3.9 44.2h0M16.6 43.5h0M9.2 54.0h0M10.8 48.3h0M19.2 57.9h0M8.4 39.3h0M22.8 57.3h0M45.2 60.1h0M1.7 58.9h0M38.0 56.8h0M3.5 58.9h0M45.3 60.3h0M15.4 56.4h0M26.0 49.3h0M11.5 55.2h0M24.5 57.0h0M4.6 51.8h0M10.3 56.2h0M38.5 52.0h0M26.0 56.2h0M26.1 49.0h0M6.4 43.7h0M7.9 50.4h0M16.4 57.9h0M4.0 52.6h0M8.8 46.4h0M24.1 48.7h0M7.8 36.1h0M11.7 51.9h0M6.3 55.8h0M6.2 51.2h0M15.3 49.1h0M0.4 42.1h0M20.6 56.3h0M10.2 57.9h0M16.3 43.0h0M47.3 54.4h0M32.0 54.9h0M3.2 44.5h0M5.7 37.7h0M27.3 59.6h0M12.3 43.6h0M25.2 43.3h0M22.6 44.4h0M4.8 51.6h0M0.0 35.6h0M35.4 48.6h0M17.1 48.7h0M1.6 42.2h0M38.8 49.9h0M4.9 58.9h0M7.6 47.5h0M17.8 50.7h0M0.3 53.3h0M16.8 53.5h0M11.9 36.1h0M0.5 40.9h0" stroke="#25692a" stroke-width="1.1" stroke-linecap="round" opacity="0.5" filter="url(#blur3)"/>
<path d="M40.7 10.1h0M48.0 3.8h0M54.5 30.9h0M5.4 20.9h0M42.0 59.0h0M17.0 54.2h0M53.1 3.9h0M36.3 37.4h0M20.2 22.4h0M43.3 49.3h0M8.6 15.5h0M4.9 4.0h0M55.3 15.3h0M8.9 53.8h0M41.0 31.1h0M42.9 0.4h0M49.8 57.6h0M33.7 5.8h0M58.1 1.0h0M47.8 13.8h0M18.0 58.8h0M1.4 30.3h0M45.4 32.7h0M32.6 52.0h0M29.3 7.4h0M26.7 15.9h0M3.1 14.3h0M35.1 52.6h0M22.9 32.8h0M21.3 12.5h0M57.5 3.3h0M34.6 52.1h0M32.2 33.1h0M7.6 14.9h0M10.0 23.4h0M40.1 56.7h0M21.1 45.0h0M35.2 37.7h0M39.7 35.7h0M3.0 9.8h0M26.0 19.8h0M10.6 30.9h0M3.6 0.0h0M15.3 28.6h0M41.7 46.3h0M59.6 37.5h0M50.8 39.3h0M3.6 25.5h0M16.6 27.3h0M11.6 42.9h0M20.9 33.6h0M56.1 12.6h0M32.6 55.1h0M33.2 37.6h0M37.0 27.6h0M20.2 9.7h0M54.1 23.1h0" stroke="#24562a" stroke-width="1.35" stroke-linecap="round" opacity="1.0" filter="url(#blur3)"/>
<path d="M16.3 29.9h0M7.6 46.9h0M48.4 26.3h0M22.8 25.5h0M39.1 51.1h0M39.8 46.2h0M27.8 57.5h0M18.3 53.9h0M12.7 5.1h0M16.4 59.7h0M32.2 25.6h0M2.2 57.9h0M59.9 46.5h0M41.4 15.7h0M7.4 29.1h0M49.7 32.2h0M44.2 47.8h0M59.1 9.6h0M23.5 41.9h0M20.0 38.2h0M3.8 12.0h0M56.8 18.3h0M36.7 16.0h0M54.6 10.6h0M24.0 0.6h0M49.9 22.7h0M10.4 12.7h0M12.7 3.0h0M49.8 54.0h0M10.8 42.0h0M1.4 52.3h0M30.1 48.1h0M49.5 51.9h0M15.5 49.0h0M48.7 50.5h0M44.9 50.3h0M48.0 30.5h0M25.6 41.9h0M31.9 8.1h0M28.1 8.7h0M14.0 35.2h0M40.2 12.5h0M14.3 1.9h0M40.3 52.2h0M31.5 7.6h0M38.1 47.5h0M18.5 6.3h0M10.2 60.1h0M11.1 28.7h0M51.1 17.6h0M34.5 35.1h0M16.3 55.6h0M20.9 44.3h0M34.5 44.4h0M10.3 25.3h0M54.9 33.2h0M7.2 34.7h0" stroke="#327a34" stroke-width="1.35" stroke-linecap="round" opacity="1.0" filter="url(#blur3)"/>
<path d="M21.2 46.5h0M47.0 49.8h0M39.4 22.6h0M40.2 8.8h0M6.7 45.6h0M5.8 4.8h0M60.2 10.3h0M15.9 28.0h0M34.4 32.5h0M40.5 11.7h0M11.4 45.9h0M30.1 8.4h0M0.7 22.7h0M29.9 11.8h0M53.8 7.6h0M27.5 27.6h0M16.1 41.9h0M55.2 15.1h0M27.0 23.6h0M12.4 29.0h0M30.5 56.0h0M57.7 36.5h0M44.4 40.6h0M40.9 0.3h0M49.9 37.8h0M39.2 52.8h0M28.3 5.5h0M38.4 44.8h0M53.6 36.3h0M3.5 16.8h0M25.8 30.1h0M58.2 19.6h0M4.9 20.9h0M9.3 56.3h0M41.6 20.0h0M6.4 51.1h0M2.8 18.3h0M15.2 1.1h0M50.3 27.8h0M33.7 9.8h0M11.4 53.4h0M11.7 32.0h0M36.4 43.4h0M51.0 12.1h0M41.8 37.2h0M12.5 54.5h0M56.5 38.3h0M3.8 53.6h0M21.2 55.1h0M1.4 29.0h0M48.8 23.5h0M59.3 40.7h0M38.5 19.8h0M39.7 58.9h0M23.7 37.6h0M34.1 58.0h0" stroke="#43963f" stroke-width="1.35" stroke-linecap="round" opacity="1.0" filter="url(#blur3)"/>
<line x1="47.8" y1="52.5" x2="55.8" y2="52.5" stroke="#ccc" stroke-width="0.5"/>
<text x="51.8" y="57.5" font-size="3.8" text-anchor="middle" fill="#e0e0e0">50 µm</text>
</svg>
<svg x="438.55" y="321.9" width="60.3" height="60.3" viewBox="0 0 60.3 60.3" overflow="hidden">
<rect width="60.3" height="60.3" fill="#0d1228"/>
<path d="M-2,29 L13,31 L13.5,63 L-2,63 Z" fill="#2d4690" opacity="0.7" filter="url(#blur15)"/>
<path d="M15.5,33 C25,35 38,40 50,46 L58,63 L15.5,63 Z" fill="#2a4288" opacity="0.55" filter="url(#blur15)"/>
<path d="M38.3 11.7h0M36.7 51.1h0M22.6 44.6h0M60.2 25.7h0M25.7 45.2h0M59.8 23.7h0M37.8 34.9h0M56.0 28.0h0M3.3 4.3h0M42.3 13.2h0M59.2 14.1h0M31.3 45.5h0M16.5 14.7h0M1.0 19.4h0M28.0 51.5h0M22.4 49.4h0M9.4 34.0h0M55.4 5.9h0M6.1 23.2h0M42.7 58.4h0M8.8 36.4h0M44.5 19.7h0M45.2 14.7h0M44.6 6.7h0M13.5 11.1h0M49.0 24.1h0M56.3 33.6h0M35.1 21.1h0M6.1 41.2h0M2.1 47.1h0M10.5 53.5h0M23.7 37.3h0M48.9 45.1h0M53.2 56.3h0M22.5 9.3h0M18.5 51.4h0M2.0 55.4h0M49.3 20.5h0M40.3 54.5h0M59.2 1.8h0M9.3 3.5h0M32.5 52.3h0M53.8 31.9h0M59.4 39.9h0M31.4 15.2h0M15.4 12.1h0M58.6 58.3h0M25.3 51.4h0M20.2 28.9h0M13.4 25.4h0M56.8 33.0h0M57.9 2.5h0M53.4 51.3h0M56.1 43.8h0M49.9 38.1h0M39.6 10.9h0M4.3 50.7h0M44.4 24.0h0M4.8 23.0h0M14.8 26.9h0M30.1 54.3h0M16.6 43.5h0M23.7 1.5h0M23.0 6.8h0M23.0 9.0h0M28.7 49.3h0M55.4 12.9h0M29.6 49.6h0M34.3 34.0h0M56.9 33.6h0M55.4 51.8h0M42.3 8.3h0M17.1 9.8h0M27.3 15.3h0M43.2 42.6h0M54.3 39.7h0M55.9 16.2h0M43.8 11.5h0M33.9 36.6h0M9.6 29.2h0M7.7 8.3h0M54.2 48.0h0M5.9 43.5h0M45.9 7.6h0M48.1 49.0h0M40.4 23.5h0M41.1 33.3h0M7.3 46.0h0M6.8 29.0h0M26.2 59.1h0M34.8 53.4h0M29.4 7.3h0M46.9 7.8h0M31.0 44.5h0M35.0 35.2h0M24.5 5.8h0M51.3 32.3h0M24.3 43.2h0M37.9 51.0h0M48.6 20.5h0M48.9 11.8h0M58.3 22.7h0M54.9 49.4h0M3.3 14.6h0M11.5 55.5h0M16.4 10.0h0M14.1 27.3h0M36.9 4.8h0M9.6 32.1h0M49.7 54.1h0M26.3 40.9h0M55.1 15.3h0M3.5 3.3h0M51.8 19.1h0M41.0 46.9h0M21.1 44.3h0M54.2 33.1h0M1.6 40.8h0M10.1 1.3h0M2.2 45.9h0M57.2 47.6h0M2.6 41.1h0M51.0 26.7h0M27.6 25.7h0M49.8 39.7h0M24.5 22.7h0M3.8 29.2h0M30.6 3.7h0M29.8 53.9h0M36.9 37.7h0M22.6 15.6h0M2.6 50.4h0M50.3 11.9h0M4.3 43.8h0M25.1 9.9h0M57.8 9.6h0M0.5 17.0h0M3.3 4.0h0M14.8 26.3h0M37.6 21.5h0M42.7 27.7h0M26.2 58.6h0M2.2 27.6h0M49.6 9.4h0M58.2 19.4h0M52.1 36.1h0M28.9 1.0h0M15.7 9.1h0M59.8 39.8h0M29.8 42.3h0M32.7 13.3h0M14.1 0.8h0M55.8 48.2h0M0.3 6.0h0M56.2 46.9h0M15.2 27.3h0M27.7 54.0h0M43.5 16.4h0M55.3 5.6h0M28.3 9.0h0M43.5 16.3h0M19.7 26.6h0M51.6 44.6h0M24.7 49.6h0M57.9 41.7h0M48.3 29.3h0M48.8 5.8h0M3.6 56.8h0M25.9 1.9h0M37.1 26.3h0M6.8 47.9h0M37.8 27.0h0M11.8 0.5h0M15.4 29.3h0M6.6 1.2h0M39.4 49.6h0M47.1 50.1h0M39.4 9.5h0M30.4 56.8h0M6.4 11.6h0M0.3 41.9h0M36.3 6.9h0M25.0 30.9h0M7.3 40.0h0M12.7 18.4h0M37.9 15.5h0M12.0 34.9h0M50.0 38.2h0M5.1 33.9h0M30.0 44.7h0M7.9 50.4h0M37.9 8.4h0M21.3 58.7h0M38.5 8.9h0M12.1 12.1h0M25.7 52.5h0M28.4 55.9h0M27.6 18.7h0M20.0 6.1h0M23.4 50.1h0M36.3 56.3h0M20.1 59.5h0M3.4 45.5h0M30.7 7.0h0M40.4 0.3h0M32.2 25.0h0M20.4 28.6h0M1.0 11.5h0M21.5 7.1h0M41.4 1.7h0M4.8 13.6h0M28.3 40.5h0M52.5 24.8h0M26.0 56.7h0M17.6 44.6h0M60.3 27.5h0M50.3 51.7h0M54.2 58.9h0M44.7 42.2h0M4.6 42.1h0M51.2 42.4h0M28.0 32.0h0M48.9 5.8h0M23.0 59.2h0M57.0 1.1h0M44.7 53.7h0M8.5 37.2h0M8.5 38.7h0M52.9 22.4h0M60.0 54.6h0M30.6 3.2h0M16.1 45.9h0M26.2 58.8h0M1.0 48.9h0M20.0 59.8h0M40.9 16.3h0M6.0 16.4h0M45.9 49.8h0M17.2 20.1h0M8.8 10.6h0M26.8 14.2h0M48.5 51.7h0M57.1 41.3h0M13.5 3.3h0M17.2 41.8h0M10.1 52.1h0M25.9 55.6h0M30.6 40.6h0M26.0 45.8h0M15.2 56.3h0M15.7 17.8h0M17.5 48.2h0M59.8 43.4h0M46.0 55.8h0M21.8 37.8h0M31.0 47.8h0M10.5 19.1h0M54.8 3.0h0M17.9 19.5h0M52.6 56.8h0M33.7 59.8h0M34.3 56.6h0M24.8 17.8h0M1.5 19.5h0M9.5 49.3h0M38.1 1.6h0M36.1 22.2h0M8.8 52.7h0M1.5 35.2h0M31.1 16.1h0M38.1 17.1h0M54.3 59.0h0M55.7 47.0h0M44.7 2.7h0M6.6 35.1h0M13.6 5.3h0M24.3 49.2h0M22.0 42.8h0M60.0 42.5h0M52.8 58.5h0M5.9 27.7h0M40.0 16.5h0M20.9 5.3h0M40.6 15.6h0M57.3 13.7h0M58.1 5.1h0M29.8 54.8h0M53.6 41.1h0M9.2 6.7h0M17.9 16.7h0M35.5 45.8h0M59.8 40.5h0M19.8 7.1h0M18.9 1.4h0M16.9 59.1h0M31.3 2.6h0M7.4 34.9h0M56.9 49.8h0M5.0 6.1h0M23.1 28.2h0" stroke="#24336c" stroke-width="1.45" stroke-linecap="round" filter="url(#blur3)"/>
<path d="M23.8 1.0h0M41.3 46.0h0M39.6 52.8h0M21.6 2.1h0M59.8 55.5h0M38.4 44.3h0M17.9 48.6h0M4.2 17.3h0M33.3 3.4h0M39.5 48.3h0M54.1 39.7h0M28.2 0.6h0M56.3 54.7h0M14.1 11.5h0M58.6 3.3h0M44.2 12.3h0M16.0 14.4h0M58.8 32.8h0M57.2 29.5h0M30.1 59.0h0M52.4 44.5h0M18.6 52.6h0M22.7 11.6h0M18.5 41.0h0M44.2 46.0h0M24.2 47.7h0M46.8 27.9h0M5.3 54.8h0M4.3 33.4h0M36.7 50.5h0M60.1 46.7h0M46.8 7.4h0M2.2 4.4h0M52.8 38.3h0M59.8 37.2h0M44.8 59.9h0M26.8 55.2h0M29.3 31.2h0M37.5 16.2h0M40.4 31.8h0M51.1 45.6h0M1.7 9.4h0M19.7 34.2h0M10.3 52.5h0M33.4 23.1h0M57.4 28.3h0M43.9 1.4h0M43.5 37.7h0M14.9 24.1h0M3.5 19.9h0M9.7 1.0h0M5.0 0.5h0M2.6 56.4h0M41.5 22.2h0M3.2 46.7h0M13.2 33.1h0M26.9 56.6h0M15.9 52.3h0M52.1 49.2h0M30.0 29.6h0M35.2 52.0h0M4.0 7.6h0M49.4 57.5h0M46.9 19.4h0M15.6 44.9h0M53.0 49.4h0M47.9 55.1h0M0.6 19.4h0M50.5 50.7h0M17.2 28.8h0M35.0 42.2h0M24.9 46.4h0M31.7 11.1h0M37.6 58.4h0M37.7 48.9h0M29.8 16.0h0M4.9 54.1h0M1.1 16.8h0M45.7 4.3h0M49.7 59.4h0M3.0 13.1h0M59.7 20.8h0M39.1 48.8h0M58.5 44.6h0M58.4 12.4h0M19.5 44.6h0M52.6 49.3h0M1.5 57.3h0M60.1 4.2h0M38.4 12.3h0M34.1 8.6h0M22.7 58.2h0M56.4 18.0h0M24.9 51.7h0M51.5 39.8h0M58.6 25.2h0M22.1 9.1h0M32.6 8.2h0M28.2 41.8h0M28.1 40.7h0M51.3 41.5h0M51.0 39.1h0M55.3 18.9h0M46.6 43.4h0M0.6 33.7h0M4.9 37.2h0M26.3 56.8h0M58.1 50.4h0M48.7 13.3h0M4.3 53.0h0M42.8 4.4h0M7.0 41.7h0M19.4 53.1h0M43.1 50.9h0M38.4 58.5h0M3.4 56.3h0M33.7 56.6h0M15.8 21.6h0M8.8 54.2h0M29.0 39.5h0M26.7 36.5h0M22.2 46.6h0M40.1 10.0h0M20.9 46.4h0M19.2 27.4h0M52.9 52.2h0M5.1 39.7h0M43.8 52.6h0M15.5 18.3h0M16.6 19.4h0M17.2 45.0h0M52.6 11.7h0M59.8 7.0h0M18.2 41.8h0M32.0 17.4h0M0.6 40.7h0M31.5 32.9h0M22.9 17.4h0M25.3 29.2h0M26.9 49.5h0M42.8 54.2h0M43.1 49.7h0M6.5 6.2h0M47.8 57.6h0M59.8 42.4h0M16.0 34.9h0M30.5 15.1h0M44.4 45.6h0M11.4 25.9h0M12.1 33.0h0M57.8 4.8h0M22.2 21.6h0M18.8 15.8h0M44.2 46.2h0M1.7 10.2h0M47.2 57.8h0M3.9 20.0h0M56.0 6.4h0M53.2 20.1h0M50.7 32.5h0M52.8 16.0h0M27.9 54.6h0M22.7 57.7h0M37.7 13.2h0M26.5 20.7h0M33.6 30.0h0M33.0 33.2h0M37.7 20.3h0M31.2 10.7h0M41.5 26.5h0M45.5 2.4h0M0.9 6.3h0M58.2 52.9h0M41.5 24.5h0M48.1 43.6h0M33.0 57.1h0M40.1 5.4h0M25.6 23.0h0M6.1 1.2h0M11.4 13.6h0M15.5 51.6h0M57.6 7.3h0M12.0 30.7h0M37.6 47.3h0M4.1 16.4h0M20.2 4.7h0M51.2 5.5h0M13.1 30.3h0M18.2 11.3h0M26.0 42.5h0M23.1 22.5h0M50.7 5.3h0M3.3 38.9h0M47.7 42.1h0M52.7 60.0h0M8.2 48.0h0M57.4 28.7h0M41.6 50.5h0M48.9 39.7h0M8.1 10.1h0M31.5 55.8h0M47.5 27.9h0M56.7 0.6h0M51.5 35.9h0M50.2 15.5h0M8.3 33.6h0M7.3 37.2h0M59.2 26.9h0M4.5 32.7h0M25.4 51.6h0M12.9 48.3h0M0.2 18.3h0M57.3 21.5h0M39.0 58.9h0M56.6 17.1h0M36.4 2.5h0M45.7 38.7h0M6.4 19.9h0M57.9 27.3h0M7.0 18.8h0M15.6 10.8h0M49.3 7.6h0M38.2 17.4h0M10.6 43.5h0M43.1 38.0h0M11.2 36.5h0M38.8 20.3h0M27.7 60.0h0M6.0 40.6h0M1.9 15.1h0M33.5 39.3h0M6.7 32.9h0M53.2 3.0h0M33.9 46.1h0M1.4 59.1h0M13.9 49.8h0M6.6 50.4h0M48.4 36.9h0M4.3 15.0h0M39.8 59.9h0M22.8 26.1h0M41.1 48.4h0M53.1 47.8h0M37.6 50.3h0M13.0 14.3h0M11.8 29.7h0M43.6 0.1h0M20.7 28.9h0M37.4 38.0h0M17.6 35.6h0M15.6 49.2h0M11.5 35.5h0M49.5 2.4h0M3.0 25.5h0M58.3 48.3h0M3.2 33.9h0M13.0 50.5h0M13.8 49.4h0M40.5 21.1h0M26.0 31.1h0M20.6 44.7h0M45.9 12.1h0M45.0 47.9h0M17.0 44.9h0M44.4 27.2h0M36.7 48.5h0M18.5 44.3h0M7.3 16.6h0M19.2 19.5h0M58.2 49.0h0M0.9 29.4h0M4.4 5.9h0M2.5 32.8h0M5.2 5.5h0M38.2 23.0h0M21.8 16.0h0M45.9 47.8h0M54.8 53.7h0M14.0 24.4h0M36.6 42.9h0M48.8 7.2h0M23.3 55.3h0M60.1 49.1h0M7.9 15.1h0M32.0 51.2h0M31.3 59.2h0M54.3 31.0h0M25.3 10.0h0M33.5 43.9h0M54.8 44.0h0M38.1 44.2h0M46.4 0.2h0M16.2 49.7h0M11.2 43.4h0M42.3 43.6h0M54.2 34.4h0M11.6 48.6h0M24.9 51.4h0M34.7 14.2h0M53.5 47.9h0" stroke="#2d428c" stroke-width="1.35" stroke-linecap="round" filter="url(#blur3)"/>
<path d="M49.9 6.5h0M12.5 56.2h0M45.4 55.4h0M7.9 52.0h0M0.3 55.7h0M1.8 10.5h0M9.9 42.0h0M36.6 36.4h0M22.0 21.9h0M13.6 0.3h0M44.1 9.8h0M54.8 17.4h0M56.1 51.4h0M56.2 41.2h0M39.1 20.3h0M34.7 11.5h0M2.5 33.8h0M3.3 28.4h0M57.6 0.9h0M7.2 12.3h0M10.0 12.4h0M17.0 49.7h0M45.3 36.2h0M59.7 16.9h0M18.7 18.2h0M42.1 39.7h0M39.1 26.5h0M25.4 22.9h0M52.4 8.8h0M50.9 36.7h0M3.8 29.1h0M43.5 58.4h0M35.1 55.8h0M1.2 49.7h0M12.3 18.2h0M15.6 22.6h0M24.2 41.0h0M27.8 2.1h0M1.9 56.5h0M10.0 25.8h0M38.9 52.5h0M2.5 58.3h0M47.5 39.6h0M10.2 0.8h0M43.5 42.9h0M23.5 17.5h0M37.2 50.7h0M30.1 33.9h0M18.7 24.1h0M35.4 5.8h0M2.6 21.9h0M45.0 11.5h0M40.1 28.3h0M26.2 41.6h0M42.0 10.9h0M16.4 53.6h0M47.0 24.3h0M22.8 40.3h0M24.1 60.1h0M14.0 12.3h0M28.2 25.1h0M29.9 46.6h0M1.9 41.2h0M34.9 43.6h0M35.3 44.4h0M53.1 10.4h0M12.2 4.7h0M10.3 12.2h0M34.6 19.9h0M6.5 53.5h0M43.8 8.1h0M10.0 42.3h0M48.6 6.6h0M55.0 51.5h0M6.0 33.3h0M41.6 53.3h0M20.1 39.2h0M38.7 12.7h0M50.2 46.2h0M26.1 41.3h0M27.0 41.4h0M53.8 55.1h0M0.6 4.3h0M10.2 58.4h0M46.8 11.0h0M22.7 55.5h0M35.4 8.1h0M0.7 35.1h0M26.6 28.5h0M32.7 15.3h0M36.7 4.6h0M58.7 10.9h0M11.8 58.3h0M25.6 44.5h0M32.1 13.3h0M33.1 4.3h0M42.5 42.3h0M43.7 19.3h0M39.9 9.8h0M39.4 52.0h0M50.3 20.0h0M1.7 55.6h0M11.2 16.7h0M3.4 3.6h0M0.1 21.5h0M37.9 17.5h0M58.1 12.7h0M21.9 6.0h0M48.9 30.5h0M50.8 52.3h0M32.1 37.3h0M23.0 47.8h0M42.2 12.8h0M40.5 7.0h0M17.5 40.2h0M43.6 16.2h0M0.4 25.6h0M8.2 24.0h0M54.2 47.0h0M35.1 56.3h0M54.3 55.9h0M46.7 36.2h0M39.0 20.1h0M55.2 56.2h0M46.3 17.6h0M60.1 34.4h0M46.1 13.8h0M9.2 7.9h0M19.9 15.9h0M12.2 49.0h0M53.6 18.9h0M45.1 30.8h0M37.2 37.5h0M53.9 47.2h0M9.1 0.9h0M36.4 41.5h0M26.9 17.0h0M49.6 37.5h0M22.2 30.6h0M33.2 45.8h0M58.6 35.9h0M33.5 56.4h0M5.3 9.4h0M37.5 4.3h0M12.0 29.2h0M26.9 22.3h0M10.9 34.3h0M19.7 13.9h0M45.4 1.4h0M48.9 16.8h0M5.3 53.9h0M12.3 22.6h0M45.4 3.7h0M34.4 27.6h0M19.0 12.0h0M18.1 52.0h0M30.3 31.8h0M24.3 38.9h0M10.9 20.4h0M40.1 31.2h0M35.9 15.0h0M14.6 6.0h0M8.6 37.9h0M22.2 42.1h0M31.8 51.6h0M48.9 7.0h0M44.1 54.9h0M54.9 41.3h0M58.3 37.4h0M2.8 39.9h0M44.0 12.5h0M18.5 29.7h0M5.6 27.8h0M19.8 55.2h0M38.3 28.5h0M42.0 35.9h0M28.9 8.5h0M36.1 44.6h0M30.9 58.5h0M27.5 2.4h0M40.8 26.0h0M3.1 47.8h0M16.9 49.4h0M25.1 25.2h0M39.7 38.1h0M50.9 42.2h0M11.3 35.7h0M43.0 50.3h0M44.7 52.7h0M7.2 31.8h0M53.5 25.5h0M20.6 54.0h0M13.1 53.9h0M3.2 31.8h0M14.0 13.2h0M58.8 40.0h0M54.3 50.2h0M7.6 27.0h0M21.7 19.2h0M36.5 8.8h0M26.1 39.9h0M33.9 22.7h0M1.6 40.5h0M29.9 13.1h0M7.1 8.5h0M13.6 21.7h0M14.3 7.5h0M53.0 33.5h0M26.8 15.7h0M8.5 24.4h0M51.9 26.1h0M39.0 47.0h0M17.0 6.9h0M9.5 54.9h0M59.1 3.0h0M23.4 54.6h0M3.8 43.0h0M15.0 24.2h0M9.1 53.3h0M20.7 6.1h0M12.8 12.2h0M20.3 59.5h0M16.7 11.9h0M40.4 20.2h0M41.5 35.6h0M0.3 10.9h0M53.6 8.9h0M55.0 3.1h0M57.0 33.9h0M12.7 54.1h0M8.9 53.9h0M15.4 6.0h0M5.9 54.6h0M34.0 25.6h0M10.6 58.9h0M30.0 11.0h0M52.7 46.5h0M40.0 52.8h0M44.5 31.5h0M4.9 54.2h0M17.4 54.4h0M56.7 53.9h0M35.3 38.9h0M39.6 3.4h0M45.8 49.4h0M26.9 59.0h0M5.6 26.9h0M30.7 35.3h0M11.2 25.6h0M31.3 58.9h0M54.2 14.8h0M46.3 15.3h0M10.5 32.8h0M28.2 15.9h0M15.2 7.3h0M17.3 22.4h0M25.7 56.3h0M16.6 50.2h0M20.9 19.5h0M20.1 2.1h0M33.1 46.9h0M42.8 7.3h0M33.2 7.6h0M38.1 49.1h0M45.3 23.8h0M42.3 21.1h0M14.8 12.5h0M32.2 45.7h0M33.8 43.7h0M43.1 6.7h0M7.2 49.0h0M16.0 25.5h0M6.5 46.5h0M54.3 21.3h0M10.1 55.2h0M20.7 0.7h0M59.0 38.3h0M17.5 43.3h0M11.8 46.6h0M26.8 41.4h0M29.9 47.7h0M32.1 57.1h0M52.2 15.9h0M53.6 12.0h0M33.2 34.7h0M20.3 15.2h0M9.1 12.8h0M5.9 29.3h0M31.4 41.8h0M11.1 37.8h0M18.5 33.4h0M35.8 51.4h0M39.8 18.0h0M53.5 60.0h0M58.1 28.9h0M50.5 34.8h0M50.1 46.3h0M2.7 46.3h0M51.4 39.1h0M41.6 3.6h0" stroke="#3852aa" stroke-width="1.25" stroke-linecap="round" filter="url(#blur3)"/>
<path d="M-2,33 L12,34 L12.5,63 L-2,63 Z" fill="#2a8a34" opacity="0.3" filter="url(#blur15)"/>
<path d="M15,38 C25,40 36,46 44,52 L48,63 L15,63 Z" fill="#1e6a28" opacity="0.18" filter="url(#blur15)"/>
<path d="M20.9 56.6h0M16.5 40.9h0M29.4 53.3h0M3.2 53.8h0M16.1 44.6h0M5.2 42.5h0M26.7 44.0h0M5.6 49.5h0M7.4 50.5h0M3.6 34.2h0M3.0 46.0h0M2.5 40.3h0M3.3 37.3h0M18.3 40.4h0M40.5 53.1h0M39.2 54.6h0M18.6 55.0h0M3.8 59.5h0M16.4 57.2h0M0.5 43.1h0M5.3 36.2h0M31.6 54.1h0M3.8 41.0h0M5.2 39.2h0M1.9 40.2h0M7.2 51.0h0M6.7 56.5h0M36.4 50.1h0M11.2 53.0h0M31.1 54.0h0M23.2 44.4h0M10.3 55.5h0M36.6 51.9h0M9.9 58.9h0M21.4 51.9h0M1.7 39.5h0M10.7 44.1h0M1.8 48.6h0M27.7 49.9h0M16.8 39.4h0M36.9 59.9h0M6.0 59.2h0M30.9 53.7h0M25.9 45.3h0M3.2 55.3h0M12.0 50.3h0M33.0 60.3h0M1.5 59.7h0M38.5 50.9h0M36.1 54.4h0M9.3 41.5h0M7.0 48.4h0M8.4 49.0h0M18.9 54.0h0M35.4 60.0h0M7.9 57.9h0M15.6 49.7h0M8.7 55.1h0M10.5 40.4h0M20.2 53.4h0M20.0 40.6h0M11.4 55.6h0M18.9 59.8h0M33.9 51.1h0M17.8 45.8h0M8.2 39.8h0M28.6 52.5h0M1.1 54.3h0M8.6 42.5h0M10.9 54.5h0M5.3 57.9h0M31.2 55.5h0M6.8 42.0h0M38.6 57.8h0M6.5 38.1h0M3.2 45.3h0M1.8 45.2h0M32.6 47.9h0M9.9 53.8h0M16.8 39.5h0M45.2 60.1h0M9.1 54.6h0M38.5 53.4h0M12.3 37.5h0M24.8 53.3h0M19.0 48.1h0M10.8 47.9h0M20.4 53.6h0M10.5 45.2h0M0.2 51.3h0M1.6 51.3h0M0.3 44.7h0M6.2 42.8h0M27.1 55.2h0M8.1 57.6h0M22.5 58.9h0M38.4 55.2h0M0.7 39.7h0M4.7 51.6h0M11.5 48.2h0M4.5 44.8h0M31.4 51.9h0M8.6 46.0h0M2.1 58.3h0M11.2 43.5h0M24.9 52.1h0M31.1 58.4h0M23.2 50.4h0M4.8 46.4h0M7.2 42.0h0M12.2 49.4h0M2.1 37.1h0M3.6 35.9h0M3.9 44.2h0M16.6 43.5h0M9.2 54.0h0M10.8 48.3h0M19.2 57.9h0M8.4 39.3h0M22.8 57.3h0M45.2 60.1h0M1.7 58.9h0M38.0 56.8h0M3.5 58.9h0M45.3 60.3h0M15.4 56.4h0M26.0 49.3h0M11.5 55.2h0M24.5 57.0h0M4.6 51.8h0M10.3 56.2h0M38.5 52.0h0M26.0 56.2h0M26.1 49.0h0M6.4 43.7h0M7.9 50.4h0M16.4 57.9h0M4.0 52.6h0M8.8 46.4h0M24.1 48.7h0M7.8 36.1h0M11.7 51.9h0M6.3 55.8h0M6.2 51.2h0M15.3 49.1h0M0.4 42.1h0M20.6 56.3h0M10.2 57.9h0M16.3 43.0h0M47.3 54.4h0M32.0 54.9h0M3.2 44.5h0M5.7 37.7h0M27.3 59.6h0M12.3 43.6h0M25.2 43.3h0M22.6 44.4h0M4.8 51.6h0M0.0 35.6h0M35.4 48.6h0M17.1 48.7h0M1.6 42.2h0M38.8 49.9h0M4.9 58.9h0M7.6 47.5h0M17.8 50.7h0M0.3 53.3h0M16.8 53.5h0M11.9 36.1h0M0.5 40.9h0" stroke="#25692a" stroke-width="1.1" stroke-linecap="round" opacity="0.45" filter="url(#blur3)"/>
<path d="M40.7 10.1h0M48.0 3.8h0M54.5 30.9h0M5.4 20.9h0M42.0 59.0h0M17.0 54.2h0M53.1 3.9h0M36.3 37.4h0M20.2 22.4h0M43.3 49.3h0M8.6 15.5h0M4.9 4.0h0M55.3 15.3h0M8.9 53.8h0M41.0 31.1h0M42.9 0.4h0M49.8 57.6h0M33.7 5.8h0M58.1 1.0h0M47.8 13.8h0M18.0 58.8h0M1.4 30.3h0M45.4 32.7h0M32.6 52.0h0M29.3 7.4h0M26.7 15.9h0M3.1 14.3h0M35.1 52.6h0M22.9 32.8h0M21.3 12.5h0M57.5 3.3h0M34.6 52.1h0M32.2 33.1h0M7.6 14.9h0M10.0 23.4h0M40.1 56.7h0M21.1 45.0h0M35.2 37.7h0M39.7 35.7h0M3.0 9.8h0M26.0 19.8h0M10.6 30.9h0M3.6 0.0h0M15.3 28.6h0M41.7 46.3h0M59.6 37.5h0M50.8 39.3h0M3.6 25.5h0M16.6 27.3h0M11.6 42.9h0M20.9 33.6h0M56.1 12.6h0M32.6 55.1h0M33.2 37.6h0M37.0 27.6h0M20.2 9.7h0M54.1 23.1h0" stroke="#24562a" stroke-width="1.35" stroke-linecap="round" opacity="0.85" filter="url(#blur3)"/>
<path d="M16.3 29.9h0M7.6 46.9h0M48.4 26.3h0M22.8 25.5h0M39.1 51.1h0M39.8 46.2h0M27.8 57.5h0M18.3 53.9h0M12.7 5.1h0M16.4 59.7h0M32.2 25.6h0M2.2 57.9h0M59.9 46.5h0M41.4 15.7h0M7.4 29.1h0M49.7 32.2h0M44.2 47.8h0M59.1 9.6h0M23.5 41.9h0M20.0 38.2h0M3.8 12.0h0M56.8 18.3h0M36.7 16.0h0M54.6 10.6h0M24.0 0.6h0M49.9 22.7h0M10.4 12.7h0M12.7 3.0h0M49.8 54.0h0M10.8 42.0h0M1.4 52.3h0M30.1 48.1h0M49.5 51.9h0M15.5 49.0h0M48.7 50.5h0M44.9 50.3h0M48.0 30.5h0M25.6 41.9h0M31.9 8.1h0M28.1 8.7h0M14.0 35.2h0M40.2 12.5h0M14.3 1.9h0M40.3 52.2h0M31.5 7.6h0M38.1 47.5h0M18.5 6.3h0M10.2 60.1h0M11.1 28.7h0M51.1 17.6h0M34.5 35.1h0M16.3 55.6h0M20.9 44.3h0M34.5 44.4h0M10.3 25.3h0M54.9 33.2h0M7.2 34.7h0" stroke="#327a34" stroke-width="1.35" stroke-linecap="round" opacity="0.85" filter="url(#blur3)"/>
<path d="M21.2 46.5h0M47.0 49.8h0M39.4 22.6h0M40.2 8.8h0M6.7 45.6h0M5.8 4.8h0M60.2 10.3h0M15.9 28.0h0M34.4 32.5h0M40.5 11.7h0M11.4 45.9h0M30.1 8.4h0M0.7 22.7h0M29.9 11.8h0M53.8 7.6h0M27.5 27.6h0M16.1 41.9h0M55.2 15.1h0M27.0 23.6h0M12.4 29.0h0M30.5 56.0h0M57.7 36.5h0M44.4 40.6h0M40.9 0.3h0M49.9 37.8h0M39.2 52.8h0M28.3 5.5h0M38.4 44.8h0M53.6 36.3h0M3.5 16.8h0M25.8 30.1h0M58.2 19.6h0M4.9 20.9h0M9.3 56.3h0M41.6 20.0h0M6.4 51.1h0M2.8 18.3h0M15.2 1.1h0M50.3 27.8h0M33.7 9.8h0M11.4 53.4h0M11.7 32.0h0M36.4 43.4h0M51.0 12.1h0M41.8 37.2h0M12.5 54.5h0M56.5 38.3h0M3.8 53.6h0M21.2 55.1h0M1.4 29.0h0M48.8 23.5h0M59.3 40.7h0M38.5 19.8h0M39.7 58.9h0M23.7 37.6h0M34.1 58.0h0" stroke="#43963f" stroke-width="1.35" stroke-linecap="round" opacity="0.85" filter="url(#blur3)"/>
<line x1="47.8" y1="52.5" x2="55.8" y2="52.5" stroke="#ccc" stroke-width="0.5"/>
<text x="51.8" y="57.5" font-size="3.8" text-anchor="middle" fill="#e0e0e0">50 µm</text>
</svg>
<svg x="500.3" y="198" width="60.3" height="60.3" viewBox="0 0 60.3 60.3" overflow="hidden">
<rect width="60.3" height="60.3" fill="#0c1022"/>
<path d="M44.1 52.1h0M3.8 27.5h0M21.0 15.7h0M25.2 47.2h0M57.5 39.5h0M32.2 57.5h0M17.0 48.7h0M51.3 44.2h0M59.9 57.0h0M25.9 54.0h0M39.7 11.1h0M2.1 51.0h0M17.2 22.2h0M19.8 36.5h0M59.8 20.1h0M59.0 58.5h0M57.2 14.8h0M13.0 47.4h0M50.1 59.8h0M59.7 55.2h0M52.4 1.5h0M27.4 42.1h0M28.2 46.6h0M48.5 0.6h0M40.0 40.0h0M51.6 42.3h0M20.6 46.7h0M4.9 29.1h0M56.7 28.2h0M58.8 12.8h0M20.3 36.5h0M46.6 46.9h0M6.8 19.7h0M21.7 28.3h0M30.6 54.8h0M4.5 58.1h0M42.1 13.8h0M41.3 26.7h0M11.0 26.1h0M29.8 14.3h0M7.9 13.7h0M55.7 52.7h0M36.2 58.5h0M16.3 17.4h0M40.3 30.5h0M36.3 56.4h0M40.3 13.3h0M21.7 4.3h0M34.3 8.2h0M47.0 54.5h0M4.8 34.9h0M27.4 13.1h0M37.4 0.6h0M14.1 25.7h0M59.7 55.6h0M39.9 26.6h0M46.1 52.6h0M8.6 58.6h0M13.6 25.6h0M53.7 33.0h0M34.5 24.1h0M9.7 41.5h0M13.5 12.5h0M7.8 15.6h0M38.4 23.6h0M28.5 57.1h0M37.4 46.0h0M45.4 48.8h0M33.4 51.7h0M24.5 11.7h0M48.2 9.8h0M9.6 7.7h0M30.5 7.2h0M54.5 15.8h0M46.3 16.4h0M37.9 50.1h0M18.6 59.5h0M36.4 50.0h0M12.4 13.5h0M52.6 49.5h0M29.6 51.9h0M9.2 58.1h0M27.2 59.9h0M18.0 5.2h0M33.0 32.9h0M14.8 54.5h0M27.1 45.3h0M55.0 57.4h0M56.7 21.4h0M57.2 59.2h0M47.4 10.8h0M42.9 48.9h0M0.4 36.9h0M35.4 19.2h0M21.7 47.0h0M44.5 2.2h0M43.8 54.8h0M0.0 58.1h0M29.1 17.3h0M50.0 51.5h0M13.6 48.8h0M24.6 24.5h0M38.6 16.5h0M5.9 32.1h0M31.1 10.6h0M12.8 13.0h0M50.4 39.1h0M6.9 38.7h0M31.6 60.0h0M22.3 27.7h0M29.2 58.7h0M56.3 6.0h0M45.0 47.8h0M3.2 0.5h0M25.4 31.5h0M39.1 51.7h0M6.8 13.5h0M47.2 42.3h0M10.7 33.9h0M18.1 30.7h0M24.0 15.7h0M12.2 18.9h0M60.1 3.9h0M44.0 20.7h0M7.1 22.9h0M46.6 39.0h0M20.6 59.5h0M20.5 46.3h0M15.9 42.8h0M36.8 45.5h0M48.6 45.6h0M51.6 32.2h0M13.1 54.9h0M29.1 28.4h0M23.3 4.3h0M17.7 29.3h0M9.0 16.6h0M36.9 32.7h0M48.2 14.4h0M58.8 41.6h0M36.5 30.5h0M32.2 37.2h0M51.8 34.2h0M42.9 6.8h0M46.5 59.5h0M2.3 46.7h0M59.1 44.3h0M52.8 26.3h0M2.5 25.4h0M43.2 42.2h0M42.5 12.4h0M56.7 17.7h0M2.4 7.8h0M38.7 45.6h0M57.5 44.1h0M27.0 29.3h0M10.5 6.9h0M47.2 11.6h0M48.1 8.9h0M3.7 11.7h0M28.9 10.9h0M33.4 43.6h0M31.6 33.3h0M42.7 34.0h0M13.8 58.2h0M39.0 53.8h0M25.4 6.5h0M8.1 41.4h0M35.6 9.4h0M29.9 24.9h0M42.3 2.7h0M40.6 36.0h0M59.0 40.1h0M6.0 60.1h0M45.4 0.9h0M29.6 45.4h0M57.0 57.7h0M45.0 10.5h0M2.1 4.4h0M56.4 47.9h0M13.2 13.2h0M26.0 36.0h0M45.4 2.6h0M46.6 57.6h0M14.6 8.0h0M13.3 14.4h0M51.3 19.8h0M54.0 59.9h0M25.0 5.3h0M36.6 42.1h0M56.6 34.0h0M25.0 7.1h0M11.7 18.5h0M29.6 59.0h0M37.0 19.9h0M43.9 19.3h0M42.9 57.4h0M38.1 21.3h0M34.0 3.1h0M0.8 34.2h0M49.5 16.5h0M32.0 38.7h0M15.4 45.3h0M21.3 50.4h0M38.9 46.6h0M30.6 58.6h0M29.8 42.0h0M55.6 29.0h0M2.8 14.8h0M27.1 35.7h0M11.4 33.8h0M8.4 7.8h0M19.8 29.3h0M13.4 5.6h0M47.5 23.3h0M59.1 9.5h0M56.9 55.6h0" stroke="#24336c" stroke-width="1.45" stroke-linecap="round" filter="url(#blur3)"/>
<path d="M23.9 52.6h0M32.5 7.0h0M58.9 50.0h0M45.8 5.4h0M42.6 40.8h0M34.7 42.4h0M53.7 0.7h0M56.1 37.2h0M55.8 26.7h0M28.7 36.0h0M55.4 9.2h0M46.4 31.2h0M51.5 3.4h0M16.2 31.5h0M30.5 38.4h0M32.2 52.5h0M38.0 6.4h0M32.5 6.7h0M49.2 51.1h0M23.9 8.4h0M16.5 19.9h0M16.1 7.7h0M25.4 0.3h0M17.3 15.8h0M56.1 7.1h0M6.4 27.0h0M43.3 42.3h0M11.9 12.9h0M23.5 20.4h0M20.8 2.0h0M16.0 33.2h0M15.5 7.2h0M54.1 58.2h0M23.4 19.5h0M23.6 16.8h0M17.1 23.1h0M23.9 49.2h0M44.8 50.5h0M32.9 19.4h0M31.3 36.8h0M31.3 59.3h0M12.5 11.0h0M46.6 2.9h0M8.0 56.2h0M53.0 30.9h0M41.0 7.0h0M52.1 26.5h0M44.6 16.6h0M0.4 33.0h0M41.5 56.1h0M4.5 50.8h0M27.0 51.4h0M5.7 37.9h0M50.0 19.7h0M48.8 37.5h0M13.1 50.9h0M11.2 40.1h0M25.0 19.0h0M45.2 10.6h0M27.1 7.4h0M54.2 59.0h0M26.7 17.0h0M2.7 6.7h0M44.2 59.5h0M40.7 58.6h0M31.5 25.7h0M33.1 8.7h0M59.1 21.5h0M52.8 32.6h0M24.4 19.0h0M40.7 18.6h0M5.2 26.0h0M16.7 11.4h0M23.0 41.5h0M49.0 15.9h0M50.2 24.8h0M59.2 14.9h0M25.3 10.1h0M15.2 42.8h0M56.7 33.7h0M53.6 1.4h0M34.3 5.4h0M4.9 26.0h0M26.6 54.9h0M5.7 28.1h0M1.4 4.8h0M14.4 33.9h0M56.1 19.7h0M49.2 12.8h0M54.9 9.2h0M16.8 6.8h0M31.4 43.9h0M19.6 52.6h0M22.5 23.0h0M17.4 50.4h0M59.2 7.6h0M14.2 4.6h0M11.3 0.5h0M0.3 36.8h0M58.2 39.8h0M57.7 1.9h0M44.6 1.4h0M49.2 6.4h0M46.5 2.9h0M19.7 27.8h0M40.8 24.1h0M34.5 34.3h0M39.9 34.7h0M8.0 38.6h0M28.9 16.4h0M11.8 14.6h0M17.6 15.9h0M0.6 44.3h0M51.6 11.0h0M28.7 7.2h0M4.3 10.7h0M23.2 9.7h0M3.1 25.1h0M2.3 1.0h0M22.8 38.6h0M42.0 55.3h0M41.3 47.6h0M41.8 52.5h0M23.1 1.9h0M21.0 41.4h0M0.9 15.0h0M15.3 38.7h0M8.2 6.7h0M17.3 12.6h0M9.5 5.5h0M39.7 42.0h0M8.7 13.7h0M13.7 40.9h0M47.9 29.3h0M34.5 50.6h0M8.5 20.6h0M14.0 8.9h0M32.8 12.6h0M23.6 36.0h0M19.7 7.2h0M4.6 30.0h0M24.5 45.2h0M51.4 42.1h0M49.1 26.7h0M5.7 40.8h0M4.9 17.2h0M56.6 26.4h0M44.4 0.9h0M16.4 28.2h0M9.1 20.8h0M6.8 5.7h0M3.0 28.4h0M56.2 47.6h0M32.9 46.8h0M20.9 12.8h0M5.9 50.2h0M53.9 16.2h0M6.0 33.0h0M56.3 1.3h0M37.8 28.9h0M12.6 32.5h0M36.0 52.5h0M46.2 21.9h0M44.5 34.6h0M48.9 29.2h0M48.4 30.7h0M22.5 19.2h0M20.7 0.7h0M11.4 40.2h0M5.5 14.6h0M39.2 44.3h0M30.7 4.2h0M21.3 39.5h0M19.8 57.5h0M23.5 35.1h0M28.5 47.7h0M17.2 19.3h0M41.9 12.4h0M54.6 37.3h0M17.2 56.9h0M26.6 17.4h0M1.8 46.9h0M47.4 16.8h0M55.6 46.8h0M42.3 56.1h0M3.1 29.6h0M33.5 12.6h0M33.3 46.8h0M9.4 13.6h0M39.7 25.2h0M1.3 13.6h0M1.1 32.0h0M35.6 53.0h0M25.6 4.1h0M7.9 2.9h0M11.1 38.6h0M24.6 16.0h0M50.3 22.6h0M17.2 58.6h0M34.8 18.6h0M14.8 9.6h0M47.7 10.7h0M52.0 56.4h0M59.0 38.0h0M21.2 22.7h0M50.1 16.7h0M18.2 58.2h0M4.2 13.1h0M0.0 43.9h0M30.1 58.2h0M20.7 39.0h0M53.8 38.0h0M48.8 59.7h0M47.4 48.2h0M14.5 7.9h0M50.2 35.5h0M43.1 58.3h0" stroke="#2d428c" stroke-width="1.35" stroke-linecap="round" filter="url(#blur3)"/>
<path d="M24.1 2.9h0M3.8 4.4h0M3.4 1.7h0M32.3 59.5h0M33.6 26.3h0M42.4 39.9h0M50.7 59.0h0M50.7 45.4h0M58.3 43.2h0M22.2 46.5h0M4.1 52.9h0M48.5 14.2h0M48.8 20.6h0M38.8 52.1h0M52.9 58.6h0M51.3 53.6h0M42.3 26.0h0M6.7 52.3h0M56.8 52.9h0M35.8 36.3h0M19.1 23.3h0M59.2 19.0h0M7.7 28.0h0M20.5 15.7h0M51.0 31.9h0M17.5 17.6h0M2.5 29.9h0M18.3 2.1h0M15.0 49.4h0M38.6 15.5h0M31.8 12.4h0M47.6 29.0h0M30.2 28.0h0M59.6 32.1h0M37.5 54.4h0M42.7 11.6h0M31.8 19.0h0M58.6 13.7h0M50.3 58.4h0M28.8 42.5h0M42.1 10.3h0M56.3 37.0h0M22.1 6.5h0M42.2 42.6h0M27.8 27.8h0M51.3 39.5h0M18.7 11.0h0M17.3 32.3h0M55.9 20.1h0M4.5 33.4h0M2.9 28.4h0M51.7 22.2h0M12.0 22.9h0M7.3 50.3h0M14.8 0.0h0M33.2 12.4h0M7.4 42.1h0M32.5 38.1h0M0.1 40.1h0M49.3 49.4h0M47.9 4.0h0M5.2 23.3h0M22.7 44.2h0M19.7 16.8h0M9.3 13.6h0M41.6 45.8h0M40.5 18.5h0M40.9 51.7h0M36.8 51.7h0M13.5 21.0h0M29.1 2.9h0M54.1 38.9h0M20.6 58.5h0M43.8 30.7h0M7.1 7.6h0M11.8 1.6h0M59.0 12.7h0M5.1 54.8h0M8.6 56.0h0M18.3 23.7h0M27.2 31.0h0M5.5 18.0h0M40.3 13.0h0M5.2 58.5h0M46.6 48.5h0M50.0 39.5h0M13.0 10.0h0M15.2 13.9h0M10.2 58.5h0M4.2 11.7h0M24.4 48.6h0M42.6 50.7h0M12.3 39.0h0M11.4 36.6h0M40.5 38.3h0M41.6 50.0h0M12.1 46.1h0M43.7 30.1h0M36.1 37.4h0M17.3 23.4h0M56.1 47.5h0M30.0 16.1h0M45.0 38.9h0M23.3 57.0h0M12.3 1.8h0M53.6 52.7h0M36.7 35.9h0M31.3 23.5h0M28.2 4.0h0M32.0 47.9h0M44.5 33.0h0M58.2 57.9h0M52.8 11.0h0M55.1 5.7h0M42.9 8.9h0M31.4 59.9h0M30.8 59.9h0M1.8 0.3h0M34.1 20.0h0M30.5 1.5h0M23.1 45.2h0M58.4 34.2h0M49.1 37.6h0M32.7 46.2h0M11.3 54.6h0M6.7 47.0h0M10.3 21.2h0M1.9 41.2h0M51.4 60.2h0M25.9 26.0h0M28.2 14.2h0M23.1 41.4h0M47.9 47.2h0M12.6 35.1h0M48.2 23.9h0M51.4 42.1h0M56.8 41.9h0M8.4 23.0h0M39.1 42.7h0M55.9 10.9h0M32.3 58.9h0M31.7 39.1h0M21.8 36.0h0M34.2 40.2h0M13.3 42.9h0M23.6 2.0h0M39.3 8.7h0M38.6 32.1h0M55.2 26.0h0M27.2 20.4h0M30.3 9.0h0M44.7 52.0h0M6.6 51.3h0M52.9 44.0h0M51.5 52.9h0M42.8 16.9h0M40.8 54.2h0M36.1 57.1h0M59.5 25.0h0M14.9 49.1h0M5.6 37.0h0M49.4 1.5h0M15.5 3.1h0M51.3 19.8h0M11.0 15.2h0M48.9 13.5h0M45.1 39.6h0M22.7 47.8h0M4.3 56.6h0M58.9 23.0h0M20.0 39.3h0M53.3 23.4h0M58.7 50.8h0M17.4 47.0h0M6.5 0.9h0M35.8 51.0h0M57.4 59.4h0M7.2 25.3h0M6.9 56.6h0M41.5 17.3h0M20.4 42.1h0M18.3 56.0h0M59.0 56.3h0M3.4 35.9h0M6.4 30.9h0M43.8 1.6h0M17.9 57.8h0M12.9 45.0h0M48.1 13.7h0M55.2 51.4h0M31.8 47.5h0M21.6 42.2h0M50.5 19.0h0M6.8 55.4h0M13.5 15.2h0M42.8 8.9h0M46.5 26.7h0M36.8 10.9h0M13.5 32.7h0M4.5 18.0h0M18.0 59.2h0M55.6 57.9h0M21.6 47.1h0M37.6 5.5h0M17.8 23.8h0M10.7 30.6h0M19.6 50.9h0M44.7 5.2h0M45.0 45.3h0M20.8 31.9h0M30.4 16.2h0M30.1 4.2h0M17.0 47.4h0M32.5 47.7h0M43.1 49.1h0M5.9 29.5h0" stroke="#3852aa" stroke-width="1.25" stroke-linecap="round" filter="url(#blur3)"/>
<line x1="47.8" y1="52.5" x2="55.8" y2="52.5" stroke="#ccc" stroke-width="0.5"/>
<text x="51.8" y="57.5" font-size="3.8" text-anchor="middle" fill="#e0e0e0">50 µm</text>
</svg>
<svg x="500.3" y="260" width="60.3" height="60.3" viewBox="0 0 60.3 60.3" overflow="hidden">
<rect width="60.3" height="60.3" fill="#080d0d"/>
<path d="M34.6 40.1h0M38.2 36.1h0M8.5 20.2h0M8.4 26.1h0M22.6 47.4h0M19.1 27.5h0M29.2 5.8h0M14.9 56.8h0M17.5 37.8h0M30.1 20.9h0M0.3 43.4h0M7.4 52.0h0M7.9 24.8h0M46.3 3.8h0M5.4 54.5h0M60.3 24.4h0M41.7 50.7h0M21.9 37.5h0M13.4 55.8h0M57.5 56.9h0M47.1 27.5h0M49.6 59.5h0M25.2 32.2h0M25.8 58.2h0M53.2 6.4h0M27.5 38.6h0M53.5 41.4h0M3.6 1.4h0M36.9 16.5h0M1.2 12.0h0M49.5 24.5h0M3.2 5.1h0M14.2 6.5h0M44.6 30.4h0M6.5 10.5h0M39.6 21.2h0M27.9 11.0h0M59.4 59.1h0M43.5 58.6h0M6.3 15.9h0M39.4 25.1h0M54.5 53.8h0M6.1 51.9h0M1.3 32.7h0M28.5 56.6h0M24.7 45.0h0M43.6 27.4h0M8.7 47.2h0M22.9 37.6h0M13.0 48.9h0M46.3 8.7h0M25.8 0.0h0M7.8 15.1h0M6.7 58.8h0M1.5 33.6h0M52.7 44.4h0M2.5 12.2h0M17.3 54.5h0M10.1 21.7h0M31.8 11.9h0M45.4 39.8h0M31.3 0.5h0M9.3 26.7h0M9.7 1.9h0" stroke="#2f7a30" stroke-width="1.35" stroke-linecap="round" opacity="1.0" filter="url(#blur3)"/>
<path d="M17.9 37.2h0M25.5 39.4h0M49.5 15.7h0M9.1 44.8h0M43.7 9.0h0M52.0 56.5h0M50.0 32.1h0M14.0 23.8h0M35.4 3.1h0M10.5 11.2h0M18.6 29.2h0M38.2 25.6h0M8.5 14.2h0M5.3 1.2h0M13.2 21.5h0M55.3 18.1h0M7.2 53.9h0M22.6 15.4h0M16.8 55.2h0M8.4 54.4h0M36.6 31.7h0M40.7 8.2h0M17.2 45.4h0M42.7 33.6h0M26.7 10.0h0M15.2 27.1h0M57.6 57.3h0M60.1 31.6h0M42.8 35.5h0M32.9 3.2h0M1.1 16.6h0M8.9 59.1h0M3.9 35.0h0M33.3 47.1h0M45.6 23.8h0M55.7 40.2h0M52.0 53.7h0M25.2 11.9h0M54.5 27.0h0M34.7 12.3h0M20.5 54.5h0M25.0 8.3h0M10.1 26.1h0M35.7 2.3h0M50.4 43.6h0M44.9 24.1h0M27.2 30.6h0M56.8 57.3h0M15.6 1.3h0M38.9 19.3h0M11.7 37.5h0M32.5 58.1h0M33.7 9.2h0M50.4 12.4h0M27.6 28.4h0M58.2 56.5h0M30.4 24.9h0M24.4 16.8h0M27.1 59.9h0M52.1 33.5h0M22.7 41.8h0M7.7 36.0h0M57.1 28.5h0" stroke="#45a040" stroke-width="1.35" stroke-linecap="round" opacity="1.0" filter="url(#blur3)"/>
<path d="M4.0 23.4h0M43.6 53.1h0M16.3 1.0h0M9.6 11.6h0M30.1 23.9h0M21.1 54.0h0M24.5 49.5h0M7.8 39.4h0M23.6 32.7h0M43.6 46.7h0M47.5 28.2h0M39.1 46.5h0M7.2 49.8h0M25.4 15.1h0M33.9 35.9h0M10.7 54.5h0M19.7 31.0h0M15.9 42.4h0M44.5 45.1h0M50.2 33.9h0M47.9 18.6h0M43.4 53.3h0M42.9 55.8h0M31.1 53.5h0M9.7 4.9h0M44.3 57.3h0M13.4 53.6h0M18.2 53.0h0M2.0 51.6h0M47.7 0.9h0M44.7 37.3h0M18.0 43.2h0M21.4 59.7h0M8.9 11.7h0M56.7 50.6h0M45.8 16.3h0M37.2 12.0h0M42.6 8.2h0M54.6 7.4h0M55.0 24.0h0M26.5 47.0h0M24.5 17.1h0M49.5 39.9h0M24.3 20.7h0M48.1 18.7h0M26.3 11.3h0M30.4 56.9h0M35.2 3.0h0M32.6 1.6h0M16.1 20.3h0M22.4 60.1h0M17.8 11.3h0M32.2 4.3h0M3.0 38.7h0M37.5 14.0h0M38.1 45.3h0M33.0 15.7h0M58.5 6.1h0M32.9 37.2h0M53.5 41.1h0M49.1 4.9h0M43.5 8.0h0M30.7 33.9h0" stroke="#5abc4c" stroke-width="1.35" stroke-linecap="round" opacity="1.0" filter="url(#blur3)"/>
<line x1="47.8" y1="52.5" x2="55.8" y2="52.5" stroke="#ccc" stroke-width="0.5"/>
<text x="51.8" y="57.5" font-size="3.8" text-anchor="middle" fill="#e0e0e0">50 µm</text>
</svg>
<svg x="500.3" y="321.9" width="60.3" height="60.3" viewBox="0 0 60.3 60.3" overflow="hidden">
<rect width="60.3" height="60.3" fill="#0c1022"/>
<path d="M44.1 52.1h0M3.8 27.5h0M21.0 15.7h0M25.2 47.2h0M57.5 39.5h0M32.2 57.5h0M17.0 48.7h0M51.3 44.2h0M59.9 57.0h0M25.9 54.0h0M39.7 11.1h0M2.1 51.0h0M17.2 22.2h0M19.8 36.5h0M59.8 20.1h0M59.0 58.5h0M57.2 14.8h0M13.0 47.4h0M50.1 59.8h0M59.7 55.2h0M52.4 1.5h0M27.4 42.1h0M28.2 46.6h0M48.5 0.6h0M40.0 40.0h0M51.6 42.3h0M20.6 46.7h0M4.9 29.1h0M56.7 28.2h0M58.8 12.8h0M20.3 36.5h0M46.6 46.9h0M6.8 19.7h0M21.7 28.3h0M30.6 54.8h0M4.5 58.1h0M42.1 13.8h0M41.3 26.7h0M11.0 26.1h0M29.8 14.3h0M7.9 13.7h0M55.7 52.7h0M36.2 58.5h0M16.3 17.4h0M40.3 30.5h0M36.3 56.4h0M40.3 13.3h0M21.7 4.3h0M34.3 8.2h0M47.0 54.5h0M4.8 34.9h0M27.4 13.1h0M37.4 0.6h0M14.1 25.7h0M59.7 55.6h0M39.9 26.6h0M46.1 52.6h0M8.6 58.6h0M13.6 25.6h0M53.7 33.0h0M34.5 24.1h0M9.7 41.5h0M13.5 12.5h0M7.8 15.6h0M38.4 23.6h0M28.5 57.1h0M37.4 46.0h0M45.4 48.8h0M33.4 51.7h0M24.5 11.7h0M48.2 9.8h0M9.6 7.7h0M30.5 7.2h0M54.5 15.8h0M46.3 16.4h0M37.9 50.1h0M18.6 59.5h0M36.4 50.0h0M12.4 13.5h0M52.6 49.5h0M29.6 51.9h0M9.2 58.1h0M27.2 59.9h0M18.0 5.2h0M33.0 32.9h0M14.8 54.5h0M27.1 45.3h0M55.0 57.4h0M56.7 21.4h0M57.2 59.2h0M47.4 10.8h0M42.9 48.9h0M0.4 36.9h0M35.4 19.2h0M21.7 47.0h0M44.5 2.2h0M43.8 54.8h0M0.0 58.1h0M29.1 17.3h0M50.0 51.5h0M13.6 48.8h0M24.6 24.5h0M38.6 16.5h0M5.9 32.1h0M31.1 10.6h0M12.8 13.0h0M50.4 39.1h0M6.9 38.7h0M31.6 60.0h0M22.3 27.7h0M29.2 58.7h0M56.3 6.0h0M45.0 47.8h0M3.2 0.5h0M25.4 31.5h0M39.1 51.7h0M6.8 13.5h0M47.2 42.3h0M10.7 33.9h0M18.1 30.7h0M24.0 15.7h0M12.2 18.9h0M60.1 3.9h0M44.0 20.7h0M7.1 22.9h0M46.6 39.0h0M20.6 59.5h0M20.5 46.3h0M15.9 42.8h0M36.8 45.5h0M48.6 45.6h0M51.6 32.2h0M13.1 54.9h0M29.1 28.4h0M23.3 4.3h0M17.7 29.3h0M9.0 16.6h0M36.9 32.7h0M48.2 14.4h0M58.8 41.6h0M36.5 30.5h0M32.2 37.2h0M51.8 34.2h0M42.9 6.8h0M46.5 59.5h0M2.3 46.7h0M59.1 44.3h0M52.8 26.3h0M2.5 25.4h0M43.2 42.2h0M42.5 12.4h0M56.7 17.7h0M2.4 7.8h0M38.7 45.6h0M57.5 44.1h0M27.0 29.3h0M10.5 6.9h0M47.2 11.6h0M48.1 8.9h0M3.7 11.7h0M28.9 10.9h0M33.4 43.6h0M31.6 33.3h0M42.7 34.0h0M13.8 58.2h0M39.0 53.8h0M25.4 6.5h0M8.1 41.4h0M35.6 9.4h0M29.9 24.9h0M42.3 2.7h0M40.6 36.0h0M59.0 40.1h0M6.0 60.1h0M45.4 0.9h0M29.6 45.4h0M57.0 57.7h0M45.0 10.5h0M2.1 4.4h0M56.4 47.9h0M13.2 13.2h0M26.0 36.0h0M45.4 2.6h0M46.6 57.6h0M14.6 8.0h0M13.3 14.4h0M51.3 19.8h0M54.0 59.9h0M25.0 5.3h0M36.6 42.1h0M56.6 34.0h0M25.0 7.1h0M11.7 18.5h0M29.6 59.0h0M37.0 19.9h0M43.9 19.3h0M42.9 57.4h0M38.1 21.3h0M34.0 3.1h0M0.8 34.2h0M49.5 16.5h0M32.0 38.7h0M15.4 45.3h0M21.3 50.4h0M38.9 46.6h0M30.6 58.6h0M29.8 42.0h0M55.6 29.0h0M2.8 14.8h0M27.1 35.7h0M11.4 33.8h0M8.4 7.8h0M19.8 29.3h0M13.4 5.6h0M47.5 23.3h0M59.1 9.5h0M56.9 55.6h0" stroke="#24336c" stroke-width="1.45" stroke-linecap="round" filter="url(#blur3)"/>
<path d="M23.9 52.6h0M32.5 7.0h0M58.9 50.0h0M45.8 5.4h0M42.6 40.8h0M34.7 42.4h0M53.7 0.7h0M56.1 37.2h0M55.8 26.7h0M28.7 36.0h0M55.4 9.2h0M46.4 31.2h0M51.5 3.4h0M16.2 31.5h0M30.5 38.4h0M32.2 52.5h0M38.0 6.4h0M32.5 6.7h0M49.2 51.1h0M23.9 8.4h0M16.5 19.9h0M16.1 7.7h0M25.4 0.3h0M17.3 15.8h0M56.1 7.1h0M6.4 27.0h0M43.3 42.3h0M11.9 12.9h0M23.5 20.4h0M20.8 2.0h0M16.0 33.2h0M15.5 7.2h0M54.1 58.2h0M23.4 19.5h0M23.6 16.8h0M17.1 23.1h0M23.9 49.2h0M44.8 50.5h0M32.9 19.4h0M31.3 36.8h0M31.3 59.3h0M12.5 11.0h0M46.6 2.9h0M8.0 56.2h0M53.0 30.9h0M41.0 7.0h0M52.1 26.5h0M44.6 16.6h0M0.4 33.0h0M41.5 56.1h0M4.5 50.8h0M27.0 51.4h0M5.7 37.9h0M50.0 19.7h0M48.8 37.5h0M13.1 50.9h0M11.2 40.1h0M25.0 19.0h0M45.2 10.6h0M27.1 7.4h0M54.2 59.0h0M26.7 17.0h0M2.7 6.7h0M44.2 59.5h0M40.7 58.6h0M31.5 25.7h0M33.1 8.7h0M59.1 21.5h0M52.8 32.6h0M24.4 19.0h0M40.7 18.6h0M5.2 26.0h0M16.7 11.4h0M23.0 41.5h0M49.0 15.9h0M50.2 24.8h0M59.2 14.9h0M25.3 10.1h0M15.2 42.8h0M56.7 33.7h0M53.6 1.4h0M34.3 5.4h0M4.9 26.0h0M26.6 54.9h0M5.7 28.1h0M1.4 4.8h0M14.4 33.9h0M56.1 19.7h0M49.2 12.8h0M54.9 9.2h0M16.8 6.8h0M31.4 43.9h0M19.6 52.6h0M22.5 23.0h0M17.4 50.4h0M59.2 7.6h0M14.2 4.6h0M11.3 0.5h0M0.3 36.8h0M58.2 39.8h0M57.7 1.9h0M44.6 1.4h0M49.2 6.4h0M46.5 2.9h0M19.7 27.8h0M40.8 24.1h0M34.5 34.3h0M39.9 34.7h0M8.0 38.6h0M28.9 16.4h0M11.8 14.6h0M17.6 15.9h0M0.6 44.3h0M51.6 11.0h0M28.7 7.2h0M4.3 10.7h0M23.2 9.7h0M3.1 25.1h0M2.3 1.0h0M22.8 38.6h0M42.0 55.3h0M41.3 47.6h0M41.8 52.5h0M23.1 1.9h0M21.0 41.4h0M0.9 15.0h0M15.3 38.7h0M8.2 6.7h0M17.3 12.6h0M9.5 5.5h0M39.7 42.0h0M8.7 13.7h0M13.7 40.9h0M47.9 29.3h0M34.5 50.6h0M8.5 20.6h0M14.0 8.9h0M32.8 12.6h0M23.6 36.0h0M19.7 7.2h0M4.6 30.0h0M24.5 45.2h0M51.4 42.1h0M49.1 26.7h0M5.7 40.8h0M4.9 17.2h0M56.6 26.4h0M44.4 0.9h0M16.4 28.2h0M9.1 20.8h0M6.8 5.7h0M3.0 28.4h0M56.2 47.6h0M32.9 46.8h0M20.9 12.8h0M5.9 50.2h0M53.9 16.2h0M6.0 33.0h0M56.3 1.3h0M37.8 28.9h0M12.6 32.5h0M36.0 52.5h0M46.2 21.9h0M44.5 34.6h0M48.9 29.2h0M48.4 30.7h0M22.5 19.2h0M20.7 0.7h0M11.4 40.2h0M5.5 14.6h0M39.2 44.3h0M30.7 4.2h0M21.3 39.5h0M19.8 57.5h0M23.5 35.1h0M28.5 47.7h0M17.2 19.3h0M41.9 12.4h0M54.6 37.3h0M17.2 56.9h0M26.6 17.4h0M1.8 46.9h0M47.4 16.8h0M55.6 46.8h0M42.3 56.1h0M3.1 29.6h0M33.5 12.6h0M33.3 46.8h0M9.4 13.6h0M39.7 25.2h0M1.3 13.6h0M1.1 32.0h0M35.6 53.0h0M25.6 4.1h0M7.9 2.9h0M11.1 38.6h0M24.6 16.0h0M50.3 22.6h0M17.2 58.6h0M34.8 18.6h0M14.8 9.6h0M47.7 10.7h0M52.0 56.4h0M59.0 38.0h0M21.2 22.7h0M50.1 16.7h0M18.2 58.2h0M4.2 13.1h0M0.0 43.9h0M30.1 58.2h0M20.7 39.0h0M53.8 38.0h0M48.8 59.7h0M47.4 48.2h0M14.5 7.9h0M50.2 35.5h0M43.1 58.3h0" stroke="#2d428c" stroke-width="1.35" stroke-linecap="round" filter="url(#blur3)"/>
<path d="M24.1 2.9h0M3.8 4.4h0M3.4 1.7h0M32.3 59.5h0M33.6 26.3h0M42.4 39.9h0M50.7 59.0h0M50.7 45.4h0M58.3 43.2h0M22.2 46.5h0M4.1 52.9h0M48.5 14.2h0M48.8 20.6h0M38.8 52.1h0M52.9 58.6h0M51.3 53.6h0M42.3 26.0h0M6.7 52.3h0M56.8 52.9h0M35.8 36.3h0M19.1 23.3h0M59.2 19.0h0M7.7 28.0h0M20.5 15.7h0M51.0 31.9h0M17.5 17.6h0M2.5 29.9h0M18.3 2.1h0M15.0 49.4h0M38.6 15.5h0M31.8 12.4h0M47.6 29.0h0M30.2 28.0h0M59.6 32.1h0M37.5 54.4h0M42.7 11.6h0M31.8 19.0h0M58.6 13.7h0M50.3 58.4h0M28.8 42.5h0M42.1 10.3h0M56.3 37.0h0M22.1 6.5h0M42.2 42.6h0M27.8 27.8h0M51.3 39.5h0M18.7 11.0h0M17.3 32.3h0M55.9 20.1h0M4.5 33.4h0M2.9 28.4h0M51.7 22.2h0M12.0 22.9h0M7.3 50.3h0M14.8 0.0h0M33.2 12.4h0M7.4 42.1h0M32.5 38.1h0M0.1 40.1h0M49.3 49.4h0M47.9 4.0h0M5.2 23.3h0M22.7 44.2h0M19.7 16.8h0M9.3 13.6h0M41.6 45.8h0M40.5 18.5h0M40.9 51.7h0M36.8 51.7h0M13.5 21.0h0M29.1 2.9h0M54.1 38.9h0M20.6 58.5h0M43.8 30.7h0M7.1 7.6h0M11.8 1.6h0M59.0 12.7h0M5.1 54.8h0M8.6 56.0h0M18.3 23.7h0M27.2 31.0h0M5.5 18.0h0M40.3 13.0h0M5.2 58.5h0M46.6 48.5h0M50.0 39.5h0M13.0 10.0h0M15.2 13.9h0M10.2 58.5h0M4.2 11.7h0M24.4 48.6h0M42.6 50.7h0M12.3 39.0h0M11.4 36.6h0M40.5 38.3h0M41.6 50.0h0M12.1 46.1h0M43.7 30.1h0M36.1 37.4h0M17.3 23.4h0M56.1 47.5h0M30.0 16.1h0M45.0 38.9h0M23.3 57.0h0M12.3 1.8h0M53.6 52.7h0M36.7 35.9h0M31.3 23.5h0M28.2 4.0h0M32.0 47.9h0M44.5 33.0h0M58.2 57.9h0M52.8 11.0h0M55.1 5.7h0M42.9 8.9h0M31.4 59.9h0M30.8 59.9h0M1.8 0.3h0M34.1 20.0h0M30.5 1.5h0M23.1 45.2h0M58.4 34.2h0M49.1 37.6h0M32.7 46.2h0M11.3 54.6h0M6.7 47.0h0M10.3 21.2h0M1.9 41.2h0M51.4 60.2h0M25.9 26.0h0M28.2 14.2h0M23.1 41.4h0M47.9 47.2h0M12.6 35.1h0M48.2 23.9h0M51.4 42.1h0M56.8 41.9h0M8.4 23.0h0M39.1 42.7h0M55.9 10.9h0M32.3 58.9h0M31.7 39.1h0M21.8 36.0h0M34.2 40.2h0M13.3 42.9h0M23.6 2.0h0M39.3 8.7h0M38.6 32.1h0M55.2 26.0h0M27.2 20.4h0M30.3 9.0h0M44.7 52.0h0M6.6 51.3h0M52.9 44.0h0M51.5 52.9h0M42.8 16.9h0M40.8 54.2h0M36.1 57.1h0M59.5 25.0h0M14.9 49.1h0M5.6 37.0h0M49.4 1.5h0M15.5 3.1h0M51.3 19.8h0M11.0 15.2h0M48.9 13.5h0M45.1 39.6h0M22.7 47.8h0M4.3 56.6h0M58.9 23.0h0M20.0 39.3h0M53.3 23.4h0M58.7 50.8h0M17.4 47.0h0M6.5 0.9h0M35.8 51.0h0M57.4 59.4h0M7.2 25.3h0M6.9 56.6h0M41.5 17.3h0M20.4 42.1h0M18.3 56.0h0M59.0 56.3h0M3.4 35.9h0M6.4 30.9h0M43.8 1.6h0M17.9 57.8h0M12.9 45.0h0M48.1 13.7h0M55.2 51.4h0M31.8 47.5h0M21.6 42.2h0M50.5 19.0h0M6.8 55.4h0M13.5 15.2h0M42.8 8.9h0M46.5 26.7h0M36.8 10.9h0M13.5 32.7h0M4.5 18.0h0M18.0 59.2h0M55.6 57.9h0M21.6 47.1h0M37.6 5.5h0M17.8 23.8h0M10.7 30.6h0M19.6 50.9h0M44.7 5.2h0M45.0 45.3h0M20.8 31.9h0M30.4 16.2h0M30.1 4.2h0M17.0 47.4h0M32.5 47.7h0M43.1 49.1h0M5.9 29.5h0" stroke="#3852aa" stroke-width="1.25" stroke-linecap="round" filter="url(#blur3)"/>
<path d="M34.6 40.1h0M38.2 36.1h0M8.5 20.2h0M8.4 26.1h0M22.6 47.4h0M19.1 27.5h0M29.2 5.8h0M14.9 56.8h0M17.5 37.8h0M30.1 20.9h0M0.3 43.4h0M7.4 52.0h0M7.9 24.8h0M46.3 3.8h0M5.4 54.5h0M60.3 24.4h0M41.7 50.7h0M21.9 37.5h0M13.4 55.8h0M57.5 56.9h0M47.1 27.5h0M49.6 59.5h0M25.2 32.2h0M25.8 58.2h0M53.2 6.4h0M27.5 38.6h0M53.5 41.4h0M3.6 1.4h0M36.9 16.5h0M1.2 12.0h0M49.5 24.5h0M3.2 5.1h0M14.2 6.5h0M44.6 30.4h0M6.5 10.5h0M39.6 21.2h0M27.9 11.0h0M59.4 59.1h0M43.5 58.6h0M6.3 15.9h0M39.4 25.1h0M54.5 53.8h0M6.1 51.9h0M1.3 32.7h0M28.5 56.6h0M24.7 45.0h0M43.6 27.4h0M8.7 47.2h0M22.9 37.6h0M13.0 48.9h0M46.3 8.7h0M25.8 0.0h0M7.8 15.1h0M6.7 58.8h0M1.5 33.6h0M52.7 44.4h0M2.5 12.2h0M17.3 54.5h0M10.1 21.7h0M31.8 11.9h0M45.4 39.8h0M31.3 0.5h0M9.3 26.7h0M9.7 1.9h0" stroke="#2f7a30" stroke-width="1.35" stroke-linecap="round" opacity="0.85" filter="url(#blur3)"/>
<path d="M17.9 37.2h0M25.5 39.4h0M49.5 15.7h0M9.1 44.8h0M43.7 9.0h0M52.0 56.5h0M50.0 32.1h0M14.0 23.8h0M35.4 3.1h0M10.5 11.2h0M18.6 29.2h0M38.2 25.6h0M8.5 14.2h0M5.3 1.2h0M13.2 21.5h0M55.3 18.1h0M7.2 53.9h0M22.6 15.4h0M16.8 55.2h0M8.4 54.4h0M36.6 31.7h0M40.7 8.2h0M17.2 45.4h0M42.7 33.6h0M26.7 10.0h0M15.2 27.1h0M57.6 57.3h0M60.1 31.6h0M42.8 35.5h0M32.9 3.2h0M1.1 16.6h0M8.9 59.1h0M3.9 35.0h0M33.3 47.1h0M45.6 23.8h0M55.7 40.2h0M52.0 53.7h0M25.2 11.9h0M54.5 27.0h0M34.7 12.3h0M20.5 54.5h0M25.0 8.3h0M10.1 26.1h0M35.7 2.3h0M50.4 43.6h0M44.9 24.1h0M27.2 30.6h0M56.8 57.3h0M15.6 1.3h0M38.9 19.3h0M11.7 37.5h0M32.5 58.1h0M33.7 9.2h0M50.4 12.4h0M27.6 28.4h0M58.2 56.5h0M30.4 24.9h0M24.4 16.8h0M27.1 59.9h0M52.1 33.5h0M22.7 41.8h0M7.7 36.0h0M57.1 28.5h0" stroke="#45a040" stroke-width="1.35" stroke-linecap="round" opacity="0.85" filter="url(#blur3)"/>
<path d="M4.0 23.4h0M43.6 53.1h0M16.3 1.0h0M9.6 11.6h0M30.1 23.9h0M21.1 54.0h0M24.5 49.5h0M7.8 39.4h0M23.6 32.7h0M43.6 46.7h0M47.5 28.2h0M39.1 46.5h0M7.2 49.8h0M25.4 15.1h0M33.9 35.9h0M10.7 54.5h0M19.7 31.0h0M15.9 42.4h0M44.5 45.1h0M50.2 33.9h0M47.9 18.6h0M43.4 53.3h0M42.9 55.8h0M31.1 53.5h0M9.7 4.9h0M44.3 57.3h0M13.4 53.6h0M18.2 53.0h0M2.0 51.6h0M47.7 0.9h0M44.7 37.3h0M18.0 43.2h0M21.4 59.7h0M8.9 11.7h0M56.7 50.6h0M45.8 16.3h0M37.2 12.0h0M42.6 8.2h0M54.6 7.4h0M55.0 24.0h0M26.5 47.0h0M24.5 17.1h0M49.5 39.9h0M24.3 20.7h0M48.1 18.7h0M26.3 11.3h0M30.4 56.9h0M35.2 3.0h0M32.6 1.6h0M16.1 20.3h0M22.4 60.1h0M17.8 11.3h0M32.2 4.3h0M3.0 38.7h0M37.5 14.0h0M38.1 45.3h0M33.0 15.7h0M58.5 6.1h0M32.9 37.2h0M53.5 41.1h0M49.1 4.9h0M43.5 8.0h0M30.7 33.9h0" stroke="#5abc4c" stroke-width="1.35" stroke-linecap="round" opacity="0.85" filter="url(#blur3)"/>
<line x1="47.8" y1="52.5" x2="55.8" y2="52.5" stroke="#ccc" stroke-width="0.5"/>
<text x="51.8" y="57.5" font-size="3.8" text-anchor="middle" fill="#e0e0e0">50 µm</text>
</svg>
<line x1="622.5" y1="252.8" x2="622.5" y2="344.0" stroke="#111" stroke-width="1.1"/>
<line x1="619.5" y1="344.0" x2="683.5" y2="344.0" stroke="#111" stroke-width="1.1"/>
<line x1="619.5" y1="344.00" x2="622.5" y2="344.00" stroke="#111" stroke-width="1"/>
<text x="618.0" y="347.0" font-size="8.6" text-anchor="end" fill="#222" >0</text>
<line x1="619.5" y1="325.88" x2="622.5" y2="325.88" stroke="#111" stroke-width="1"/>
<text x="618.0" y="328.9" font-size="8.6" text-anchor="end" fill="#222" >1000</text>
<line x1="619.5" y1="307.76" x2="622.5" y2="307.76" stroke="#111" stroke-width="1"/>
<text x="618.0" y="310.8" font-size="8.6" text-anchor="end" fill="#222" >2000</text>
<line x1="619.5" y1="289.64" x2="622.5" y2="289.64" stroke="#111" stroke-width="1"/>
<text x="618.0" y="292.6" font-size="8.6" text-anchor="end" fill="#222" >3000</text>
<line x1="619.5" y1="271.52" x2="622.5" y2="271.52" stroke="#111" stroke-width="1"/>
<text x="618.0" y="274.5" font-size="8.6" text-anchor="end" fill="#222" >4000</text>
<line x1="619.5" y1="253.40" x2="622.5" y2="253.40" stroke="#111" stroke-width="1"/>
<text x="618.0" y="256.4" font-size="8.6" text-anchor="end" fill="#222" >5000</text>
<line x1="640.3" y1="344.0" x2="640.3" y2="346.5" stroke="#111" stroke-width="1"/>
<line x1="666.8" y1="344.0" x2="666.8" y2="346.5" stroke="#111" stroke-width="1"/>
<text x="639.2" y="357.5" font-size="9.35" text-anchor="middle" fill="#222" >young</text>
<text x="667.2" y="357.5" font-size="9.35" text-anchor="middle" fill="#222" >old</text>
<text transform="translate(587.6,293.5) rotate(-90)" font-size="9" text-anchor="middle" fill="#222" >mean 5hmC intensity per DAPI (AU)</text>
<path d="M640.60,272.30 L640.90,278.00 L641.20,284.90 L641.70,296.30 L642.30,307.70 L643.50,316.90 L645.30,323.70 L648.30,329.40 L650.60,334.00 L650.60,338.60 L649.00,342.00 L644.90,343.60 L635.70,343.60 L631.60,342.00 L630.00,338.60 L630.00,334.00 L632.30,329.40 L635.30,323.70 L637.10,316.90 L638.30,307.70 L638.90,296.30 L639.40,284.90 L639.70,278.00 L640.00,272.30Z" fill="#dcdcd7" stroke="#dcdcd7" stroke-width="0.4" stroke-linejoin="round"/>
<path d="M671.40,268.90 L672.00,269.50 L671.60,271.00 L670.00,272.50 L669.20,276.00 L668.90,280.30 L668.70,296.30 L668.90,307.70 L669.80,316.90 L671.20,323.70 L673.90,330.60 L675.30,335.10 L674.80,339.70 L671.60,343.10 L661.60,343.10 L658.40,339.70 L657.90,335.10 L659.30,330.60 L662.00,323.70 L663.40,316.90 L664.30,307.70 L664.50,296.30 L664.30,280.30 L664.00,276.00 L663.20,272.50 L661.60,271.00 L661.20,269.50 L661.80,268.90Z" fill="#eb9aa1" stroke="#eb9aa1" stroke-width="0.4" stroke-linejoin="round"/>
<line x1="628.9" y1="331.7" x2="651.3" y2="331.7" stroke="#111" stroke-width="1.3"/>
<line x1="655.8" y1="324.9" x2="678" y2="324.9" stroke="#dc2035" stroke-width="1.3"/>
<line x1="637.6" y1="257" x2="666.6" y2="257" stroke="#111" stroke-width="0.9"/>
<text x="653.5" y="251.3" font-size="7.6" text-anchor="middle" fill="#222" ><tspan font-style="italic">p</tspan>&lt;0.001</text>
</svg>
</body></html>
